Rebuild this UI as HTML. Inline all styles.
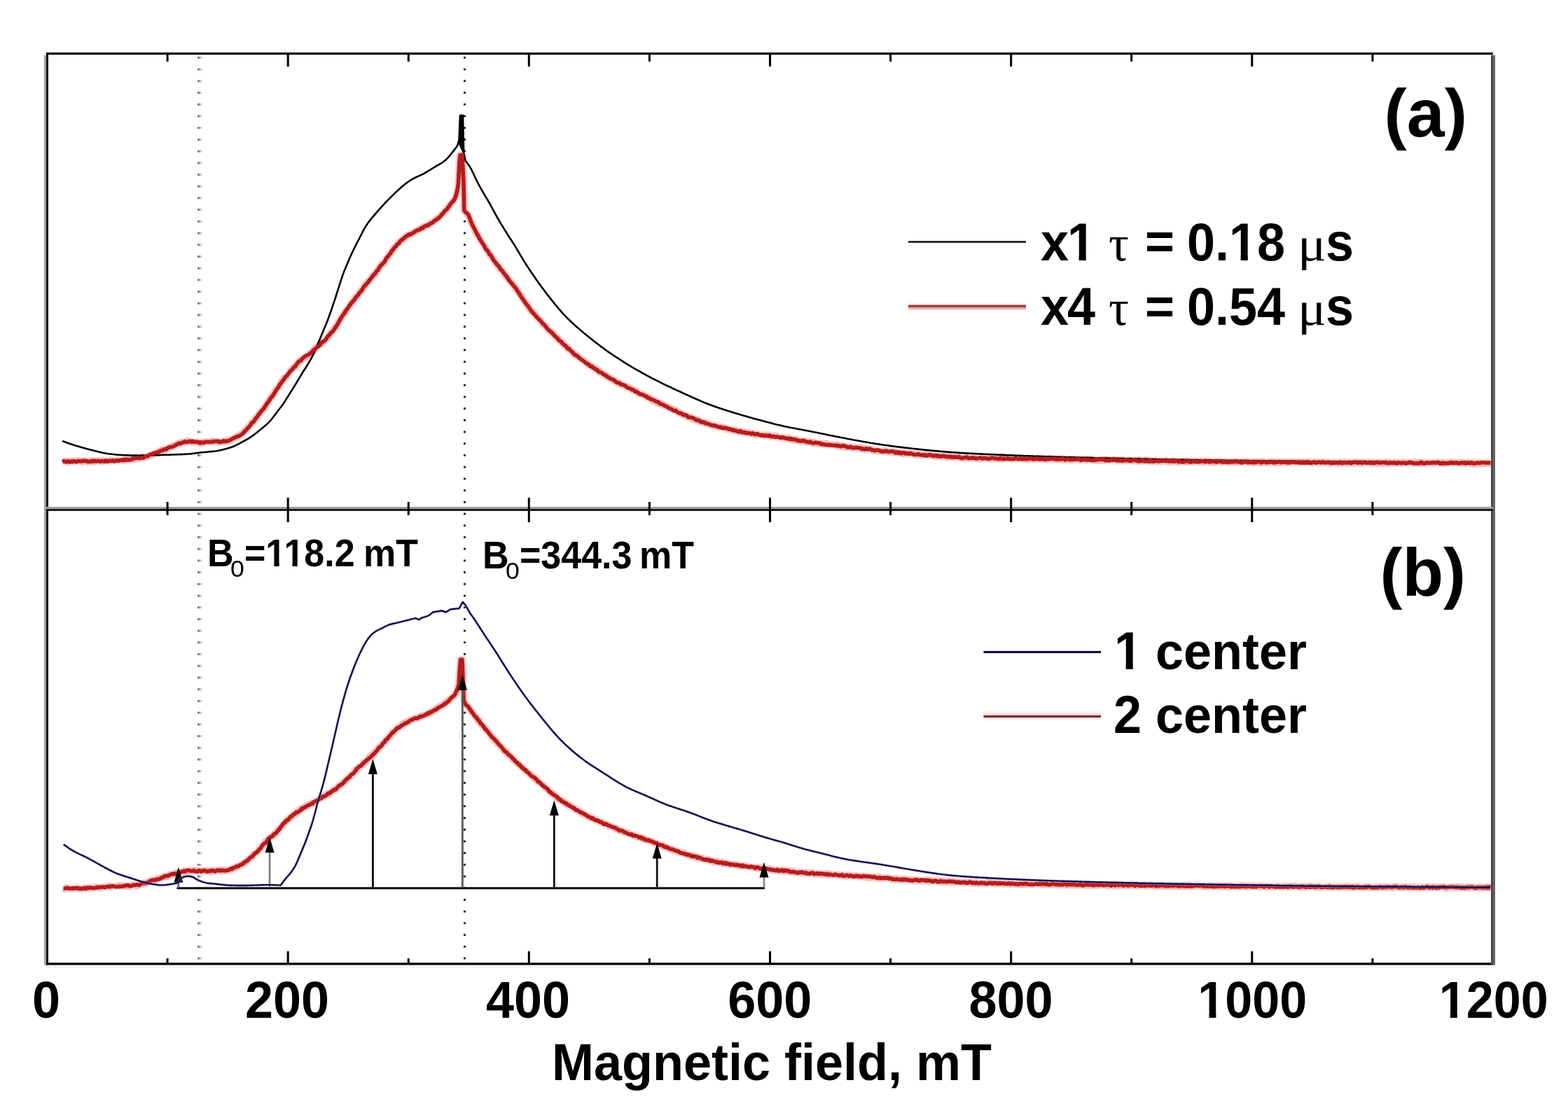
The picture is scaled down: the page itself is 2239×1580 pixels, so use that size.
<!DOCTYPE html><html><head><meta charset="utf-8"><style>html,body{margin:0;padding:0;background:#fff;width:2239px;height:1580px;overflow:hidden}svg{display:block}</style></head><body><svg width="2239" height="1580" viewBox="0 0 2239 1580"><rect x="0" y="0" width="2239" height="1580" fill="#fff"/><rect x="282.0" y="80.9" width="3" height="3" fill="#7c7c7c"/><rect x="285.0" y="80.9" width="3" height="3" fill="#c4c4c4"/><rect x="282.0" y="97.6" width="3" height="3" fill="#7c7c7c"/><rect x="285.0" y="97.6" width="3" height="3" fill="#c4c4c4"/><rect x="282.0" y="114.3" width="3" height="3" fill="#7c7c7c"/><rect x="285.0" y="114.3" width="3" height="3" fill="#c4c4c4"/><rect x="282.0" y="131.0" width="3" height="3" fill="#7c7c7c"/><rect x="285.0" y="131.0" width="3" height="3" fill="#c4c4c4"/><rect x="282.0" y="147.7" width="3" height="3" fill="#7c7c7c"/><rect x="285.0" y="147.7" width="3" height="3" fill="#c4c4c4"/><rect x="282.0" y="164.5" width="3" height="3" fill="#7c7c7c"/><rect x="285.0" y="164.5" width="3" height="3" fill="#c4c4c4"/><rect x="282.0" y="181.2" width="3" height="3" fill="#7c7c7c"/><rect x="285.0" y="181.2" width="3" height="3" fill="#c4c4c4"/><rect x="282.0" y="197.9" width="3" height="3" fill="#7c7c7c"/><rect x="285.0" y="197.9" width="3" height="3" fill="#c4c4c4"/><rect x="282.0" y="214.6" width="3" height="3" fill="#7c7c7c"/><rect x="285.0" y="214.6" width="3" height="3" fill="#c4c4c4"/><rect x="282.0" y="231.3" width="3" height="3" fill="#7c7c7c"/><rect x="285.0" y="231.3" width="3" height="3" fill="#c4c4c4"/><rect x="282.0" y="248.0" width="3" height="3" fill="#7c7c7c"/><rect x="285.0" y="248.0" width="3" height="3" fill="#c4c4c4"/><rect x="282.0" y="264.7" width="3" height="3" fill="#7c7c7c"/><rect x="285.0" y="264.7" width="3" height="3" fill="#c4c4c4"/><rect x="282.0" y="281.4" width="3" height="3" fill="#7c7c7c"/><rect x="285.0" y="281.4" width="3" height="3" fill="#c4c4c4"/><rect x="282.0" y="298.1" width="3" height="3" fill="#7c7c7c"/><rect x="285.0" y="298.1" width="3" height="3" fill="#c4c4c4"/><rect x="282.0" y="314.8" width="3" height="3" fill="#7c7c7c"/><rect x="285.0" y="314.8" width="3" height="3" fill="#c4c4c4"/><rect x="282.0" y="331.6" width="3" height="3" fill="#7c7c7c"/><rect x="285.0" y="331.6" width="3" height="3" fill="#c4c4c4"/><rect x="282.0" y="348.3" width="3" height="3" fill="#7c7c7c"/><rect x="285.0" y="348.3" width="3" height="3" fill="#c4c4c4"/><rect x="282.0" y="365.0" width="3" height="3" fill="#7c7c7c"/><rect x="285.0" y="365.0" width="3" height="3" fill="#c4c4c4"/><rect x="282.0" y="381.7" width="3" height="3" fill="#7c7c7c"/><rect x="285.0" y="381.7" width="3" height="3" fill="#c4c4c4"/><rect x="282.0" y="398.4" width="3" height="3" fill="#7c7c7c"/><rect x="285.0" y="398.4" width="3" height="3" fill="#c4c4c4"/><rect x="282.0" y="415.1" width="3" height="3" fill="#7c7c7c"/><rect x="285.0" y="415.1" width="3" height="3" fill="#c4c4c4"/><rect x="282.0" y="431.8" width="3" height="3" fill="#7c7c7c"/><rect x="285.0" y="431.8" width="3" height="3" fill="#c4c4c4"/><rect x="282.0" y="448.5" width="3" height="3" fill="#7c7c7c"/><rect x="285.0" y="448.5" width="3" height="3" fill="#c4c4c4"/><rect x="282.0" y="465.2" width="3" height="3" fill="#7c7c7c"/><rect x="285.0" y="465.2" width="3" height="3" fill="#c4c4c4"/><rect x="282.0" y="481.9" width="3" height="3" fill="#7c7c7c"/><rect x="285.0" y="481.9" width="3" height="3" fill="#c4c4c4"/><rect x="282.0" y="498.6" width="3" height="3" fill="#7c7c7c"/><rect x="285.0" y="498.6" width="3" height="3" fill="#c4c4c4"/><rect x="282.0" y="515.4" width="3" height="3" fill="#7c7c7c"/><rect x="285.0" y="515.4" width="3" height="3" fill="#c4c4c4"/><rect x="282.0" y="532.1" width="3" height="3" fill="#7c7c7c"/><rect x="285.0" y="532.1" width="3" height="3" fill="#c4c4c4"/><rect x="282.0" y="548.8" width="3" height="3" fill="#7c7c7c"/><rect x="285.0" y="548.8" width="3" height="3" fill="#c4c4c4"/><rect x="282.0" y="565.5" width="3" height="3" fill="#7c7c7c"/><rect x="285.0" y="565.5" width="3" height="3" fill="#c4c4c4"/><rect x="282.0" y="582.2" width="3" height="3" fill="#7c7c7c"/><rect x="285.0" y="582.2" width="3" height="3" fill="#c4c4c4"/><rect x="282.0" y="598.9" width="3" height="3" fill="#7c7c7c"/><rect x="285.0" y="598.9" width="3" height="3" fill="#c4c4c4"/><rect x="282.0" y="615.6" width="3" height="3" fill="#7c7c7c"/><rect x="285.0" y="615.6" width="3" height="3" fill="#c4c4c4"/><rect x="282.0" y="632.3" width="3" height="3" fill="#7c7c7c"/><rect x="285.0" y="632.3" width="3" height="3" fill="#c4c4c4"/><rect x="282.0" y="649.0" width="3" height="3" fill="#7c7c7c"/><rect x="285.0" y="649.0" width="3" height="3" fill="#c4c4c4"/><rect x="282.0" y="665.8" width="3" height="3" fill="#7c7c7c"/><rect x="285.0" y="665.8" width="3" height="3" fill="#c4c4c4"/><rect x="282.0" y="682.5" width="3" height="3" fill="#7c7c7c"/><rect x="285.0" y="682.5" width="3" height="3" fill="#c4c4c4"/><rect x="282.0" y="699.2" width="3" height="3" fill="#7c7c7c"/><rect x="285.0" y="699.2" width="3" height="3" fill="#c4c4c4"/><rect x="282.0" y="715.9" width="3" height="3" fill="#7c7c7c"/><rect x="285.0" y="715.9" width="3" height="3" fill="#c4c4c4"/><rect x="282.0" y="732.6" width="3" height="3" fill="#7c7c7c"/><rect x="285.0" y="732.6" width="3" height="3" fill="#c4c4c4"/><rect x="282.0" y="749.3" width="3" height="3" fill="#7c7c7c"/><rect x="285.0" y="749.3" width="3" height="3" fill="#c4c4c4"/><rect x="282.0" y="766.0" width="3" height="3" fill="#7c7c7c"/><rect x="285.0" y="766.0" width="3" height="3" fill="#c4c4c4"/><rect x="282.0" y="782.7" width="3" height="3" fill="#7c7c7c"/><rect x="285.0" y="782.7" width="3" height="3" fill="#c4c4c4"/><rect x="282.0" y="799.4" width="3" height="3" fill="#7c7c7c"/><rect x="285.0" y="799.4" width="3" height="3" fill="#c4c4c4"/><rect x="282.0" y="816.1" width="3" height="3" fill="#7c7c7c"/><rect x="285.0" y="816.1" width="3" height="3" fill="#c4c4c4"/><rect x="282.0" y="832.9" width="3" height="3" fill="#7c7c7c"/><rect x="285.0" y="832.9" width="3" height="3" fill="#c4c4c4"/><rect x="282.0" y="849.6" width="3" height="3" fill="#7c7c7c"/><rect x="285.0" y="849.6" width="3" height="3" fill="#c4c4c4"/><rect x="282.0" y="866.3" width="3" height="3" fill="#7c7c7c"/><rect x="285.0" y="866.3" width="3" height="3" fill="#c4c4c4"/><rect x="282.0" y="883.0" width="3" height="3" fill="#7c7c7c"/><rect x="285.0" y="883.0" width="3" height="3" fill="#c4c4c4"/><rect x="282.0" y="899.7" width="3" height="3" fill="#7c7c7c"/><rect x="285.0" y="899.7" width="3" height="3" fill="#c4c4c4"/><rect x="282.0" y="916.4" width="3" height="3" fill="#7c7c7c"/><rect x="285.0" y="916.4" width="3" height="3" fill="#c4c4c4"/><rect x="282.0" y="933.1" width="3" height="3" fill="#7c7c7c"/><rect x="285.0" y="933.1" width="3" height="3" fill="#c4c4c4"/><rect x="282.0" y="949.8" width="3" height="3" fill="#7c7c7c"/><rect x="285.0" y="949.8" width="3" height="3" fill="#c4c4c4"/><rect x="282.0" y="966.5" width="3" height="3" fill="#7c7c7c"/><rect x="285.0" y="966.5" width="3" height="3" fill="#c4c4c4"/><rect x="282.0" y="983.2" width="3" height="3" fill="#7c7c7c"/><rect x="285.0" y="983.2" width="3" height="3" fill="#c4c4c4"/><rect x="282.0" y="1000.0" width="3" height="3" fill="#7c7c7c"/><rect x="285.0" y="1000.0" width="3" height="3" fill="#c4c4c4"/><rect x="282.0" y="1016.7" width="3" height="3" fill="#7c7c7c"/><rect x="285.0" y="1016.7" width="3" height="3" fill="#c4c4c4"/><rect x="282.0" y="1033.4" width="3" height="3" fill="#7c7c7c"/><rect x="285.0" y="1033.4" width="3" height="3" fill="#c4c4c4"/><rect x="282.0" y="1050.1" width="3" height="3" fill="#7c7c7c"/><rect x="285.0" y="1050.1" width="3" height="3" fill="#c4c4c4"/><rect x="282.0" y="1066.8" width="3" height="3" fill="#7c7c7c"/><rect x="285.0" y="1066.8" width="3" height="3" fill="#c4c4c4"/><rect x="282.0" y="1083.5" width="3" height="3" fill="#7c7c7c"/><rect x="285.0" y="1083.5" width="3" height="3" fill="#c4c4c4"/><rect x="282.0" y="1100.2" width="3" height="3" fill="#7c7c7c"/><rect x="285.0" y="1100.2" width="3" height="3" fill="#c4c4c4"/><rect x="282.0" y="1116.9" width="3" height="3" fill="#7c7c7c"/><rect x="285.0" y="1116.9" width="3" height="3" fill="#c4c4c4"/><rect x="282.0" y="1133.6" width="3" height="3" fill="#7c7c7c"/><rect x="285.0" y="1133.6" width="3" height="3" fill="#c4c4c4"/><rect x="282.0" y="1150.3" width="3" height="3" fill="#7c7c7c"/><rect x="285.0" y="1150.3" width="3" height="3" fill="#c4c4c4"/><rect x="282.0" y="1167.1" width="3" height="3" fill="#7c7c7c"/><rect x="285.0" y="1167.1" width="3" height="3" fill="#c4c4c4"/><rect x="282.0" y="1183.8" width="3" height="3" fill="#7c7c7c"/><rect x="285.0" y="1183.8" width="3" height="3" fill="#c4c4c4"/><rect x="282.0" y="1200.5" width="3" height="3" fill="#7c7c7c"/><rect x="285.0" y="1200.5" width="3" height="3" fill="#c4c4c4"/><rect x="282.0" y="1217.2" width="3" height="3" fill="#7c7c7c"/><rect x="285.0" y="1217.2" width="3" height="3" fill="#c4c4c4"/><rect x="282.0" y="1233.9" width="3" height="3" fill="#7c7c7c"/><rect x="285.0" y="1233.9" width="3" height="3" fill="#c4c4c4"/><rect x="282.0" y="1250.6" width="3" height="3" fill="#7c7c7c"/><rect x="285.0" y="1250.6" width="3" height="3" fill="#c4c4c4"/><rect x="282.0" y="1267.3" width="3" height="3" fill="#7c7c7c"/><rect x="285.0" y="1267.3" width="3" height="3" fill="#c4c4c4"/><rect x="282.0" y="1284.0" width="3" height="3" fill="#7c7c7c"/><rect x="285.0" y="1284.0" width="3" height="3" fill="#c4c4c4"/><rect x="282.0" y="1300.7" width="3" height="3" fill="#7c7c7c"/><rect x="285.0" y="1300.7" width="3" height="3" fill="#c4c4c4"/><rect x="282.0" y="1317.4" width="3" height="3" fill="#7c7c7c"/><rect x="285.0" y="1317.4" width="3" height="3" fill="#c4c4c4"/><rect x="282.0" y="1334.2" width="3" height="3" fill="#7c7c7c"/><rect x="285.0" y="1334.2" width="3" height="3" fill="#c4c4c4"/><rect x="282.0" y="1350.9" width="3" height="3" fill="#7c7c7c"/><rect x="285.0" y="1350.9" width="3" height="3" fill="#c4c4c4"/><rect x="282.0" y="1367.6" width="3" height="3" fill="#7c7c7c"/><rect x="285.0" y="1367.6" width="3" height="3" fill="#c4c4c4"/><rect x="662.0" y="79.6" width="3" height="1.5" fill="#e2e2e2"/><rect x="662.0" y="81.1" width="3" height="2.6" fill="#161616"/><rect x="662.0" y="96.3" width="3" height="1.5" fill="#e2e2e2"/><rect x="662.0" y="97.8" width="3" height="2.6" fill="#161616"/><rect x="662.0" y="113.0" width="3" height="1.5" fill="#e2e2e2"/><rect x="662.0" y="114.5" width="3" height="2.6" fill="#161616"/><rect x="662.0" y="129.7" width="3" height="1.5" fill="#e2e2e2"/><rect x="662.0" y="131.2" width="3" height="2.6" fill="#161616"/><rect x="662.0" y="146.4" width="3" height="1.5" fill="#e2e2e2"/><rect x="662.0" y="147.9" width="3" height="2.6" fill="#161616"/><rect x="662.0" y="163.2" width="3" height="1.5" fill="#e2e2e2"/><rect x="662.0" y="164.7" width="3" height="2.6" fill="#161616"/><rect x="662.0" y="179.9" width="3" height="1.5" fill="#e2e2e2"/><rect x="662.0" y="181.4" width="3" height="2.6" fill="#161616"/><rect x="662.0" y="196.6" width="3" height="1.5" fill="#e2e2e2"/><rect x="662.0" y="198.1" width="3" height="2.6" fill="#161616"/><rect x="662.0" y="213.3" width="3" height="1.5" fill="#e2e2e2"/><rect x="662.0" y="214.8" width="3" height="2.6" fill="#161616"/><rect x="662.0" y="230.0" width="3" height="1.5" fill="#e2e2e2"/><rect x="662.0" y="231.5" width="3" height="2.6" fill="#161616"/><rect x="662.0" y="246.7" width="3" height="1.5" fill="#e2e2e2"/><rect x="662.0" y="248.2" width="3" height="2.6" fill="#161616"/><rect x="662.0" y="263.4" width="3" height="1.5" fill="#e2e2e2"/><rect x="662.0" y="264.9" width="3" height="2.6" fill="#161616"/><rect x="662.0" y="280.1" width="3" height="1.5" fill="#e2e2e2"/><rect x="662.0" y="281.6" width="3" height="2.6" fill="#161616"/><rect x="662.0" y="296.8" width="3" height="1.5" fill="#e2e2e2"/><rect x="662.0" y="298.3" width="3" height="2.6" fill="#161616"/><rect x="662.0" y="313.5" width="3" height="1.5" fill="#e2e2e2"/><rect x="662.0" y="315.0" width="3" height="2.6" fill="#161616"/><rect x="662.0" y="330.2" width="3" height="1.5" fill="#e2e2e2"/><rect x="662.0" y="331.8" width="3" height="2.6" fill="#161616"/><rect x="662.0" y="347.0" width="3" height="1.5" fill="#e2e2e2"/><rect x="662.0" y="348.5" width="3" height="2.6" fill="#161616"/><rect x="662.0" y="363.7" width="3" height="1.5" fill="#e2e2e2"/><rect x="662.0" y="365.2" width="3" height="2.6" fill="#161616"/><rect x="662.0" y="380.4" width="3" height="1.5" fill="#e2e2e2"/><rect x="662.0" y="381.9" width="3" height="2.6" fill="#161616"/><rect x="662.0" y="397.1" width="3" height="1.5" fill="#e2e2e2"/><rect x="662.0" y="398.6" width="3" height="2.6" fill="#161616"/><rect x="662.0" y="413.8" width="3" height="1.5" fill="#e2e2e2"/><rect x="662.0" y="415.3" width="3" height="2.6" fill="#161616"/><rect x="662.0" y="430.5" width="3" height="1.5" fill="#e2e2e2"/><rect x="662.0" y="432.0" width="3" height="2.6" fill="#161616"/><rect x="662.0" y="447.2" width="3" height="1.5" fill="#e2e2e2"/><rect x="662.0" y="448.7" width="3" height="2.6" fill="#161616"/><rect x="662.0" y="463.9" width="3" height="1.5" fill="#e2e2e2"/><rect x="662.0" y="465.4" width="3" height="2.6" fill="#161616"/><rect x="662.0" y="480.6" width="3" height="1.5" fill="#e2e2e2"/><rect x="662.0" y="482.1" width="3" height="2.6" fill="#161616"/><rect x="662.0" y="497.3" width="3" height="1.5" fill="#e2e2e2"/><rect x="662.0" y="498.8" width="3" height="2.6" fill="#161616"/><rect x="662.0" y="514.1" width="3" height="1.5" fill="#e2e2e2"/><rect x="662.0" y="515.6" width="3" height="2.6" fill="#161616"/><rect x="662.0" y="530.8" width="3" height="1.5" fill="#e2e2e2"/><rect x="662.0" y="532.3" width="3" height="2.6" fill="#161616"/><rect x="662.0" y="547.5" width="3" height="1.5" fill="#e2e2e2"/><rect x="662.0" y="549.0" width="3" height="2.6" fill="#161616"/><rect x="662.0" y="564.2" width="3" height="1.5" fill="#e2e2e2"/><rect x="662.0" y="565.7" width="3" height="2.6" fill="#161616"/><rect x="662.0" y="580.9" width="3" height="1.5" fill="#e2e2e2"/><rect x="662.0" y="582.4" width="3" height="2.6" fill="#161616"/><rect x="662.0" y="597.6" width="3" height="1.5" fill="#e2e2e2"/><rect x="662.0" y="599.1" width="3" height="2.6" fill="#161616"/><rect x="662.0" y="614.3" width="3" height="1.5" fill="#e2e2e2"/><rect x="662.0" y="615.8" width="3" height="2.6" fill="#161616"/><rect x="662.0" y="631.0" width="3" height="1.5" fill="#e2e2e2"/><rect x="662.0" y="632.5" width="3" height="2.6" fill="#161616"/><rect x="662.0" y="647.7" width="3" height="1.5" fill="#e2e2e2"/><rect x="662.0" y="649.2" width="3" height="2.6" fill="#161616"/><rect x="662.0" y="664.5" width="3" height="1.5" fill="#e2e2e2"/><rect x="662.0" y="666.0" width="3" height="2.6" fill="#161616"/><rect x="662.0" y="681.2" width="3" height="1.5" fill="#e2e2e2"/><rect x="662.0" y="682.7" width="3" height="2.6" fill="#161616"/><rect x="662.0" y="697.9" width="3" height="1.5" fill="#e2e2e2"/><rect x="662.0" y="699.4" width="3" height="2.6" fill="#161616"/><rect x="662.0" y="714.6" width="3" height="1.5" fill="#e2e2e2"/><rect x="662.0" y="716.1" width="3" height="2.6" fill="#161616"/><rect x="662.0" y="731.3" width="3" height="1.5" fill="#e2e2e2"/><rect x="662.0" y="732.8" width="3" height="2.6" fill="#161616"/><rect x="662.0" y="748.0" width="3" height="1.5" fill="#e2e2e2"/><rect x="662.0" y="749.5" width="3" height="2.6" fill="#161616"/><rect x="662.0" y="764.7" width="3" height="1.5" fill="#e2e2e2"/><rect x="662.0" y="766.2" width="3" height="2.6" fill="#161616"/><rect x="662.0" y="781.4" width="3" height="1.5" fill="#e2e2e2"/><rect x="662.0" y="782.9" width="3" height="2.6" fill="#161616"/><rect x="662.0" y="798.1" width="3" height="1.5" fill="#e2e2e2"/><rect x="662.0" y="799.6" width="3" height="2.6" fill="#161616"/><rect x="662.0" y="814.8" width="3" height="1.5" fill="#e2e2e2"/><rect x="662.0" y="816.3" width="3" height="2.6" fill="#161616"/><rect x="662.0" y="831.6" width="3" height="1.5" fill="#e2e2e2"/><rect x="662.0" y="833.1" width="3" height="2.6" fill="#161616"/><rect x="662.0" y="848.3" width="3" height="1.5" fill="#e2e2e2"/><rect x="662.0" y="849.8" width="3" height="2.6" fill="#161616"/><rect x="662.0" y="865.0" width="3" height="1.5" fill="#e2e2e2"/><rect x="662.0" y="866.5" width="3" height="2.6" fill="#161616"/><rect x="662.0" y="881.7" width="3" height="1.5" fill="#e2e2e2"/><rect x="662.0" y="883.2" width="3" height="2.6" fill="#161616"/><rect x="662.0" y="898.4" width="3" height="1.5" fill="#e2e2e2"/><rect x="662.0" y="899.9" width="3" height="2.6" fill="#161616"/><rect x="662.0" y="915.1" width="3" height="1.5" fill="#e2e2e2"/><rect x="662.0" y="916.6" width="3" height="2.6" fill="#161616"/><rect x="662.0" y="931.8" width="3" height="1.5" fill="#e2e2e2"/><rect x="662.0" y="933.3" width="3" height="2.6" fill="#161616"/><rect x="662.0" y="948.5" width="3" height="1.5" fill="#e2e2e2"/><rect x="662.0" y="950.0" width="3" height="2.6" fill="#161616"/><rect x="662.0" y="965.2" width="3" height="1.5" fill="#e2e2e2"/><rect x="662.0" y="966.7" width="3" height="2.6" fill="#161616"/><rect x="662.0" y="981.9" width="3" height="1.5" fill="#e2e2e2"/><rect x="662.0" y="983.4" width="3" height="2.6" fill="#161616"/><rect x="662.0" y="998.7" width="3" height="1.5" fill="#e2e2e2"/><rect x="662.0" y="1000.2" width="3" height="2.6" fill="#161616"/><rect x="662.0" y="1015.4" width="3" height="1.5" fill="#e2e2e2"/><rect x="662.0" y="1016.9" width="3" height="2.6" fill="#161616"/><rect x="662.0" y="1032.1" width="3" height="1.5" fill="#e2e2e2"/><rect x="662.0" y="1033.6" width="3" height="2.6" fill="#161616"/><rect x="662.0" y="1048.8" width="3" height="1.5" fill="#e2e2e2"/><rect x="662.0" y="1050.3" width="3" height="2.6" fill="#161616"/><rect x="662.0" y="1065.5" width="3" height="1.5" fill="#e2e2e2"/><rect x="662.0" y="1067.0" width="3" height="2.6" fill="#161616"/><rect x="662.0" y="1082.2" width="3" height="1.5" fill="#e2e2e2"/><rect x="662.0" y="1083.7" width="3" height="2.6" fill="#161616"/><rect x="662.0" y="1098.9" width="3" height="1.5" fill="#e2e2e2"/><rect x="662.0" y="1100.4" width="3" height="2.6" fill="#161616"/><rect x="662.0" y="1115.6" width="3" height="1.5" fill="#e2e2e2"/><rect x="662.0" y="1117.1" width="3" height="2.6" fill="#161616"/><rect x="662.0" y="1132.3" width="3" height="1.5" fill="#e2e2e2"/><rect x="662.0" y="1133.8" width="3" height="2.6" fill="#161616"/><rect x="662.0" y="1149.0" width="3" height="1.5" fill="#e2e2e2"/><rect x="662.0" y="1150.5" width="3" height="2.6" fill="#161616"/><rect x="662.0" y="1165.8" width="3" height="1.5" fill="#e2e2e2"/><rect x="662.0" y="1167.3" width="3" height="2.6" fill="#161616"/><rect x="662.0" y="1182.5" width="3" height="1.5" fill="#e2e2e2"/><rect x="662.0" y="1184.0" width="3" height="2.6" fill="#161616"/><rect x="662.0" y="1199.2" width="3" height="1.5" fill="#e2e2e2"/><rect x="662.0" y="1200.7" width="3" height="2.6" fill="#161616"/><rect x="662.0" y="1215.9" width="3" height="1.5" fill="#e2e2e2"/><rect x="662.0" y="1217.4" width="3" height="2.6" fill="#161616"/><rect x="662.0" y="1232.6" width="3" height="1.5" fill="#e2e2e2"/><rect x="662.0" y="1234.1" width="3" height="2.6" fill="#161616"/><rect x="662.0" y="1249.3" width="3" height="1.5" fill="#e2e2e2"/><rect x="662.0" y="1250.8" width="3" height="2.6" fill="#161616"/><rect x="662.0" y="1266.0" width="3" height="1.5" fill="#e2e2e2"/><rect x="662.0" y="1267.5" width="3" height="2.6" fill="#161616"/><rect x="662.0" y="1282.7" width="3" height="1.5" fill="#e2e2e2"/><rect x="662.0" y="1284.2" width="3" height="2.6" fill="#161616"/><rect x="662.0" y="1299.4" width="3" height="1.5" fill="#e2e2e2"/><rect x="662.0" y="1300.9" width="3" height="2.6" fill="#161616"/><rect x="662.0" y="1316.1" width="3" height="1.5" fill="#e2e2e2"/><rect x="662.0" y="1317.6" width="3" height="2.6" fill="#161616"/><rect x="662.0" y="1332.9" width="3" height="1.5" fill="#e2e2e2"/><rect x="662.0" y="1334.4" width="3" height="2.6" fill="#161616"/><rect x="662.0" y="1349.6" width="3" height="1.5" fill="#e2e2e2"/><rect x="662.0" y="1351.1" width="3" height="2.6" fill="#161616"/><rect x="662.0" y="1366.3" width="3" height="1.5" fill="#e2e2e2"/><rect x="662.0" y="1367.8" width="3" height="2.6" fill="#161616"/><path d="M89.1 659.6 L91.1 659.6 L93.1 659.5 L95.1 659.5 L97.1 659.4 L99.1 659.4 L101.1 659.4 L103.1 659.3 L105.1 659.3 L107.1 659.2 L109.1 659.2 L111.1 659.2 L113.1 659.1 L115.1 659.1 L117.1 659.1 L119.1 659.0 L121.1 659.0 L123.1 659.0 L125.1 658.9 L127.1 658.9 L129.1 658.9 L131.1 658.9 L133.1 658.9 L135.1 658.8 L137.1 658.8 L139.1 658.8 L141.1 658.8 L143.1 658.7 L145.1 658.7 L147.1 658.6 L149.1 658.6 L151.1 658.6 L153.1 658.5 L155.1 658.4 L157.1 658.4 L159.1 658.3 L161.2 658.2 L163.2 658.1 L165.2 658.0 L167.2 657.9 L169.2 657.8 L171.2 657.7 L173.2 657.6 L175.2 657.4 L177.2 657.2 L179.2 657.0 L181.2 656.8 L183.2 656.5 L185.2 656.2 L187.2 656.0 L189.2 655.7 L191.2 655.5 L193.2 655.2 L195.2 655.0 L197.2 654.7 L199.2 654.4 L201.2 654.1 L203.2 653.7 L205.2 653.2 L207.2 652.7 L209.2 652.0 L211.2 651.4 L213.2 650.7 L215.2 649.9 L217.2 649.1 L219.2 648.3 L221.2 647.5 L223.2 646.6 L225.2 645.8 L227.2 645.0 L229.2 644.2 L231.2 643.5 L233.2 642.7 L235.2 642.0 L237.2 641.2 L239.2 640.5 L241.2 639.7 L243.2 639.0 L245.2 638.2 L247.2 637.4 L249.2 636.6 L251.2 635.8 L253.2 635.0 L255.2 634.2 L257.2 633.4 L259.2 632.7 L261.2 632.1 L263.2 631.5 L265.2 631.1 L267.2 630.8 L269.2 630.6 L271.2 630.6 L273.2 630.7 L275.2 631.0 L277.2 631.2 L279.2 631.6 L281.2 631.9 L283.2 632.1 L285.2 632.3 L287.2 632.3 L289.2 632.3 L291.2 632.1 L293.2 631.9 L295.2 631.6 L297.2 631.4 L299.2 631.2 L301.3 631.0 L303.3 630.9 L305.3 630.9 L307.3 630.9 L309.3 630.8 L311.3 630.8 L313.3 630.8 L315.3 630.7 L317.3 630.6 L319.3 630.5 L321.3 630.3 L323.3 630.0 L325.3 629.6 L327.3 629.0 L329.3 628.3 L331.3 627.5 L333.3 626.7 L335.3 625.8 L337.3 624.8 L339.3 623.8 L341.3 622.6 L343.3 621.4 L345.3 620.0 L347.3 618.4 L349.3 616.5 L351.3 614.5 L353.3 612.3 L355.3 609.9 L357.3 607.4 L359.3 604.9 L361.3 602.5 L363.3 600.1 L365.3 597.8 L367.3 595.4 L369.3 592.9 L371.3 590.4 L373.3 587.7 L375.3 584.9 L377.3 582.0 L379.3 579.2 L381.3 576.4 L383.3 573.7 L385.3 570.9 L387.3 568.1 L389.3 565.2 L391.3 562.1 L393.3 559.0 L395.3 555.8 L397.3 552.7 L399.3 549.7 L401.3 546.8 L403.3 544.1 L405.3 541.5 L407.3 539.0 L409.3 536.6 L411.3 534.4 L413.3 532.1 L415.3 529.9 L417.3 527.8 L419.3 525.5 L421.3 523.3 L423.3 521.0 L425.3 518.8 L427.3 516.7 L429.3 514.8 L431.3 513.1 L433.3 511.5 L435.3 510.0 L437.3 508.6 L439.3 507.2 L441.3 505.7 L443.4 504.3 L445.4 502.7 L447.4 501.0 L449.4 499.2 L451.4 497.3 L453.4 495.4 L455.4 493.5 L457.4 491.6 L459.4 489.7 L461.4 487.8 L463.4 485.9 L465.4 484.0 L467.4 482.0 L469.4 480.0 L471.4 477.7 L473.4 475.3 L475.4 472.7 L477.4 469.8 L479.4 466.8 L481.4 463.6 L483.4 460.4 L485.4 457.2 L487.4 454.1 L489.4 450.9 L491.4 447.9 L493.4 444.9 L495.4 442.0 L497.4 439.2 L499.4 436.5 L501.4 433.9 L503.4 431.2 L505.4 428.6 L507.4 426.0 L509.4 423.3 L511.4 420.7 L513.4 418.1 L515.4 415.6 L517.4 413.1 L519.4 410.6 L521.4 408.1 L523.4 405.5 L525.4 403.0 L527.4 400.5 L529.4 398.0 L531.4 395.6 L533.4 393.2 L535.4 390.8 L537.4 388.3 L539.4 385.8 L541.4 383.3 L543.4 380.7 L545.4 378.1 L547.4 375.4 L549.4 372.6 L551.4 369.8 L553.4 367.0 L555.4 364.3 L557.4 361.6 L559.4 358.9 L561.4 356.4 L563.4 353.9 L565.4 351.5 L567.4 349.2 L569.4 347.1 L571.4 345.1 L573.4 343.2 L575.4 341.5 L577.4 339.8 L579.4 338.3 L581.4 337.0 L583.4 335.7 L585.5 334.5 L587.5 333.5 L589.5 332.4 L591.5 331.4 L593.5 330.4 L595.5 329.4 L597.5 328.4 L599.5 327.4 L601.5 326.5 L603.5 325.5 L605.5 324.5 L607.5 323.4 L609.5 322.4 L611.5 321.3 L613.5 320.1 L615.5 318.9 L617.5 317.6 L619.5 316.3 L621.5 314.8 L623.5 313.3 L625.5 311.7 L627.5 310.0 L629.5 308.1 L631.5 306.0 L633.5 303.8 L635.5 301.4 L637.5 299.0 L639.5 296.5 L641.5 294.0 L643.5 291.6 L645.5 289.2 L647.5 286.6 L649.5 283.4 L651.5 278.7 L653.5 269.6 L654.5 262.0 L656.0 232.0 L657.0 221.5 L660.0 221.5 L662.0 262.0 L662.8 300.7 L664.8 302.7 L666.8 304.8 L668.8 307.5 L670.8 311.9 L672.8 317.0 L674.8 321.7 L676.8 326.0 L678.8 330.1 L680.8 333.9 L682.8 337.6 L684.8 341.1 L686.8 344.4 L688.8 347.6 L690.8 350.6 L692.8 353.5 L694.8 356.5 L696.8 359.4 L698.8 362.4 L700.8 365.3 L702.8 368.2 L704.8 370.9 L706.8 373.7 L708.8 376.4 L710.8 379.0 L712.8 381.7 L714.8 384.4 L716.8 387.0 L718.8 389.6 L720.8 392.2 L722.8 394.8 L724.8 397.3 L726.8 399.9 L728.8 402.4 L730.8 404.9 L732.8 407.4 L734.8 410.0 L736.8 412.7 L738.8 415.5 L740.8 418.4 L742.8 421.3 L744.8 424.4 L746.8 427.4 L748.8 430.4 L750.8 433.3 L752.8 436.0 L754.8 438.7 L756.8 441.3 L758.8 443.7 L760.8 446.1 L762.8 448.5 L764.8 450.8 L766.8 453.0 L768.8 455.2 L770.8 457.4 L772.8 459.6 L774.8 461.8 L776.8 464.0 L778.8 466.2 L780.8 468.3 L782.8 470.4 L784.8 472.4 L786.8 474.5 L788.8 476.4 L790.8 478.4 L792.8 480.3 L794.8 482.2 L796.8 484.1 L798.8 486.0 L800.8 487.9 L802.8 489.8 L804.8 491.7 L806.8 493.6 L808.8 495.5 L810.8 497.4 L812.8 499.3 L814.8 501.1 L816.8 502.8 L818.8 504.6 L820.8 506.2 L822.8 507.9 L824.8 509.4 L826.8 511.0 L828.8 512.5 L830.8 513.9 L832.8 515.4 L834.8 516.8 L836.8 518.2 L838.8 519.5 L840.8 520.9 L842.8 522.3 L844.8 523.7 L846.8 525.0 L848.8 526.4 L850.8 527.7 L852.8 529.1 L854.8 530.4 L856.8 531.7 L858.8 533.1 L860.8 534.3 L862.8 535.6 L864.8 536.8 L866.8 538.0 L868.8 539.2 L870.8 540.3 L872.8 541.4 L874.8 542.5 L876.8 543.6 L878.8 544.6 L880.8 545.7 L882.8 546.7 L884.8 547.7 L886.8 548.7 L888.8 549.7 L890.8 550.7 L892.8 551.7 L894.8 552.7 L896.8 553.7 L898.8 554.7 L900.8 555.7 L902.8 556.7 L904.8 557.7 L906.8 558.7 L908.8 559.7 L910.8 560.7 L912.8 561.7 L914.8 562.7 L916.8 563.7 L918.8 564.7 L920.8 565.7 L922.8 566.7 L924.8 567.7 L926.8 568.7 L928.8 569.7 L930.8 570.7 L932.8 571.7 L934.8 572.7 L936.8 573.7 L938.8 574.7 L940.8 575.7 L942.8 576.7 L944.8 577.7 L946.8 578.6 L948.8 579.6 L950.8 580.6 L952.8 581.5 L954.8 582.5 L956.8 583.5 L958.8 584.4 L960.8 585.4 L962.8 586.3 L964.8 587.2 L966.8 588.2 L968.8 589.1 L970.8 590.0 L972.8 590.9 L974.8 591.8 L976.8 592.7 L978.8 593.5 L980.8 594.4 L982.8 595.2 L984.8 596.1 L986.8 596.9 L988.8 597.6 L990.8 598.4 L992.8 599.1 L994.8 599.9 L996.8 600.6 L998.8 601.3 L1000.8 602.0 L1002.8 602.6 L1004.8 603.3 L1006.8 603.9 L1008.8 604.6 L1010.8 605.2 L1012.8 605.8 L1014.8 606.4 L1016.8 607.0 L1018.8 607.5 L1020.8 608.1 L1022.8 608.7 L1024.8 609.2 L1026.8 609.7 L1028.8 610.3 L1030.9 610.8 L1032.9 611.3 L1034.9 611.8 L1036.9 612.3 L1038.9 612.7 L1040.9 613.2 L1042.9 613.7 L1044.9 614.1 L1046.9 614.6 L1048.9 615.0 L1050.9 615.4 L1052.9 615.8 L1054.9 616.2 L1056.9 616.6 L1058.9 617.0 L1060.9 617.3 L1062.9 617.7 L1064.9 618.0 L1066.9 618.4 L1068.9 618.7 L1070.9 619.0 L1072.9 619.3 L1074.9 619.6 L1076.9 619.9 L1078.9 620.2 L1080.9 620.4 L1082.9 620.7 L1084.9 621.0 L1086.9 621.2 L1088.9 621.5 L1090.9 621.7 L1092.9 622.0 L1094.9 622.3 L1096.9 622.5 L1098.9 622.8 L1100.9 623.0 L1102.9 623.3 L1104.9 623.6 L1106.9 623.8 L1108.9 624.1 L1110.9 624.4 L1112.9 624.7 L1114.9 625.0 L1116.9 625.2 L1118.9 625.5 L1120.9 625.8 L1122.9 626.1 L1124.9 626.5 L1126.9 626.8 L1128.9 627.1 L1130.9 627.4 L1132.9 627.7 L1134.9 628.1 L1136.9 628.4 L1138.9 628.7 L1140.9 629.1 L1142.9 629.4 L1144.9 629.7 L1146.9 630.1 L1148.9 630.4 L1150.9 630.7 L1152.9 631.1 L1154.9 631.4 L1156.9 631.7 L1158.9 632.0 L1160.9 632.3 L1162.9 632.6 L1164.9 632.9 L1166.9 633.2 L1168.9 633.5 L1170.9 633.7 L1172.9 634.0 L1174.9 634.2 L1176.9 634.5 L1178.9 634.7 L1180.9 634.9 L1182.9 635.2 L1184.9 635.4 L1186.9 635.6 L1188.9 635.9 L1190.9 636.1 L1192.9 636.3 L1194.9 636.5 L1196.9 636.8 L1198.9 637.0 L1200.9 637.2 L1202.9 637.4 L1204.9 637.7 L1206.9 637.9 L1208.9 638.1 L1210.9 638.3 L1212.9 638.6 L1214.9 638.8 L1216.9 639.1 L1218.9 639.3 L1220.9 639.5 L1222.9 639.8 L1224.9 640.0 L1226.9 640.3 L1228.9 640.5 L1230.9 640.8 L1232.9 641.0 L1234.9 641.3 L1236.9 641.5 L1238.9 641.8 L1240.9 642.0 L1242.9 642.2 L1244.9 642.5 L1246.9 642.7 L1248.9 643.0 L1250.9 643.2 L1252.9 643.4 L1254.9 643.7 L1256.9 643.9 L1258.9 644.1 L1260.9 644.4 L1262.9 644.6 L1264.9 644.8 L1266.9 645.0 L1268.9 645.2 L1270.9 645.4 L1272.9 645.6 L1274.9 645.9 L1276.9 646.1 L1278.9 646.3 L1280.9 646.5 L1282.9 646.7 L1284.9 646.9 L1286.9 647.1 L1288.9 647.2 L1290.9 647.4 L1292.9 647.6 L1294.9 647.8 L1296.9 648.0 L1298.9 648.2 L1300.9 648.4 L1302.9 648.6 L1304.9 648.7 L1306.9 648.9 L1308.9 649.1 L1310.9 649.3 L1312.9 649.4 L1314.9 649.6 L1316.9 649.8 L1318.9 649.9 L1320.9 650.1 L1322.9 650.3 L1324.9 650.4 L1326.9 650.6 L1328.9 650.7 L1330.9 650.9 L1332.9 651.0 L1334.9 651.2 L1336.9 651.3 L1338.9 651.5 L1340.9 651.6 L1342.9 651.7 L1344.9 651.9 L1346.9 652.0 L1348.9 652.1 L1350.9 652.2 L1352.9 652.4 L1354.9 652.5 L1356.9 652.6 L1358.9 652.7 L1360.9 652.8 L1362.9 653.0 L1364.9 653.1 L1366.9 653.2 L1368.9 653.3 L1370.9 653.4 L1372.9 653.5 L1374.9 653.6 L1376.9 653.7 L1378.9 653.7 L1380.9 653.8 L1382.9 653.9 L1384.9 654.0 L1386.9 654.1 L1388.9 654.1 L1390.9 654.2 L1392.9 654.3 L1394.9 654.3 L1396.9 654.4 L1398.9 654.4 L1400.9 654.5 L1402.9 654.5 L1404.9 654.6 L1406.9 654.6 L1408.9 654.7 L1410.9 654.7 L1412.9 654.7 L1414.9 654.8 L1416.9 654.8 L1418.9 654.8 L1420.9 654.9 L1422.9 654.9 L1424.9 654.9 L1426.9 655.0 L1428.9 655.0 L1430.9 655.0 L1432.9 655.0 L1434.9 655.1 L1436.9 655.1 L1438.9 655.1 L1440.9 655.1 L1442.9 655.1 L1444.9 655.2 L1446.9 655.2 L1448.9 655.2 L1450.9 655.2 L1452.9 655.3 L1454.9 655.3 L1456.9 655.3 L1458.9 655.3 L1460.9 655.3 L1462.9 655.4 L1464.9 655.4 L1466.9 655.4 L1468.9 655.4 L1470.9 655.4 L1472.9 655.5 L1474.9 655.5 L1476.9 655.5 L1478.9 655.5 L1480.9 655.6 L1482.9 655.6 L1484.9 655.6 L1486.9 655.6 L1488.9 655.7 L1490.9 655.7 L1492.9 655.7 L1494.9 655.7 L1496.9 655.8 L1498.9 655.8 L1500.9 655.8 L1502.9 655.9 L1504.9 655.9 L1506.9 655.9 L1508.9 655.9 L1510.9 656.0 L1512.9 656.0 L1514.9 656.0 L1516.9 656.1 L1518.9 656.1 L1520.9 656.1 L1522.9 656.2 L1524.9 656.2 L1526.9 656.2 L1528.9 656.3 L1530.9 656.3 L1532.9 656.3 L1534.9 656.4 L1536.9 656.4 L1538.9 656.4 L1540.9 656.5 L1542.9 656.5 L1544.9 656.5 L1546.9 656.6 L1548.9 656.6 L1550.9 656.6 L1552.9 656.7 L1554.9 656.7 L1556.9 656.7 L1558.9 656.8 L1560.9 656.8 L1562.9 656.8 L1564.9 656.9 L1566.9 656.9 L1568.9 657.0 L1570.9 657.0 L1572.9 657.0 L1574.9 657.1 L1576.9 657.1 L1578.9 657.1 L1580.9 657.2 L1582.9 657.2 L1584.9 657.2 L1586.9 657.3 L1588.9 657.3 L1590.9 657.3 L1592.9 657.4 L1594.9 657.4 L1596.9 657.5 L1598.9 657.5 L1600.9 657.5 L1602.9 657.6 L1604.9 657.6 L1606.9 657.6 L1608.9 657.7 L1610.9 657.7 L1612.9 657.8 L1614.9 657.8 L1616.9 657.8 L1618.9 657.9 L1620.9 657.9 L1622.9 658.0 L1624.9 658.0 L1626.9 658.0 L1628.9 658.1 L1630.9 658.1 L1632.9 658.2 L1634.9 658.2 L1636.9 658.3 L1638.9 658.3 L1640.9 658.3 L1642.9 658.4 L1644.9 658.4 L1646.9 658.5 L1648.9 658.5 L1650.9 658.5 L1652.9 658.6 L1654.9 658.6 L1656.9 658.7 L1658.9 658.7 L1660.9 658.7 L1662.9 658.8 L1664.9 658.8 L1666.9 658.8 L1668.9 658.9 L1670.9 658.9 L1672.9 658.9 L1674.9 659.0 L1676.9 659.0 L1678.9 659.0 L1680.9 659.1 L1682.9 659.1 L1684.9 659.1 L1686.9 659.1 L1688.9 659.2 L1690.9 659.2 L1692.9 659.2 L1694.9 659.2 L1696.9 659.3 L1698.9 659.3 L1700.9 659.3 L1702.9 659.3 L1704.9 659.3 L1706.9 659.4 L1708.9 659.4 L1710.9 659.4 L1712.9 659.4 L1714.9 659.5 L1716.9 659.5 L1718.9 659.5 L1720.9 659.5 L1722.9 659.5 L1724.9 659.6 L1726.9 659.6 L1728.9 659.6 L1730.9 659.6 L1732.9 659.6 L1734.9 659.6 L1736.9 659.7 L1738.9 659.7 L1740.9 659.7 L1742.9 659.7 L1744.9 659.7 L1746.9 659.8 L1748.9 659.8 L1750.9 659.8 L1752.9 659.8 L1754.9 659.8 L1756.9 659.8 L1758.9 659.9 L1760.9 659.9 L1763.0 659.9 L1765.0 659.9 L1767.0 659.9 L1769.0 659.9 L1771.0 660.0 L1773.0 660.0 L1775.0 660.0 L1777.0 660.0 L1779.0 660.0 L1781.0 660.0 L1783.0 660.0 L1785.0 660.1 L1787.0 660.1 L1789.0 660.1 L1791.0 660.1 L1793.0 660.1 L1795.0 660.1 L1797.0 660.2 L1799.0 660.2 L1801.0 660.2 L1803.0 660.2 L1805.0 660.2 L1807.0 660.2 L1809.0 660.2 L1811.0 660.3 L1813.0 660.3 L1815.0 660.3 L1817.0 660.3 L1819.0 660.3 L1821.0 660.3 L1823.0 660.3 L1825.0 660.4 L1827.0 660.4 L1829.0 660.4 L1831.0 660.4 L1833.0 660.4 L1835.0 660.4 L1837.0 660.4 L1839.0 660.4 L1841.0 660.5 L1843.0 660.5 L1845.0 660.5 L1847.0 660.5 L1849.0 660.5 L1851.0 660.5 L1853.0 660.5 L1855.0 660.5 L1857.0 660.6 L1859.0 660.6 L1861.0 660.6 L1863.0 660.6 L1865.0 660.6 L1867.0 660.6 L1869.0 660.6 L1871.0 660.6 L1873.0 660.7 L1875.0 660.7 L1877.0 660.7 L1879.0 660.7 L1881.0 660.7 L1883.0 660.7 L1885.0 660.7 L1887.0 660.7 L1889.0 660.7 L1891.0 660.8 L1893.0 660.8 L1895.0 660.8 L1897.0 660.8 L1899.0 660.8 L1901.0 660.8 L1903.0 660.8 L1905.0 660.8 L1907.0 660.8 L1909.0 660.8 L1911.0 660.9 L1913.0 660.9 L1915.0 660.9 L1917.0 660.9 L1919.0 660.9 L1921.0 660.9 L1923.0 660.9 L1925.0 660.9 L1927.0 660.9 L1929.0 660.9 L1931.0 660.9 L1933.0 660.9 L1935.0 661.0 L1937.0 661.0 L1939.0 661.0 L1941.0 661.0 L1943.0 661.0 L1945.0 661.0 L1947.0 661.0 L1949.0 661.0 L1951.0 661.0 L1953.0 661.0 L1955.0 661.0 L1957.0 661.0 L1959.0 661.0 L1961.0 661.0 L1963.0 661.1 L1965.0 661.1 L1967.0 661.1 L1969.0 661.1 L1971.0 661.1 L1973.0 661.1 L1975.0 661.1 L1977.0 661.1 L1979.0 661.1 L1981.0 661.1 L1983.0 661.1 L1985.0 661.1 L1987.0 661.1 L1989.0 661.1 L1991.0 661.1 L1993.0 661.1 L1995.0 661.2 L1997.0 661.2 L1999.0 661.2 L2001.0 661.2 L2003.0 661.2 L2005.0 661.2 L2007.0 661.2 L2009.0 661.2 L2011.0 661.2 L2013.0 661.2 L2015.0 661.2 L2017.0 661.2 L2019.0 661.2 L2021.0 661.2 L2023.0 661.2 L2025.0 661.2 L2027.0 661.2 L2029.0 661.2 L2031.0 661.3 L2033.0 661.3 L2035.0 661.3 L2037.0 661.3 L2039.0 661.3 L2041.0 661.3 L2043.0 661.3 L2045.0 661.3 L2047.0 661.3 L2049.0 661.3 L2051.0 661.3 L2053.0 661.3 L2055.0 661.3 L2057.0 661.3 L2059.0 661.3 L2061.0 661.3 L2063.0 661.3 L2065.0 661.3 L2067.0 661.3 L2069.0 661.4 L2071.0 661.4 L2073.0 661.4 L2075.0 661.4 L2077.0 661.4 L2079.0 661.4 L2081.0 661.4 L2083.0 661.4 L2085.0 661.4 L2087.0 661.4 L2089.0 661.4 L2091.0 661.4 L2093.0 661.4 L2095.0 661.4 L2097.0 661.4 L2099.0 661.4 L2101.0 661.4 L2103.0 661.4 L2105.0 661.4 L2107.0 661.4 L2109.0 661.4 L2111.0 661.5 L2113.0 661.5 L2115.0 661.5 L2117.0 661.5 L2119.0 661.5 L2121.0 661.5 L2123.0 661.5 L2125.0 661.5 L2127.0 661.5 L2128.0 661.5" fill="none" stroke="#ffe6e6" stroke-width="12" stroke-linejoin="round"/><path d="M89.1 659.6 L91.1 659.0 L93.1 658.4 L95.1 660.0 L97.1 658.1 L99.1 659.5 L101.1 658.9 L103.1 657.9 L105.1 659.3 L107.1 657.8 L109.1 659.0 L111.1 657.8 L113.1 657.8 L115.1 658.8 L117.1 660.1 L119.1 657.8 L121.1 658.1 L123.1 659.4 L125.1 660.4 L127.1 659.2 L129.1 658.6 L131.1 660.4 L133.1 657.4 L135.1 660.0 L137.1 658.1 L139.1 657.6 L141.1 657.5 L143.1 658.1 L145.1 659.7 L147.1 657.6 L149.1 658.9 L151.1 659.0 L153.1 658.1 L155.1 658.6 L157.1 657.0 L159.1 656.9 L161.2 657.3 L163.2 658.7 L165.2 657.8 L167.2 657.4 L169.2 658.1 L171.2 657.6 L173.2 656.9 L175.2 658.3 L177.2 657.8 L179.2 656.2 L181.2 657.0 L183.2 656.6 L185.2 657.4 L187.2 656.7 L189.2 655.0 L191.2 657.0 L193.2 654.0 L195.2 654.7 L197.2 655.6 L199.2 653.3 L201.2 654.0 L203.2 652.2 L205.2 653.7 L207.2 653.5 L209.2 652.3 L211.2 652.6 L213.2 650.1 L215.2 650.5 L217.2 649.4 L219.2 648.5 L221.2 647.3 L223.2 647.7 L225.2 647.2 L227.2 644.9 L229.2 644.7 L231.2 642.0 L233.2 643.4 L235.2 642.4 L237.2 642.8 L239.2 641.5 L241.2 639.1 L243.2 638.6 L245.2 638.7 L247.2 635.9 L249.2 636.5 L251.2 634.7 L253.2 633.8 L255.2 632.8 L257.2 634.3 L259.2 631.5 L261.2 631.3 L263.2 631.2 L265.2 632.3 L267.2 629.4 L269.2 630.4 L271.2 630.7 L273.2 631.9 L275.2 632.0 L277.2 632.4 L279.2 630.9 L281.2 631.6 L283.2 631.7 L285.2 633.5 L287.2 633.8 L289.2 631.2 L291.2 631.1 L293.2 631.0 L295.2 630.8 L297.2 631.3 L299.2 631.4 L301.3 630.3 L303.3 629.3 L305.3 630.6 L307.3 630.5 L309.3 631.1 L311.3 632.3 L313.3 631.4 L315.3 630.8 L317.3 631.0 L319.3 631.1 L321.3 628.9 L323.3 631.3 L325.3 630.4 L327.3 630.2 L329.3 629.3 L331.3 627.2 L333.3 626.4 L335.3 624.5 L337.3 625.3 L339.3 622.4 L341.3 621.3 L343.3 620.4 L345.3 618.9 L347.3 617.8 L349.3 615.1 L351.3 612.9 L353.3 611.1 L355.3 608.6 L357.3 607.0 L359.3 603.4 L361.3 603.7 L363.3 600.5 L365.3 596.7 L367.3 594.6 L369.3 592.5 L371.3 589.9 L373.3 586.5 L375.3 586.0 L377.3 583.6 L379.3 579.1 L381.3 576.4 L383.3 572.4 L385.3 569.6 L387.3 567.6 L389.3 564.4 L391.3 563.2 L393.3 557.9 L395.3 554.3 L397.3 554.2 L399.3 549.8 L401.3 545.7 L403.3 544.3 L405.3 540.0 L407.3 539.1 L409.3 538.2 L411.3 535.5 L413.3 532.8 L415.3 529.2 L417.3 527.3 L419.3 524.5 L421.3 524.1 L423.3 521.1 L425.3 519.7 L427.3 516.2 L429.3 513.9 L431.3 514.1 L433.3 513.0 L435.3 511.1 L437.3 509.6 L439.3 508.2 L441.3 506.5 L443.4 503.4 L445.4 502.7 L447.4 500.5 L449.4 497.7 L451.4 495.8 L453.4 494.7 L455.4 492.7 L457.4 492.2 L459.4 491.1 L461.4 487.6 L463.4 487.3 L465.4 485.6 L467.4 483.5 L469.4 479.5 L471.4 476.8 L473.4 474.4 L475.4 471.7 L477.4 468.9 L479.4 467.2 L481.4 464.9 L483.4 461.5 L485.4 457.2 L487.4 454.6 L489.4 451.9 L491.4 446.6 L493.4 445.4 L495.4 443.3 L497.4 440.1 L499.4 437.3 L501.4 433.8 L503.4 430.2 L505.4 429.5 L507.4 425.4 L509.4 424.3 L511.4 422.2 L513.4 417.7 L515.4 415.2 L517.4 414.5 L519.4 411.3 L521.4 407.0 L523.4 404.3 L525.4 401.9 L527.4 401.8 L529.4 399.0 L531.4 394.4 L533.4 394.2 L535.4 392.3 L537.4 388.8 L539.4 385.4 L541.4 383.5 L543.4 379.6 L545.4 376.5 L547.4 376.9 L549.4 373.1 L551.4 369.9 L553.4 368.4 L555.4 364.1 L557.4 362.8 L559.4 360.0 L561.4 355.5 L563.4 353.1 L565.4 350.9 L567.4 348.4 L569.4 347.4 L571.4 344.3 L573.4 342.9 L575.4 340.3 L577.4 341.2 L579.4 337.9 L581.4 336.8 L583.4 336.0 L585.5 335.8 L587.5 333.2 L589.5 333.8 L591.5 331.4 L593.5 330.5 L595.5 329.5 L597.5 326.9 L599.5 327.2 L601.5 325.4 L603.5 323.9 L605.5 325.4 L607.5 322.4 L609.5 322.3 L611.5 322.0 L613.5 320.3 L615.5 318.3 L617.5 317.7 L619.5 316.4 L621.5 315.8 L623.5 312.1 L625.5 311.9 L627.5 309.2 L629.5 307.4 L631.5 306.9 L633.5 303.8 L635.5 301.6 L637.5 299.8 L639.5 297.8 L641.5 293.8 L643.5 292.0 L645.5 289.2 L647.5 286.6 L649.5 284.0 L651.5 278.6 L653.5 269.7 L654.5 262.0 L656.0 232.0 L657.0 221.5 L660.0 221.5 L662.0 262.0 L662.8 300.7 L664.8 302.6 L666.8 306.2 L668.8 308.1 L670.8 313.1 L672.8 318.4 L674.8 320.9 L676.8 326.2 L678.8 331.5 L680.8 335.0 L682.8 336.4 L684.8 339.8 L686.8 344.2 L688.8 346.2 L690.8 349.8 L692.8 352.2 L694.8 357.0 L696.8 360.3 L698.8 363.7 L700.8 364.2 L702.8 368.9 L704.8 371.4 L706.8 372.5 L708.8 377.6 L710.8 380.5 L712.8 380.8 L714.8 385.8 L716.8 386.7 L718.8 389.6 L720.8 393.8 L722.8 395.8 L724.8 396.2 L726.8 399.6 L728.8 402.4 L730.8 404.4 L732.8 406.5 L734.8 409.4 L736.8 413.4 L738.8 413.9 L740.8 418.5 L742.8 421.1 L744.8 422.8 L746.8 426.8 L748.8 430.8 L750.8 433.3 L752.8 434.6 L754.8 440.3 L756.8 442.2 L758.8 445.3 L760.8 444.9 L762.8 447.7 L764.8 449.3 L766.8 453.9 L768.8 454.5 L770.8 456.3 L772.8 459.4 L774.8 463.1 L776.8 465.0 L778.8 465.4 L780.8 467.2 L782.8 471.7 L784.8 472.7 L786.8 475.1 L788.8 475.1 L790.8 477.0 L792.8 480.9 L794.8 482.0 L796.8 482.7 L798.8 487.4 L800.8 488.3 L802.8 490.8 L804.8 490.4 L806.8 494.8 L808.8 494.1 L810.8 498.6 L812.8 499.1 L814.8 500.6 L816.8 503.0 L818.8 505.9 L820.8 505.5 L822.8 506.7 L824.8 509.5 L826.8 510.1 L828.8 511.2 L830.8 512.8 L832.8 513.9 L834.8 515.8 L836.8 517.6 L838.8 518.9 L840.8 521.7 L842.8 521.6 L844.8 523.7 L846.8 524.0 L848.8 525.9 L850.8 526.2 L852.8 528.3 L854.8 528.9 L856.8 532.5 L858.8 533.2 L860.8 533.3 L862.8 535.5 L864.8 538.2 L866.8 536.8 L868.8 540.2 L870.8 540.1 L872.8 541.4 L874.8 543.6 L876.8 543.2 L878.8 544.6 L880.8 546.3 L882.8 548.2 L884.8 547.2 L886.8 549.8 L888.8 550.4 L890.8 551.1 L892.8 551.4 L894.8 552.2 L896.8 552.3 L898.8 553.5 L900.8 554.3 L902.8 557.4 L904.8 556.9 L906.8 557.6 L908.8 558.3 L910.8 561.8 L912.8 562.9 L914.8 563.2 L916.8 563.0 L918.8 563.9 L920.8 565.0 L922.8 566.6 L924.8 566.6 L926.8 568.5 L928.8 568.9 L930.8 572.2 L932.8 573.2 L934.8 572.9 L936.8 572.9 L938.8 576.2 L940.8 575.1 L942.8 576.2 L944.8 576.1 L946.8 578.3 L948.8 579.5 L950.8 580.6 L952.8 580.6 L954.8 582.5 L956.8 581.9 L958.8 583.7 L960.8 584.0 L962.8 586.0 L964.8 585.8 L966.8 586.6 L968.8 588.5 L970.8 589.1 L972.8 591.2 L974.8 591.9 L976.8 593.5 L978.8 594.1 L980.8 595.1 L982.8 596.5 L984.8 595.7 L986.8 596.3 L988.8 599.2 L990.8 597.3 L992.8 599.9 L994.8 600.3 L996.8 599.1 L998.8 602.4 L1000.8 603.2 L1002.8 603.0 L1004.8 604.0 L1006.8 604.9 L1008.8 603.4 L1010.8 605.2 L1012.8 605.8 L1014.8 607.4 L1016.8 607.9 L1018.8 608.6 L1020.8 608.4 L1022.8 609.9 L1024.8 609.8 L1026.8 610.4 L1028.8 609.4 L1030.9 609.3 L1032.9 610.1 L1034.9 611.3 L1036.9 611.0 L1038.9 613.8 L1040.9 613.4 L1042.9 614.1 L1044.9 614.5 L1046.9 615.1 L1048.9 614.9 L1050.9 613.8 L1052.9 616.8 L1054.9 617.0 L1056.9 616.6 L1058.9 617.1 L1060.9 617.9 L1062.9 616.3 L1064.9 618.8 L1066.9 617.6 L1068.9 617.3 L1070.9 618.3 L1072.9 620.0 L1074.9 618.7 L1076.9 620.7 L1078.9 621.7 L1080.9 620.4 L1082.9 620.3 L1084.9 620.9 L1086.9 621.8 L1088.9 622.3 L1090.9 622.1 L1092.9 622.5 L1094.9 620.9 L1096.9 621.4 L1098.9 622.0 L1100.9 623.8 L1102.9 622.7 L1104.9 623.8 L1106.9 622.3 L1108.9 622.7 L1110.9 623.6 L1112.9 625.2 L1114.9 625.6 L1116.9 625.8 L1118.9 624.9 L1120.9 625.9 L1122.9 626.0 L1124.9 626.3 L1126.9 625.6 L1128.9 628.4 L1130.9 626.5 L1132.9 629.3 L1134.9 629.5 L1136.9 626.9 L1138.9 628.6 L1140.9 630.1 L1142.9 630.9 L1144.9 629.6 L1146.9 629.3 L1148.9 629.5 L1150.9 632.2 L1152.9 630.1 L1154.9 631.7 L1156.9 630.6 L1158.9 632.1 L1160.9 633.8 L1162.9 631.4 L1164.9 633.9 L1166.9 633.2 L1168.9 634.7 L1170.9 634.4 L1172.9 633.1 L1174.9 635.5 L1176.9 634.4 L1178.9 633.2 L1180.9 633.4 L1182.9 635.2 L1184.9 635.3 L1186.9 635.0 L1188.9 634.7 L1190.9 635.6 L1192.9 635.7 L1194.9 637.6 L1196.9 635.2 L1198.9 637.8 L1200.9 638.3 L1202.9 636.2 L1204.9 639.0 L1206.9 638.6 L1208.9 639.4 L1210.9 637.7 L1212.9 638.2 L1214.9 638.5 L1216.9 640.7 L1218.9 639.6 L1220.9 639.1 L1222.9 639.6 L1224.9 639.3 L1226.9 638.8 L1228.9 639.2 L1230.9 641.8 L1232.9 640.3 L1234.9 642.7 L1236.9 640.7 L1238.9 641.0 L1240.9 642.0 L1242.9 641.3 L1244.9 642.1 L1246.9 644.2 L1248.9 644.2 L1250.9 644.2 L1252.9 643.9 L1254.9 645.0 L1256.9 645.3 L1258.9 644.3 L1260.9 645.1 L1262.9 643.1 L1264.9 645.5 L1266.9 644.9 L1268.9 646.0 L1270.9 645.9 L1272.9 645.0 L1274.9 644.4 L1276.9 647.4 L1278.9 645.1 L1280.9 646.4 L1282.9 646.2 L1284.9 646.2 L1286.9 647.8 L1288.9 648.8 L1290.9 646.7 L1292.9 648.1 L1294.9 647.2 L1296.9 648.2 L1298.9 647.9 L1300.9 647.3 L1302.9 647.5 L1304.9 647.8 L1306.9 650.2 L1308.9 649.1 L1310.9 648.4 L1312.9 650.7 L1314.9 651.2 L1316.9 649.6 L1318.9 648.8 L1320.9 649.1 L1322.9 648.9 L1324.9 649.9 L1326.9 649.3 L1328.9 649.9 L1330.9 650.1 L1332.9 651.2 L1334.9 652.4 L1336.9 652.1 L1338.9 651.2 L1340.9 651.3 L1342.9 651.8 L1344.9 651.5 L1346.9 651.5 L1348.9 650.7 L1350.9 651.5 L1352.9 653.9 L1354.9 651.3 L1356.9 652.6 L1358.9 653.1 L1360.9 654.0 L1362.9 652.0 L1364.9 652.3 L1366.9 652.4 L1368.9 653.0 L1370.9 653.2 L1372.9 654.9 L1374.9 654.7 L1376.9 654.9 L1378.9 652.2 L1380.9 652.3 L1382.9 654.6 L1384.9 655.2 L1386.9 654.0 L1388.9 654.4 L1390.9 652.6 L1392.9 653.9 L1394.9 655.7 L1396.9 655.4 L1398.9 655.6 L1400.9 656.0 L1402.9 653.7 L1404.9 653.3 L1406.9 653.5 L1408.9 654.7 L1410.9 655.3 L1412.9 656.1 L1414.9 655.5 L1416.9 655.3 L1418.9 655.7 L1420.9 654.7 L1422.9 655.1 L1424.9 653.5 L1426.9 655.9 L1428.9 654.1 L1430.9 656.4 L1432.9 655.5 L1434.9 654.4 L1436.9 653.9 L1438.9 654.3 L1440.9 655.6 L1442.9 655.8 L1444.9 653.9 L1446.9 653.8 L1448.9 655.3 L1450.9 655.5 L1452.9 654.9 L1454.9 654.4 L1456.9 655.6 L1458.9 653.8 L1460.9 654.7 L1462.9 655.2 L1464.9 656.9 L1466.9 655.9 L1468.9 656.7 L1470.9 655.4 L1472.9 654.6 L1474.9 654.7 L1476.9 657.0 L1478.9 656.2 L1480.9 654.9 L1482.9 654.1 L1484.9 655.6 L1486.9 656.2 L1488.9 655.4 L1490.9 654.9 L1492.9 656.2 L1494.9 657.1 L1496.9 654.9 L1498.9 654.3 L1500.9 655.3 L1502.9 655.6 L1504.9 656.5 L1506.9 654.9 L1508.9 656.9 L1510.9 656.7 L1512.9 656.0 L1514.9 655.1 L1516.9 657.6 L1518.9 655.5 L1520.9 657.2 L1522.9 655.3 L1524.9 655.3 L1526.9 657.1 L1528.9 655.6 L1530.9 657.7 L1532.9 656.3 L1534.9 655.4 L1536.9 655.5 L1538.9 656.2 L1540.9 657.0 L1542.9 657.9 L1544.9 655.4 L1546.9 656.2 L1548.9 655.7 L1550.9 658.2 L1552.9 655.5 L1554.9 655.3 L1556.9 655.3 L1558.9 656.4 L1560.9 658.1 L1562.9 658.1 L1564.9 657.6 L1566.9 658.5 L1568.9 658.3 L1570.9 656.4 L1572.9 656.0 L1574.9 658.5 L1576.9 657.9 L1578.9 655.6 L1580.9 657.7 L1582.9 656.8 L1584.9 656.8 L1586.9 656.7 L1588.9 656.2 L1590.9 655.8 L1592.9 656.7 L1594.9 656.9 L1596.9 658.9 L1598.9 656.3 L1600.9 659.0 L1602.9 656.6 L1604.9 657.1 L1606.9 658.7 L1608.9 658.7 L1610.9 657.5 L1612.9 656.3 L1614.9 657.7 L1616.9 657.4 L1618.9 659.2 L1620.9 656.9 L1622.9 657.5 L1624.9 659.3 L1626.9 656.5 L1628.9 657.8 L1630.9 659.1 L1632.9 659.0 L1634.9 656.7 L1636.9 656.8 L1638.9 656.9 L1640.9 659.7 L1642.9 657.6 L1644.9 659.2 L1646.9 659.7 L1648.9 658.0 L1650.9 657.8 L1652.9 660.1 L1654.9 659.0 L1656.9 657.9 L1658.9 659.4 L1660.9 658.1 L1662.9 658.1 L1664.9 657.2 L1666.9 659.7 L1668.9 660.2 L1670.9 659.3 L1672.9 660.4 L1674.9 657.4 L1676.9 658.1 L1678.9 658.9 L1680.9 660.5 L1682.9 660.5 L1684.9 658.7 L1686.9 658.3 L1688.9 658.9 L1690.9 659.2 L1692.9 660.6 L1694.9 658.2 L1696.9 660.2 L1698.9 660.0 L1700.9 660.3 L1702.9 660.2 L1704.9 659.7 L1706.9 658.8 L1708.9 658.8 L1710.9 659.0 L1712.9 660.3 L1714.9 658.1 L1716.9 658.5 L1718.9 660.3 L1720.9 658.7 L1722.9 658.1 L1724.9 658.1 L1726.9 659.7 L1728.9 659.0 L1730.9 661.1 L1732.9 660.9 L1734.9 661.2 L1736.9 658.9 L1738.9 658.4 L1740.9 658.4 L1742.9 659.7 L1744.9 660.4 L1746.9 659.6 L1748.9 658.9 L1750.9 659.5 L1752.9 660.2 L1754.9 660.4 L1756.9 660.6 L1758.9 661.0 L1760.9 660.4 L1763.0 658.7 L1765.0 661.0 L1767.0 659.3 L1769.0 660.2 L1771.0 659.5 L1773.0 660.7 L1775.0 659.0 L1777.0 659.2 L1779.0 659.2 L1781.0 658.9 L1783.0 661.3 L1785.0 660.3 L1787.0 659.5 L1789.0 659.8 L1791.0 661.7 L1793.0 660.1 L1795.0 659.3 L1797.0 661.1 L1799.0 660.7 L1801.0 661.8 L1803.0 658.9 L1805.0 660.1 L1807.0 661.2 L1809.0 661.3 L1811.0 661.6 L1813.0 658.8 L1815.0 659.6 L1817.0 659.1 L1819.0 659.3 L1821.0 661.8 L1823.0 660.6 L1825.0 661.7 L1827.0 660.0 L1829.0 661.5 L1831.0 660.2 L1833.0 659.6 L1835.0 661.3 L1837.0 661.9 L1839.0 659.2 L1841.0 660.8 L1843.0 660.9 L1845.0 659.6 L1847.0 660.1 L1849.0 659.4 L1851.0 659.6 L1853.0 659.7 L1855.0 660.9 L1857.0 661.0 L1859.0 659.6 L1861.0 659.0 L1863.0 660.0 L1865.0 661.2 L1867.0 659.6 L1869.0 660.0 L1871.0 659.7 L1873.0 661.6 L1875.0 660.8 L1877.0 659.3 L1879.0 659.4 L1881.0 660.4 L1883.0 660.9 L1885.0 661.2 L1887.0 659.4 L1889.0 659.7 L1891.0 661.4 L1893.0 660.5 L1895.0 660.1 L1897.0 660.2 L1899.0 662.2 L1901.0 660.2 L1903.0 661.0 L1905.0 660.4 L1907.0 660.6 L1909.0 662.0 L1911.0 662.4 L1913.0 660.4 L1915.0 659.9 L1917.0 661.6 L1919.0 659.9 L1921.0 659.3 L1923.0 662.2 L1925.0 660.7 L1927.0 661.9 L1929.0 660.6 L1931.0 662.2 L1933.0 660.8 L1935.0 659.9 L1937.0 659.4 L1939.0 661.1 L1941.0 661.4 L1943.0 662.3 L1945.0 659.7 L1947.0 661.4 L1949.0 660.6 L1951.0 661.0 L1953.0 659.9 L1955.0 660.3 L1957.0 661.1 L1959.0 662.4 L1961.0 659.8 L1963.0 661.0 L1965.0 662.0 L1967.0 662.6 L1969.0 660.1 L1971.0 659.9 L1973.0 662.5 L1975.0 662.6 L1977.0 661.0 L1979.0 659.7 L1981.0 662.5 L1983.0 660.8 L1985.0 662.4 L1987.0 661.5 L1989.0 662.2 L1991.0 660.1 L1993.0 662.1 L1995.0 660.3 L1997.0 660.9 L1999.0 662.3 L2001.0 662.2 L2003.0 660.2 L2005.0 660.3 L2007.0 660.9 L2009.0 661.3 L2011.0 660.8 L2013.0 660.0 L2015.0 660.4 L2017.0 661.9 L2019.0 662.5 L2021.0 659.8 L2023.0 661.4 L2025.0 662.1 L2027.0 659.8 L2029.0 662.3 L2031.0 660.0 L2033.0 661.6 L2035.0 661.4 L2037.0 661.7 L2039.0 660.7 L2041.0 661.0 L2043.0 661.6 L2045.0 661.1 L2047.0 661.8 L2049.0 661.1 L2051.0 661.1 L2053.0 659.8 L2055.0 661.7 L2057.0 661.3 L2059.0 660.5 L2061.0 662.2 L2063.0 662.2 L2065.0 661.2 L2067.0 660.3 L2069.0 661.3 L2071.0 660.1 L2073.0 660.2 L2075.0 661.1 L2077.0 660.1 L2079.0 661.2 L2081.0 661.4 L2083.0 659.9 L2085.0 661.8 L2087.0 660.1 L2089.0 662.1 L2091.0 662.3 L2093.0 661.4 L2095.0 660.0 L2097.0 661.4 L2099.0 661.0 L2101.0 662.9 L2103.0 660.3 L2105.0 662.6 L2107.0 663.0 L2109.0 662.2 L2111.0 662.5 L2113.0 660.5 L2115.0 663.0 L2117.0 661.4 L2119.0 662.9 L2121.0 662.8 L2123.0 660.4 L2125.0 662.4 L2127.0 662.9 L2128.0 661.5" fill="none" stroke="#f4a8a8" stroke-width="8.5" stroke-linejoin="round" opacity="0.75"/><path d="M89.1 630.1 L91.1 630.8 L93.1 631.5 L95.1 632.3 L97.1 633.0 L99.1 633.7 L101.1 634.3 L103.1 635.0 L105.1 635.7 L107.1 636.3 L109.1 636.9 L111.1 637.5 L113.1 638.1 L115.1 638.7 L117.1 639.2 L119.1 639.8 L121.1 640.3 L123.1 640.9 L125.1 641.4 L127.1 641.9 L129.1 642.5 L131.1 643.0 L133.1 643.5 L135.1 644.0 L137.1 644.5 L139.1 645.0 L141.1 645.5 L143.1 646.0 L145.1 646.4 L147.1 646.9 L149.1 647.3 L151.1 647.6 L153.1 648.0 L155.1 648.3 L157.1 648.5 L159.1 648.8 L161.2 649.0 L163.2 649.2 L165.2 649.4 L167.2 649.6 L169.2 649.7 L171.2 649.8 L173.2 650.0 L175.2 650.1 L177.2 650.2 L179.2 650.3 L181.2 650.3 L183.2 650.4 L185.2 650.5 L187.2 650.5 L189.2 650.6 L191.2 650.6 L193.2 650.6 L195.2 650.6 L197.2 650.7 L199.2 650.7 L201.2 650.7 L203.2 650.6 L205.2 650.6 L207.2 650.6 L209.2 650.6 L211.2 650.5 L213.2 650.5 L215.2 650.4 L217.2 650.4 L219.2 650.3 L221.2 650.3 L223.2 650.2 L225.2 650.1 L227.2 650.1 L229.2 650.0 L231.2 650.0 L233.2 649.9 L235.2 649.8 L237.2 649.8 L239.2 649.7 L241.2 649.7 L243.2 649.6 L245.2 649.5 L247.2 649.5 L249.2 649.4 L251.2 649.4 L253.2 649.3 L255.2 649.2 L257.2 649.1 L259.2 649.1 L261.2 649.0 L263.2 648.9 L265.2 648.8 L267.2 648.7 L269.2 648.5 L271.2 648.4 L273.2 648.2 L275.2 647.9 L277.2 647.7 L279.2 647.4 L281.2 647.2 L283.2 646.9 L285.2 646.7 L287.2 646.4 L289.2 646.2 L291.2 646.0 L293.2 645.9 L295.2 645.7 L297.2 645.5 L299.2 645.3 L301.2 645.1 L303.3 644.9 L305.3 644.7 L307.3 644.5 L309.3 644.2 L311.3 643.8 L313.3 643.5 L315.3 643.0 L317.3 642.6 L319.3 642.1 L321.3 641.6 L323.3 641.0 L325.3 640.5 L327.3 639.8 L329.3 639.2 L331.3 638.5 L333.3 637.7 L335.3 636.9 L337.3 635.9 L339.3 634.9 L341.3 633.9 L343.3 632.8 L345.3 631.7 L347.3 630.6 L349.3 629.5 L351.3 628.4 L353.3 627.3 L355.3 626.1 L357.3 624.9 L359.3 623.5 L361.3 622.1 L363.3 620.5 L365.3 619.0 L367.3 617.4 L369.3 615.8 L371.3 614.2 L373.3 612.6 L375.3 611.0 L377.3 609.3 L379.3 607.6 L381.3 605.8 L383.3 603.9 L385.3 601.8 L387.3 599.5 L389.3 597.0 L391.3 594.4 L393.3 591.8 L395.3 589.1 L397.3 586.5 L399.3 583.8 L401.3 581.2 L403.3 578.5 L405.3 575.6 L407.3 572.6 L409.3 569.4 L411.3 566.2 L413.3 562.9 L415.3 559.7 L417.3 556.6 L419.3 553.4 L421.3 550.2 L423.3 546.9 L425.3 543.5 L427.3 540.1 L429.3 536.8 L431.3 533.5 L433.3 530.3 L435.3 527.2 L437.3 524.0 L439.3 520.8 L441.3 517.4 L443.4 513.9 L445.4 510.2 L447.4 506.2 L449.4 501.9 L451.4 497.2 L453.4 492.4 L455.4 487.5 L457.4 482.7 L459.4 477.9 L461.4 473.2 L463.4 468.5 L465.4 463.7 L467.4 458.7 L469.4 453.4 L471.4 447.8 L473.4 442.1 L475.4 436.2 L477.4 430.2 L479.4 424.0 L481.4 417.7 L483.4 411.4 L485.4 405.1 L487.4 398.8 L489.4 392.9 L491.4 387.6 L493.4 382.7 L495.4 378.0 L497.4 373.3 L499.4 368.5 L501.4 364.0 L503.4 359.8 L505.4 355.7 L507.4 351.6 L509.4 347.7 L511.4 343.9 L513.4 340.0 L515.4 336.0 L517.4 332.0 L519.4 328.2 L521.4 324.7 L523.4 321.5 L525.4 318.6 L527.4 315.9 L529.4 313.4 L531.4 311.0 L533.4 308.6 L535.4 306.3 L537.4 303.9 L539.4 301.6 L541.4 299.3 L543.4 297.0 L545.4 294.8 L547.4 292.6 L549.4 290.5 L551.4 288.4 L553.4 286.3 L555.4 284.3 L557.4 282.3 L559.4 280.4 L561.4 278.4 L563.4 276.4 L565.4 274.5 L567.4 272.6 L569.4 270.8 L571.4 268.9 L573.4 267.2 L575.4 265.5 L577.4 263.8 L579.4 262.2 L581.4 260.7 L583.4 259.3 L585.5 258.0 L587.5 256.7 L589.5 255.6 L591.5 254.5 L593.5 253.5 L595.5 252.6 L597.5 251.7 L599.5 250.7 L601.5 249.8 L603.5 248.8 L605.5 247.8 L607.5 246.6 L609.5 245.5 L611.5 244.3 L613.5 243.0 L615.5 241.8 L617.5 240.5 L619.5 239.3 L621.5 238.1 L623.5 237.0 L625.5 235.9 L627.5 234.7 L629.5 233.5 L631.5 232.3 L633.5 230.8 L635.5 229.2 L637.5 227.4 L639.5 225.3 L641.5 223.1 L643.5 220.8 L645.5 218.2 L647.5 215.6 L649.5 213.1 L651.5 210.5 L653.5 206.9 L655.5 200.0 L657.0 165.0 L661.0 165.0 L662.2 218.0 L664.5 229.5 L666.5 232.1 L668.5 234.8 L670.5 237.6 L672.5 240.9 L674.5 244.9 L676.5 249.2 L678.5 253.5 L680.5 257.6 L682.5 261.5 L684.5 265.3 L686.5 268.9 L688.5 272.5 L690.5 276.0 L692.5 279.4 L694.5 282.7 L696.5 286.0 L698.5 289.5 L700.5 293.0 L702.5 296.7 L704.5 300.4 L706.5 304.1 L708.5 307.9 L710.5 311.5 L712.5 315.0 L714.5 318.3 L716.5 321.6 L718.5 324.8 L720.5 328.1 L722.5 331.3 L724.5 334.5 L726.5 337.7 L728.5 340.8 L730.5 343.8 L732.5 346.9 L734.5 350.0 L736.5 353.3 L738.5 356.7 L740.5 360.0 L742.5 363.4 L744.5 366.8 L746.5 370.1 L748.5 373.4 L750.5 376.6 L752.5 379.8 L754.5 382.8 L756.5 385.8 L758.5 388.8 L760.5 391.7 L762.5 394.6 L764.5 397.5 L766.5 400.4 L768.5 403.2 L770.5 405.9 L772.5 408.7 L774.5 411.4 L776.5 414.1 L778.5 416.8 L780.5 419.4 L782.5 422.0 L784.5 424.6 L786.5 427.1 L788.5 429.6 L790.5 432.1 L792.5 434.6 L794.5 437.0 L796.5 439.4 L798.5 441.8 L800.5 444.1 L802.5 446.4 L804.5 448.6 L806.5 450.7 L808.5 452.9 L810.5 454.9 L812.6 456.9 L814.6 458.8 L816.6 460.7 L818.6 462.6 L820.6 464.4 L822.6 466.2 L824.6 467.9 L826.6 469.6 L828.6 471.4 L830.6 473.0 L832.6 474.7 L834.6 476.4 L836.6 478.0 L838.6 479.7 L840.6 481.3 L842.6 482.9 L844.6 484.5 L846.6 486.1 L848.6 487.7 L850.6 489.2 L852.6 490.8 L854.6 492.3 L856.6 493.8 L858.6 495.4 L860.6 496.8 L862.6 498.3 L864.6 499.8 L866.6 501.2 L868.6 502.6 L870.6 504.0 L872.6 505.3 L874.6 506.7 L876.6 508.0 L878.6 509.3 L880.6 510.6 L882.6 511.9 L884.6 513.2 L886.6 514.5 L888.6 515.8 L890.6 517.1 L892.6 518.4 L894.6 519.6 L896.6 520.9 L898.6 522.1 L900.6 523.3 L902.6 524.5 L904.6 525.7 L906.6 526.8 L908.6 528.0 L910.6 529.1 L912.6 530.2 L914.6 531.4 L916.6 532.5 L918.6 533.6 L920.6 534.7 L922.6 535.8 L924.6 536.9 L926.6 537.9 L928.6 539.0 L930.6 540.1 L932.6 541.1 L934.6 542.2 L936.6 543.2 L938.6 544.2 L940.6 545.2 L942.6 546.2 L944.6 547.2 L946.6 548.2 L948.6 549.1 L950.6 550.1 L952.6 551.0 L954.6 552.0 L956.6 552.9 L958.6 553.8 L960.6 554.8 L962.6 555.7 L964.6 556.6 L966.6 557.6 L968.6 558.5 L970.6 559.4 L972.6 560.3 L974.6 561.2 L976.6 562.2 L978.6 563.1 L980.6 564.0 L982.6 564.9 L984.6 565.8 L986.6 566.7 L988.6 567.6 L990.6 568.5 L992.6 569.4 L994.6 570.3 L996.6 571.1 L998.6 572.0 L1000.6 572.9 L1002.6 573.7 L1004.6 574.6 L1006.6 575.4 L1008.6 576.2 L1010.6 577.0 L1012.6 577.8 L1014.6 578.5 L1016.6 579.3 L1018.6 580.0 L1020.6 580.7 L1022.6 581.4 L1024.6 582.1 L1026.6 582.8 L1028.6 583.5 L1030.6 584.1 L1032.6 584.8 L1034.6 585.4 L1036.6 586.1 L1038.6 586.7 L1040.6 587.3 L1042.6 588.0 L1044.6 588.6 L1046.6 589.2 L1048.6 589.8 L1050.6 590.4 L1052.6 591.0 L1054.6 591.6 L1056.6 592.2 L1058.6 592.8 L1060.6 593.4 L1062.6 594.0 L1064.6 594.6 L1066.6 595.1 L1068.6 595.7 L1070.6 596.3 L1072.6 596.8 L1074.6 597.4 L1076.6 597.9 L1078.6 598.5 L1080.6 599.0 L1082.6 599.5 L1084.6 600.1 L1086.6 600.6 L1088.6 601.1 L1090.6 601.7 L1092.6 602.2 L1094.6 602.7 L1096.6 603.3 L1098.6 603.8 L1100.6 604.3 L1102.6 604.8 L1104.7 605.4 L1106.7 605.9 L1108.7 606.4 L1110.7 606.9 L1112.7 607.3 L1114.7 607.8 L1116.7 608.3 L1118.7 608.7 L1120.7 609.2 L1122.7 609.6 L1124.7 610.0 L1126.7 610.4 L1128.7 610.8 L1130.7 611.2 L1132.7 611.6 L1134.7 612.0 L1136.7 612.3 L1138.7 612.7 L1140.7 613.1 L1142.7 613.4 L1144.7 613.8 L1146.7 614.2 L1148.7 614.6 L1150.7 614.9 L1152.7 615.3 L1154.7 615.7 L1156.7 616.1 L1158.7 616.5 L1160.7 616.9 L1162.7 617.3 L1164.7 617.7 L1166.7 618.1 L1168.7 618.5 L1170.7 618.9 L1172.7 619.3 L1174.7 619.7 L1176.7 620.1 L1178.7 620.6 L1180.7 621.0 L1182.7 621.4 L1184.7 621.8 L1186.7 622.2 L1188.7 622.6 L1190.7 623.0 L1192.7 623.4 L1194.7 623.8 L1196.7 624.2 L1198.7 624.6 L1200.7 625.0 L1202.7 625.3 L1204.7 625.7 L1206.7 626.1 L1208.7 626.5 L1210.7 626.9 L1212.7 627.3 L1214.7 627.6 L1216.7 628.0 L1218.7 628.4 L1220.7 628.8 L1222.7 629.1 L1224.7 629.5 L1226.7 629.9 L1228.7 630.2 L1230.7 630.6 L1232.7 630.9 L1234.7 631.3 L1236.7 631.6 L1238.7 632.0 L1240.7 632.3 L1242.7 632.7 L1244.7 633.0 L1246.7 633.3 L1248.7 633.6 L1250.7 634.0 L1252.7 634.3 L1254.7 634.6 L1256.7 634.9 L1258.7 635.2 L1260.7 635.5 L1262.7 635.8 L1264.7 636.0 L1266.7 636.3 L1268.7 636.6 L1270.7 636.9 L1272.7 637.1 L1274.7 637.4 L1276.7 637.7 L1278.7 637.9 L1280.7 638.2 L1282.7 638.4 L1284.7 638.7 L1286.7 638.9 L1288.7 639.1 L1290.7 639.4 L1292.7 639.6 L1294.7 639.8 L1296.7 640.1 L1298.7 640.3 L1300.7 640.5 L1302.7 640.8 L1304.7 641.0 L1306.7 641.2 L1308.7 641.4 L1310.7 641.6 L1312.7 641.9 L1314.7 642.1 L1316.7 642.3 L1318.7 642.5 L1320.7 642.7 L1322.7 642.9 L1324.7 643.1 L1326.7 643.3 L1328.7 643.5 L1330.7 643.7 L1332.7 643.9 L1334.7 644.1 L1336.7 644.3 L1338.7 644.4 L1340.7 644.6 L1342.7 644.8 L1344.7 645.0 L1346.7 645.1 L1348.7 645.3 L1350.7 645.5 L1352.7 645.6 L1354.7 645.8 L1356.7 645.9 L1358.7 646.1 L1360.7 646.2 L1362.7 646.3 L1364.7 646.5 L1366.7 646.6 L1368.7 646.7 L1370.7 646.9 L1372.7 647.0 L1374.7 647.1 L1376.7 647.2 L1378.7 647.4 L1380.7 647.5 L1382.7 647.6 L1384.7 647.7 L1386.7 647.8 L1388.7 647.9 L1390.7 648.0 L1392.7 648.1 L1394.7 648.2 L1396.8 648.3 L1398.8 648.4 L1400.8 648.5 L1402.8 648.6 L1404.8 648.7 L1406.8 648.8 L1408.8 648.9 L1410.8 649.0 L1412.8 649.1 L1414.8 649.2 L1416.8 649.3 L1418.8 649.3 L1420.8 649.4 L1422.8 649.5 L1424.8 649.6 L1426.8 649.7 L1428.8 649.8 L1430.8 649.9 L1432.8 649.9 L1434.8 650.0 L1436.8 650.1 L1438.8 650.2 L1440.8 650.3 L1442.8 650.4 L1444.8 650.4 L1446.8 650.5 L1448.8 650.6 L1450.8 650.7 L1452.8 650.8 L1454.8 650.8 L1456.8 650.9 L1458.8 651.0 L1460.8 651.1 L1462.8 651.2 L1464.8 651.2 L1466.8 651.3 L1468.8 651.4 L1470.8 651.5 L1472.8 651.5 L1474.8 651.6 L1476.8 651.7 L1478.8 651.8 L1480.8 651.8 L1482.8 651.9 L1484.8 652.0 L1486.8 652.0 L1488.8 652.1 L1490.8 652.2 L1492.8 652.2 L1494.8 652.3 L1496.8 652.4 L1498.8 652.4 L1500.8 652.5 L1502.8 652.6 L1504.8 652.6 L1506.8 652.7 L1508.8 652.8 L1510.8 652.8 L1512.8 652.9 L1514.8 652.9 L1516.8 653.0 L1518.8 653.1 L1520.8 653.1 L1522.8 653.2 L1524.8 653.2 L1526.8 653.3 L1528.8 653.3 L1530.8 653.4 L1532.8 653.4 L1534.8 653.5 L1536.8 653.5 L1538.8 653.6 L1540.8 653.6 L1542.8 653.7 L1544.8 653.7 L1546.8 653.8 L1548.8 653.8 L1550.8 653.9 L1552.8 653.9 L1554.8 654.0 L1556.8 654.0 L1558.8 654.1 L1560.8 654.1 L1562.8 654.2 L1564.8 654.2 L1566.8 654.3 L1568.8 654.3 L1570.8 654.3 L1572.8 654.4 L1574.8 654.4 L1576.8 654.5 L1578.8 654.5 L1580.8 654.6 L1582.8 654.6 L1584.8 654.7 L1586.8 654.7 L1588.8 654.8 L1590.8 654.8 L1592.8 654.8 L1594.8 654.9 L1596.8 654.9 L1598.8 655.0 L1600.8 655.0 L1602.8 655.1 L1604.8 655.1 L1606.8 655.2 L1608.8 655.2 L1610.8 655.3 L1612.8 655.3 L1614.8 655.3 L1616.8 655.4 L1618.8 655.4 L1620.8 655.5 L1622.8 655.5 L1624.8 655.6 L1626.8 655.6 L1628.8 655.7 L1630.8 655.7 L1632.8 655.8 L1634.8 655.8 L1636.8 655.8 L1638.8 655.9 L1640.8 655.9 L1642.8 656.0 L1644.8 656.0 L1646.8 656.1 L1648.8 656.1 L1650.8 656.1 L1652.8 656.2 L1654.8 656.2 L1656.8 656.3 L1658.8 656.3 L1660.8 656.3 L1662.8 656.4 L1664.8 656.4 L1666.8 656.4 L1668.8 656.5 L1670.8 656.5 L1672.8 656.6 L1674.8 656.6 L1676.8 656.6 L1678.8 656.7 L1680.8 656.7 L1682.8 656.7 L1684.8 656.8 L1686.8 656.8 L1688.8 656.8 L1690.9 656.9 L1692.9 656.9 L1694.9 656.9 L1696.9 656.9 L1698.9 657.0 L1700.9 657.0 L1702.9 657.0 L1704.9 657.1 L1706.9 657.1 L1708.9 657.1 L1710.9 657.2 L1712.9 657.2 L1714.9 657.2 L1716.9 657.2 L1718.9 657.3 L1720.9 657.3 L1722.9 657.3 L1724.9 657.4 L1726.9 657.4 L1728.9 657.4 L1730.9 657.4 L1732.9 657.5 L1734.9 657.5 L1736.9 657.5 L1738.9 657.6 L1740.9 657.6 L1742.9 657.6 L1744.9 657.6 L1746.9 657.7 L1748.9 657.7 L1750.9 657.7 L1752.9 657.7 L1754.9 657.8 L1756.9 657.8 L1758.9 657.8 L1760.9 657.8 L1762.9 657.9 L1764.9 657.9 L1766.9 657.9 L1768.9 658.0 L1770.9 658.0 L1772.9 658.0 L1774.9 658.0 L1776.9 658.1 L1778.9 658.1 L1780.9 658.1 L1782.9 658.1 L1784.9 658.2 L1786.9 658.2 L1788.9 658.2 L1790.9 658.2 L1792.9 658.3 L1794.9 658.3 L1796.9 658.3 L1798.9 658.3 L1800.9 658.4 L1802.9 658.4 L1804.9 658.4 L1806.9 658.4 L1808.9 658.5 L1810.9 658.5 L1812.9 658.5 L1814.9 658.5 L1816.9 658.6 L1818.9 658.6 L1820.9 658.6 L1822.9 658.6 L1824.9 658.7 L1826.9 658.7 L1828.9 658.7 L1830.9 658.7 L1832.9 658.7 L1834.9 658.8 L1836.9 658.8 L1838.9 658.8 L1840.9 658.8 L1842.9 658.9 L1844.9 658.9 L1846.9 658.9 L1848.9 658.9 L1850.9 659.0 L1852.9 659.0 L1854.9 659.0 L1856.9 659.0 L1858.9 659.0 L1860.9 659.1 L1862.9 659.1 L1864.9 659.1 L1866.9 659.1 L1868.9 659.2 L1870.9 659.2 L1872.9 659.2 L1874.9 659.2 L1876.9 659.2 L1878.9 659.3 L1880.9 659.3 L1882.9 659.3 L1884.9 659.3 L1886.9 659.4 L1888.9 659.4 L1890.9 659.4 L1892.9 659.4 L1894.9 659.4 L1896.9 659.5 L1898.9 659.5 L1900.9 659.5 L1902.9 659.5 L1904.9 659.5 L1906.9 659.6 L1908.9 659.6 L1910.9 659.6 L1912.9 659.6 L1914.9 659.6 L1916.9 659.7 L1918.9 659.7 L1920.9 659.7 L1922.9 659.7 L1924.9 659.7 L1926.9 659.8 L1928.9 659.8 L1930.9 659.8 L1932.9 659.8 L1934.9 659.8 L1936.9 659.9 L1938.9 659.9 L1940.9 659.9 L1942.9 659.9 L1944.9 659.9 L1946.9 660.0 L1948.9 660.0 L1950.9 660.0 L1952.9 660.0 L1954.9 660.0 L1956.9 660.0 L1958.9 660.1 L1960.9 660.1 L1962.9 660.1 L1964.9 660.1 L1966.9 660.1 L1968.9 660.2 L1970.9 660.2 L1972.9 660.2 L1974.9 660.2 L1976.9 660.2 L1978.9 660.2 L1980.9 660.3 L1983.0 660.3 L1985.0 660.3 L1987.0 660.3 L1989.0 660.3 L1991.0 660.4 L1993.0 660.4 L1995.0 660.4 L1997.0 660.4 L1999.0 660.4 L2001.0 660.4 L2003.0 660.5 L2005.0 660.5 L2007.0 660.5 L2009.0 660.5 L2011.0 660.5 L2013.0 660.5 L2015.0 660.6 L2017.0 660.6 L2019.0 660.6 L2021.0 660.6 L2023.0 660.6 L2025.0 660.6 L2027.0 660.7 L2029.0 660.7 L2031.0 660.7 L2033.0 660.7 L2035.0 660.7 L2037.0 660.7 L2039.0 660.8 L2041.0 660.8 L2043.0 660.8 L2045.0 660.8 L2047.0 660.8 L2049.0 660.8 L2051.0 660.9 L2053.0 660.9 L2055.0 660.9 L2057.0 660.9 L2059.0 660.9 L2061.0 660.9 L2063.0 661.0 L2065.0 661.0 L2067.0 661.0 L2069.0 661.0 L2071.0 661.0 L2073.0 661.0 L2075.0 661.1 L2077.0 661.1 L2079.0 661.1 L2081.0 661.1 L2083.0 661.1 L2085.0 661.1 L2087.0 661.2 L2089.0 661.2 L2091.0 661.2 L2093.0 661.2 L2095.0 661.2 L2097.0 661.2 L2099.0 661.3 L2101.0 661.3 L2103.0 661.3 L2105.0 661.3 L2107.0 661.3 L2109.0 661.3 L2111.0 661.4 L2113.0 661.4 L2115.0 661.4 L2117.0 661.4 L2119.0 661.4 L2121.0 661.4 L2123.0 661.5 L2125.0 661.5 L2127.0 661.5 L2128.0 661.5" fill="none" stroke="#000" stroke-width="2.6" stroke-linejoin="round"/><path d="M655 206 L656.2 163.8 L661.6 163.8 L662.6 222 Z" fill="#000"/><path d="M89.1 659.6 L91.1 658.8 L93.1 659.3 L95.1 659.9 L97.1 658.8 L99.1 660.1 L101.1 659.0 L103.1 659.9 L105.1 658.6 L107.1 659.2 L109.1 660.0 L111.1 658.6 L113.1 658.7 L115.1 659.1 L117.1 658.7 L119.1 658.2 L121.1 658.4 L123.1 658.4 L125.1 659.7 L127.1 659.2 L129.1 659.6 L131.1 658.3 L133.1 659.4 L135.1 658.1 L137.1 658.9 L139.1 659.0 L141.1 658.5 L143.1 659.4 L145.1 658.8 L147.1 658.8 L149.1 659.3 L151.1 657.8 L153.1 659.4 L155.1 658.7 L157.1 658.2 L159.1 658.8 L161.2 657.8 L163.2 659.0 L165.2 658.2 L167.2 657.7 L169.2 658.3 L171.2 657.6 L173.2 657.0 L175.2 657.8 L177.2 656.4 L179.2 657.6 L181.2 656.3 L183.2 656.7 L185.2 657.1 L187.2 656.1 L189.2 656.0 L191.2 655.1 L193.2 654.3 L195.2 654.2 L197.2 654.1 L199.2 654.6 L201.2 654.0 L203.2 653.7 L205.2 653.9 L207.2 652.0 L209.2 651.6 L211.2 651.7 L213.2 649.8 L215.2 649.0 L217.2 648.8 L219.2 647.6 L221.2 647.2 L223.2 646.1 L225.2 646.0 L227.2 645.2 L229.2 643.7 L231.2 643.7 L233.2 642.7 L235.2 641.3 L237.2 642.0 L239.2 640.0 L241.2 639.1 L243.2 638.3 L245.2 638.5 L247.2 638.1 L249.2 637.1 L251.2 635.6 L253.2 634.6 L255.2 633.3 L257.2 633.7 L259.2 632.8 L261.2 631.8 L263.2 631.8 L265.2 631.0 L267.2 631.5 L269.2 631.0 L271.2 630.1 L273.2 631.4 L275.2 630.1 L277.2 631.3 L279.2 631.4 L281.2 631.4 L283.2 631.3 L285.2 632.8 L287.2 631.5 L289.2 632.4 L291.2 632.9 L293.2 631.2 L295.2 631.1 L297.2 631.6 L299.2 631.2 L301.3 631.3 L303.3 631.5 L305.3 630.3 L307.3 630.5 L309.3 630.5 L311.3 630.0 L313.3 631.5 L315.3 631.2 L317.3 631.0 L319.3 629.6 L321.3 630.9 L323.3 630.4 L325.3 629.5 L327.3 629.4 L329.3 628.2 L331.3 627.1 L333.3 626.0 L335.3 625.3 L337.3 624.0 L339.3 623.5 L341.3 623.1 L343.3 621.7 L345.3 620.6 L347.3 618.7 L349.3 616.1 L351.3 614.6 L353.3 612.1 L355.3 610.4 L357.3 607.5 L359.3 604.5 L361.3 602.8 L363.3 601.0 L365.3 597.3 L367.3 596.1 L369.3 592.1 L371.3 589.9 L373.3 587.2 L375.3 585.3 L377.3 582.8 L379.3 579.6 L381.3 576.1 L383.3 574.4 L385.3 570.6 L387.3 567.6 L389.3 565.9 L391.3 562.3 L393.3 559.3 L395.3 556.1 L397.3 553.6 L399.3 549.7 L401.3 547.5 L403.3 544.5 L405.3 542.2 L407.3 538.9 L409.3 537.0 L411.3 534.5 L413.3 531.8 L415.3 529.4 L417.3 528.0 L419.3 524.8 L421.3 524.0 L423.3 520.4 L425.3 517.9 L427.3 516.0 L429.3 515.6 L431.3 512.8 L433.3 510.8 L435.3 509.2 L437.3 507.7 L439.3 507.5 L441.3 506.0 L443.4 504.6 L445.4 503.1 L447.4 500.2 L449.4 499.4 L451.4 497.1 L453.4 496.0 L455.4 494.1 L457.4 492.3 L459.4 488.9 L461.4 488.5 L463.4 486.7 L465.4 484.8 L467.4 481.3 L469.4 479.4 L471.4 477.0 L473.4 474.5 L475.4 473.3 L477.4 470.4 L479.4 467.0 L481.4 464.2 L483.4 460.7 L485.4 456.9 L487.4 453.3 L489.4 450.2 L491.4 448.3 L493.4 444.4 L495.4 441.7 L497.4 439.1 L499.4 435.7 L501.4 433.4 L503.4 430.9 L505.4 429.0 L507.4 425.7 L509.4 423.0 L511.4 421.5 L513.4 418.1 L515.4 416.2 L517.4 413.3 L519.4 409.7 L521.4 407.9 L523.4 405.4 L525.4 403.5 L527.4 400.2 L529.4 398.4 L531.4 395.6 L533.4 392.7 L535.4 391.4 L537.4 387.6 L539.4 386.4 L541.4 382.7 L543.4 379.8 L545.4 377.6 L547.4 375.9 L549.4 373.5 L551.4 368.9 L553.4 367.0 L555.4 364.3 L557.4 362.1 L559.4 358.4 L561.4 356.4 L563.4 353.6 L565.4 352.1 L567.4 348.8 L569.4 347.9 L571.4 344.7 L573.4 342.7 L575.4 341.8 L577.4 339.8 L579.4 337.6 L581.4 337.2 L583.4 334.9 L585.5 335.1 L587.5 333.8 L589.5 332.9 L591.5 331.6 L593.5 330.1 L595.5 329.2 L597.5 328.2 L599.5 328.1 L601.5 325.7 L603.5 326.2 L605.5 323.6 L607.5 322.9 L609.5 322.0 L611.5 322.0 L613.5 320.1 L615.5 318.7 L617.5 318.3 L619.5 315.8 L621.5 314.8 L623.5 313.4 L625.5 312.2 L627.5 310.5 L629.5 308.4 L631.5 305.8 L633.5 303.5 L635.5 300.8 L637.5 299.6 L639.5 296.8 L641.5 294.5 L643.5 291.0 L645.5 289.1 L647.5 287.1 L649.5 283.6 L651.5 278.0 L653.5 269.5 L654.5 262.0 L656.0 232.0 L657.0 221.5 L660.0 221.5 L662.0 262.0 L662.8 300.7 L664.8 303.4 L666.8 304.3 L668.8 306.9 L670.8 311.5 L672.8 317.4 L674.8 322.3 L676.8 325.4 L678.8 329.5 L680.8 333.5 L682.8 337.2 L684.8 341.1 L686.8 343.8 L688.8 347.3 L690.8 350.0 L692.8 354.4 L694.8 356.9 L696.8 358.7 L698.8 363.2 L700.8 364.6 L702.8 368.0 L704.8 371.8 L706.8 374.2 L708.8 376.8 L710.8 378.9 L712.8 381.2 L714.8 384.6 L716.8 386.3 L718.8 389.1 L720.8 392.0 L722.8 393.9 L724.8 397.1 L726.8 400.4 L728.8 402.7 L730.8 404.9 L732.8 407.7 L734.8 410.0 L736.8 412.0 L738.8 415.7 L740.8 418.2 L742.8 421.8 L744.8 425.1 L746.8 427.3 L748.8 430.5 L750.8 433.7 L752.8 435.9 L754.8 438.2 L756.8 441.7 L758.8 444.4 L760.8 446.6 L762.8 448.8 L764.8 451.4 L766.8 453.3 L768.8 455.5 L770.8 457.4 L772.8 459.3 L774.8 462.1 L776.8 463.3 L778.8 466.0 L780.8 468.8 L782.8 470.8 L784.8 472.7 L786.8 474.0 L788.8 476.3 L790.8 478.3 L792.8 480.5 L794.8 482.0 L796.8 484.4 L798.8 486.8 L800.8 487.3 L802.8 490.1 L804.8 492.2 L806.8 493.4 L808.8 495.5 L810.8 498.3 L812.8 498.4 L814.8 501.1 L816.8 502.2 L818.8 505.1 L820.8 507.0 L822.8 507.9 L824.8 508.7 L826.8 511.1 L828.8 512.5 L830.8 514.3 L832.8 515.4 L834.8 517.0 L836.8 518.8 L838.8 519.6 L840.8 520.8 L842.8 523.1 L844.8 523.1 L846.8 525.3 L848.8 526.2 L850.8 528.2 L852.8 528.4 L854.8 531.3 L856.8 531.5 L858.8 532.3 L860.8 533.9 L862.8 535.4 L864.8 535.9 L866.8 537.9 L868.8 539.0 L870.8 540.7 L872.8 541.2 L874.8 542.1 L876.8 543.1 L878.8 545.1 L880.8 546.4 L882.8 546.7 L884.8 547.2 L886.8 549.2 L888.8 549.5 L890.8 550.2 L892.8 551.0 L894.8 553.2 L896.8 554.2 L898.8 554.9 L900.8 555.6 L902.8 556.8 L904.8 557.2 L906.8 559.5 L908.8 559.4 L910.8 560.9 L912.8 562.2 L914.8 563.2 L916.8 563.6 L918.8 564.3 L920.8 565.8 L922.8 566.0 L924.8 568.3 L926.8 568.4 L928.8 570.3 L930.8 570.3 L932.8 571.5 L934.8 572.3 L936.8 573.6 L938.8 574.1 L940.8 574.8 L942.8 577.1 L944.8 577.3 L946.8 578.2 L948.8 579.3 L950.8 580.5 L952.8 581.4 L954.8 582.8 L956.8 583.8 L958.8 584.2 L960.8 586.1 L962.8 586.9 L964.8 586.4 L966.8 588.8 L968.8 589.8 L970.8 590.5 L972.8 590.3 L974.8 592.4 L976.8 592.9 L978.8 592.7 L980.8 593.5 L982.8 596.1 L984.8 596.3 L986.8 596.4 L988.8 596.9 L990.8 597.8 L992.8 598.7 L994.8 600.4 L996.8 600.3 L998.8 600.7 L1000.8 602.7 L1002.8 603.2 L1004.8 602.7 L1006.8 604.6 L1008.8 604.7 L1010.8 605.7 L1012.8 606.1 L1014.8 607.1 L1016.8 607.5 L1018.8 608.1 L1020.8 607.6 L1022.8 609.0 L1024.8 609.3 L1026.8 610.2 L1028.8 610.1 L1030.9 611.5 L1032.9 611.4 L1034.9 611.3 L1036.9 611.8 L1038.9 612.1 L1040.9 613.2 L1042.9 612.9 L1044.9 614.1 L1046.9 613.9 L1048.9 615.0 L1050.9 615.4 L1052.9 615.9 L1054.9 616.9 L1056.9 615.7 L1058.9 617.6 L1060.9 617.3 L1062.9 617.8 L1064.9 618.3 L1066.9 619.0 L1068.9 618.5 L1070.9 618.9 L1072.9 620.1 L1074.9 618.8 L1076.9 620.1 L1078.9 620.4 L1080.9 619.6 L1082.9 620.9 L1084.9 621.3 L1086.9 622.0 L1088.9 621.2 L1090.9 622.6 L1092.9 622.0 L1094.9 622.2 L1096.9 623.2 L1098.9 621.9 L1100.9 623.4 L1102.9 623.5 L1104.9 623.3 L1106.9 624.5 L1108.9 623.9 L1110.9 624.3 L1112.9 624.7 L1114.9 625.4 L1116.9 624.7 L1118.9 625.4 L1120.9 625.7 L1122.9 626.2 L1124.9 627.0 L1126.9 626.4 L1128.9 627.7 L1130.9 627.2 L1132.9 627.8 L1134.9 627.7 L1136.9 628.4 L1138.9 629.6 L1140.9 629.4 L1142.9 629.9 L1144.9 629.4 L1146.9 629.8 L1148.9 630.1 L1150.9 630.9 L1152.9 631.3 L1154.9 631.9 L1156.9 630.9 L1158.9 632.4 L1160.9 633.0 L1162.9 632.7 L1164.9 632.1 L1166.9 632.8 L1168.9 632.6 L1170.9 633.2 L1172.9 634.7 L1174.9 634.4 L1176.9 634.8 L1178.9 635.2 L1180.9 635.7 L1182.9 635.4 L1184.9 635.6 L1186.9 635.9 L1188.9 636.2 L1190.9 636.3 L1192.9 636.6 L1194.9 636.0 L1196.9 637.1 L1198.9 636.9 L1200.9 637.7 L1202.9 636.7 L1204.9 637.1 L1206.9 637.0 L1208.9 638.6 L1210.9 639.1 L1212.9 638.9 L1214.9 638.6 L1216.9 639.6 L1218.9 639.8 L1220.9 639.6 L1222.9 639.3 L1224.9 639.7 L1226.9 640.1 L1228.9 640.2 L1230.9 640.6 L1232.9 641.3 L1234.9 642.0 L1236.9 640.7 L1238.9 641.9 L1240.9 641.2 L1242.9 641.6 L1244.9 643.0 L1246.9 642.9 L1248.9 643.7 L1250.9 643.1 L1252.9 642.6 L1254.9 643.5 L1256.9 644.1 L1258.9 644.9 L1260.9 645.2 L1262.9 644.5 L1264.9 644.6 L1266.9 644.3 L1268.9 645.5 L1270.9 644.9 L1272.9 645.0 L1274.9 645.0 L1276.9 645.2 L1278.9 646.6 L1280.9 645.8 L1282.9 647.5 L1284.9 646.1 L1286.9 647.7 L1288.9 646.6 L1290.9 646.6 L1292.9 648.0 L1294.9 647.4 L1296.9 648.4 L1298.9 647.6 L1300.9 647.6 L1302.9 649.0 L1304.9 649.1 L1306.9 649.5 L1308.9 649.5 L1310.9 648.5 L1312.9 649.7 L1314.9 650.0 L1316.9 649.7 L1318.9 650.7 L1320.9 649.7 L1322.9 651.1 L1324.9 650.8 L1326.9 649.7 L1328.9 649.9 L1330.9 651.1 L1332.9 651.6 L1334.9 650.4 L1336.9 651.0 L1338.9 651.9 L1340.9 651.0 L1342.9 652.4 L1344.9 651.8 L1346.9 651.2 L1348.9 651.9 L1350.9 652.4 L1352.9 652.3 L1354.9 652.8 L1356.9 652.0 L1358.9 653.3 L1360.9 652.6 L1362.9 653.2 L1364.9 653.3 L1366.9 653.0 L1368.9 653.1 L1370.9 653.9 L1372.9 654.3 L1374.9 654.1 L1376.9 653.8 L1378.9 653.4 L1380.9 653.0 L1382.9 654.8 L1384.9 654.3 L1386.9 654.6 L1388.9 653.8 L1390.9 654.4 L1392.9 655.1 L1394.9 654.9 L1396.9 654.6 L1398.9 654.1 L1400.9 654.3 L1402.9 655.2 L1404.9 654.3 L1406.9 654.9 L1408.9 654.8 L1410.9 655.4 L1412.9 655.3 L1414.9 654.4 L1416.9 653.9 L1418.9 654.4 L1420.9 654.7 L1422.9 655.1 L1424.9 655.5 L1426.9 655.7 L1428.9 654.2 L1430.9 655.6 L1432.9 655.6 L1434.9 655.7 L1436.9 655.2 L1438.9 654.7 L1440.9 655.8 L1442.9 655.7 L1444.9 655.5 L1446.9 655.9 L1448.9 654.9 L1450.9 654.5 L1452.9 655.4 L1454.9 655.8 L1456.9 654.8 L1458.9 655.8 L1460.9 656.1 L1462.9 654.9 L1464.9 655.6 L1466.9 655.7 L1468.9 655.4 L1470.9 654.9 L1472.9 655.0 L1474.9 655.9 L1476.9 656.0 L1478.9 655.5 L1480.9 654.8 L1482.9 656.1 L1484.9 656.1 L1486.9 655.2 L1488.9 655.8 L1490.9 656.4 L1492.9 656.4 L1494.9 655.8 L1496.9 655.7 L1498.9 656.0 L1500.9 655.3 L1502.9 655.3 L1504.9 655.3 L1506.9 656.3 L1508.9 655.7 L1510.9 656.1 L1512.9 655.8 L1514.9 656.1 L1516.9 655.4 L1518.9 655.3 L1520.9 657.0 L1522.9 655.9 L1524.9 655.5 L1526.9 656.5 L1528.9 656.8 L1530.9 655.7 L1532.9 656.5 L1534.9 656.1 L1536.9 656.4 L1538.9 655.6 L1540.9 655.6 L1542.9 657.4 L1544.9 657.2 L1546.9 656.5 L1548.9 656.7 L1550.9 656.2 L1552.9 657.2 L1554.9 656.6 L1556.9 657.5 L1558.9 657.3 L1560.9 657.4 L1562.9 657.7 L1564.9 656.4 L1566.9 656.1 L1568.9 656.4 L1570.9 656.4 L1572.9 656.3 L1574.9 656.2 L1576.9 657.2 L1578.9 657.8 L1580.9 657.1 L1582.9 658.0 L1584.9 658.0 L1586.9 656.5 L1588.9 657.5 L1590.9 657.2 L1592.9 656.7 L1594.9 658.2 L1596.9 657.0 L1598.9 657.6 L1600.9 657.8 L1602.9 658.4 L1604.9 657.9 L1606.9 657.4 L1608.9 657.6 L1610.9 657.1 L1612.9 658.6 L1614.9 658.7 L1616.9 657.3 L1618.9 657.0 L1620.9 657.5 L1622.9 657.7 L1624.9 658.7 L1626.9 658.8 L1628.9 658.7 L1630.9 657.3 L1632.9 658.7 L1634.9 658.6 L1636.9 658.5 L1638.9 659.2 L1640.9 657.5 L1642.9 657.7 L1644.9 658.9 L1646.9 659.3 L1648.9 658.8 L1650.9 658.2 L1652.9 658.8 L1654.9 659.1 L1656.9 658.0 L1658.9 658.4 L1660.9 658.3 L1662.9 658.1 L1664.9 658.8 L1666.9 658.2 L1668.9 658.4 L1670.9 658.3 L1672.9 659.3 L1674.9 658.1 L1676.9 659.4 L1678.9 658.5 L1680.9 658.2 L1682.9 659.8 L1684.9 658.6 L1686.9 659.9 L1688.9 659.8 L1690.9 659.9 L1692.9 658.6 L1694.9 659.1 L1696.9 658.5 L1698.9 660.1 L1700.9 659.9 L1702.9 659.6 L1704.9 659.3 L1706.9 659.1 L1708.9 660.0 L1710.9 659.4 L1712.9 659.7 L1714.9 658.8 L1716.9 659.0 L1718.9 658.7 L1720.9 659.9 L1722.9 659.6 L1724.9 658.9 L1726.9 660.2 L1728.9 659.2 L1730.9 659.4 L1732.9 659.0 L1734.9 659.2 L1736.9 660.3 L1738.9 659.4 L1740.9 659.1 L1742.9 659.7 L1744.9 659.4 L1746.9 660.5 L1748.9 659.1 L1750.9 660.6 L1752.9 659.0 L1754.9 660.5 L1756.9 660.1 L1758.9 659.3 L1760.9 659.8 L1763.0 659.5 L1765.0 659.5 L1767.0 659.4 L1769.0 659.7 L1771.0 660.8 L1773.0 660.9 L1775.0 660.8 L1777.0 659.3 L1779.0 659.6 L1781.0 660.7 L1783.0 659.3 L1785.0 660.5 L1787.0 659.7 L1789.0 661.0 L1791.0 659.2 L1793.0 660.7 L1795.0 659.9 L1797.0 659.5 L1799.0 659.3 L1801.0 660.8 L1803.0 660.2 L1805.0 659.6 L1807.0 660.1 L1809.0 661.0 L1811.0 659.7 L1813.0 660.4 L1815.0 659.6 L1817.0 659.7 L1819.0 660.8 L1821.0 660.7 L1823.0 659.8 L1825.0 659.6 L1827.0 659.6 L1829.0 660.6 L1831.0 660.4 L1833.0 660.0 L1835.0 659.9 L1837.0 660.6 L1839.0 660.8 L1841.0 661.0 L1843.0 660.6 L1845.0 659.9 L1847.0 659.7 L1849.0 660.9 L1851.0 660.4 L1853.0 660.9 L1855.0 659.7 L1857.0 661.1 L1859.0 660.3 L1861.0 661.2 L1863.0 661.2 L1865.0 660.6 L1867.0 659.7 L1869.0 661.4 L1871.0 660.6 L1873.0 661.3 L1875.0 660.2 L1877.0 660.1 L1879.0 661.3 L1881.0 660.5 L1883.0 660.1 L1885.0 660.5 L1887.0 660.9 L1889.0 659.8 L1891.0 660.8 L1893.0 660.7 L1895.0 660.8 L1897.0 660.1 L1899.0 661.2 L1901.0 661.4 L1903.0 661.5 L1905.0 660.5 L1907.0 661.2 L1909.0 660.6 L1911.0 661.3 L1913.0 660.1 L1915.0 661.5 L1917.0 661.7 L1919.0 660.9 L1921.0 660.9 L1923.0 661.0 L1925.0 661.0 L1927.0 660.1 L1929.0 661.8 L1931.0 660.4 L1933.0 660.4 L1935.0 660.2 L1937.0 660.5 L1939.0 661.5 L1941.0 660.1 L1943.0 660.3 L1945.0 661.3 L1947.0 660.5 L1949.0 660.1 L1951.0 661.2 L1953.0 661.2 L1955.0 661.1 L1957.0 661.4 L1959.0 660.3 L1961.0 661.7 L1963.0 661.4 L1965.0 660.2 L1967.0 660.4 L1969.0 661.1 L1971.0 661.1 L1973.0 660.7 L1975.0 660.4 L1977.0 660.9 L1979.0 660.5 L1981.0 661.3 L1983.0 661.8 L1985.0 660.5 L1987.0 661.3 L1989.0 661.6 L1991.0 660.5 L1993.0 661.7 L1995.0 661.9 L1997.0 661.0 L1999.0 661.0 L2001.0 661.8 L2003.0 661.2 L2005.0 661.0 L2007.0 662.0 L2009.0 661.7 L2011.0 660.9 L2013.0 660.7 L2015.0 660.9 L2017.0 661.1 L2019.0 662.1 L2021.0 661.8 L2023.0 662.0 L2025.0 661.8 L2027.0 661.9 L2029.0 660.4 L2031.0 661.3 L2033.0 662.1 L2035.0 662.0 L2037.0 660.8 L2039.0 661.1 L2041.0 661.5 L2043.0 661.0 L2045.0 661.3 L2047.0 660.5 L2049.0 661.2 L2051.0 661.3 L2053.0 660.4 L2055.0 660.7 L2057.0 662.2 L2059.0 661.8 L2061.0 662.1 L2063.0 661.6 L2065.0 661.9 L2067.0 662.0 L2069.0 662.0 L2071.0 660.5 L2073.0 661.6 L2075.0 660.9 L2077.0 661.7 L2079.0 661.0 L2081.0 661.5 L2083.0 662.1 L2085.0 661.6 L2087.0 660.9 L2089.0 661.4 L2091.0 661.3 L2093.0 662.2 L2095.0 661.0 L2097.0 661.1 L2099.0 661.7 L2101.0 660.7 L2103.0 661.6 L2105.0 662.3 L2107.0 661.5 L2109.0 661.0 L2111.0 661.4 L2113.0 661.5 L2115.0 660.8 L2117.0 660.8 L2119.0 660.8 L2121.0 661.1 L2123.0 661.3 L2125.0 661.1 L2127.0 661.0 L2128.0 661.5" fill="none" stroke="#bb1d1d" stroke-width="5.6" stroke-linejoin="round"/><path d="M89.1 659.6 L92.1 656.9 L95.1 659.8 L98.1 661.6 L101.1 660.1 L104.1 659.7 L107.1 660.2 L110.1 657.3 L113.1 660.5 L116.1 658.8 L119.1 659.3 L122.1 659.7 L125.1 658.7 L128.1 657.7 L131.1 657.2 L134.1 657.1 L137.1 658.9 L140.1 658.0 L143.1 659.3 L146.1 655.5 L149.1 657.7 L152.1 660.8 L155.1 656.8 L158.1 658.7 L161.2 658.2 L164.2 656.7 L167.2 661.1 L170.2 656.5 L173.2 659.3 L176.2 655.1 L179.2 654.2 L182.2 659.0 L185.2 655.8 L188.2 653.0 L191.2 654.7 L194.2 654.7 L197.2 656.2 L200.2 651.8 L203.2 651.9 L206.2 655.9 L209.2 653.6 L212.2 648.8 L215.2 648.9 L218.2 647.8 L221.2 648.6 L224.2 647.0 L227.2 647.2 L230.2 645.9 L233.2 642.8 L236.2 643.1 L239.2 642.0 L242.2 641.0 L245.2 638.0 L248.2 638.8 L251.2 637.1 L254.2 637.2 L257.2 631.0 L260.2 634.8 L263.2 628.3 L266.2 632.6 L269.2 631.1 L272.2 630.6 L275.2 633.9 L278.2 631.9 L281.2 631.3 L284.2 634.0 L287.2 634.7 L290.2 632.9 L293.2 631.1 L296.2 631.2 L299.2 630.9 L302.3 632.4 L305.3 629.6 L308.3 630.2 L311.3 631.2 L314.3 630.0 L317.3 629.5 L320.3 632.3 L323.3 632.2 L326.3 629.3 L329.3 628.0 L332.3 625.1 L335.3 624.5 L338.3 622.0 L341.3 623.1 L344.3 621.2 L347.3 615.7 L350.3 618.2 L353.3 611.1 L356.3 610.8 L359.3 607.1 L362.3 604.3 L365.3 595.9 L368.3 593.7 L371.3 593.0 L374.3 583.1 L377.3 579.1 L380.3 578.2 L383.3 573.7 L386.3 572.2 L389.3 566.9 L392.3 560.8 L395.3 559.0 L398.3 551.3 L401.3 547.0 L404.3 544.0 L407.3 538.3 L410.3 534.6 L413.3 532.7 L416.3 527.9 L419.3 528.4 L422.3 523.2 L425.3 519.0 L428.3 513.2 L431.3 512.3 L434.3 510.1 L437.3 509.0 L440.3 506.9 L443.4 506.7 L446.4 504.8 L449.4 499.1 L452.4 496.0 L455.4 494.3 L458.4 493.8 L461.4 486.8 L464.4 485.2 L467.4 484.1 L470.4 476.8 L473.4 474.1 L476.4 474.3 L479.4 468.9 L482.4 462.1 L485.4 454.7 L488.4 455.0 L491.4 449.1 L494.4 445.5 L497.4 442.4 L500.4 437.7 L503.4 430.7 L506.4 425.1 L509.4 422.0 L512.4 419.4 L515.4 415.6 L518.4 409.8 L521.4 406.0 L524.4 405.1 L527.4 401.1 L530.4 395.8 L533.4 396.3 L536.4 390.4 L539.4 382.9 L542.4 381.5 L545.4 379.9 L548.4 372.8 L551.4 371.1 L554.4 362.5 L557.4 360.3 L560.4 359.8 L563.4 354.5 L566.4 351.4 L569.4 345.1 L572.4 344.1 L575.4 341.8 L578.4 337.6 L581.4 337.9 L584.5 335.3 L587.5 336.6 L590.5 332.4 L593.5 329.8 L596.5 326.5 L599.5 325.2 L602.5 327.6 L605.5 322.0 L608.5 320.4 L611.5 319.2 L614.5 319.6 L617.5 319.7 L620.5 316.3 L623.5 315.3 L626.5 308.1 L629.5 305.0 L632.5 306.7 L635.5 300.3 L638.5 299.1 L641.5 293.1 L644.5 288.3 L647.5 285.1 L650.5 278.8 L653.5 272.1 L654.5 262.0 L656.0 232.0 L657.0 221.5 L660.0 221.5 L662.0 262.0 L662.8 300.7 L665.8 304.2 L668.8 306.5 L671.8 314.2 L674.8 320.9 L677.8 325.3 L680.8 336.4 L683.8 339.9 L686.8 347.3 L689.8 348.7 L692.8 354.3 L695.8 356.3 L698.8 359.5 L701.8 369.5 L704.8 373.2 L707.8 373.8 L710.8 381.6 L713.8 385.1 L716.8 385.7 L719.8 391.6 L722.8 397.7 L725.8 398.6 L728.8 405.2 L731.8 404.5 L734.8 409.3 L737.8 415.5 L740.8 416.6 L743.8 421.6 L746.8 429.8 L749.8 431.7 L752.8 437.9 L755.8 438.4 L758.8 441.7 L761.8 446.4 L764.8 448.8 L767.8 457.1 L770.8 456.1 L773.8 461.1 L776.8 461.5 L779.8 467.5 L782.8 469.7 L785.8 472.8 L788.8 473.7 L791.8 476.9 L794.8 484.3 L797.8 484.1 L800.8 486.3 L803.8 488.8 L806.8 492.2 L809.8 494.8 L812.8 496.3 L815.8 503.0 L818.8 503.6 L821.8 504.9 L824.8 510.8 L827.8 509.1 L830.8 512.5 L833.8 518.2 L836.8 515.8 L839.8 519.9 L842.8 524.4 L845.8 526.3 L848.8 524.2 L851.8 527.5 L854.8 531.8 L857.8 531.6 L860.8 537.3 L863.8 534.3 L866.8 540.9 L869.8 539.8 L872.8 539.7 L875.8 542.7 L878.8 542.3 L881.8 547.5 L884.8 546.2 L887.8 551.8 L890.8 551.3 L893.8 551.4 L896.8 552.1 L899.8 555.9 L902.8 554.8 L905.8 560.6 L908.8 557.3 L911.8 561.3 L914.8 562.9 L917.8 562.7 L920.8 567.4 L923.8 566.5 L926.8 569.7 L929.8 570.6 L932.8 570.5 L935.8 572.5 L938.8 572.0 L941.8 574.1 L944.8 579.9 L947.8 578.0 L950.8 581.6 L953.8 579.5 L956.8 583.9 L959.8 584.0 L962.8 586.3 L965.8 586.4 L968.8 586.3 L971.8 589.2 L974.8 590.0 L977.8 590.7 L980.8 595.8 L983.8 594.3 L986.8 596.2 L989.8 600.6 L992.8 600.9 L995.8 602.7 L998.8 603.6 L1001.8 599.9 L1004.8 601.9 L1007.8 601.2 L1010.8 606.3 L1013.8 607.1 L1016.8 606.0 L1019.8 607.3 L1022.8 609.7 L1025.8 610.7 L1028.8 608.6 L1031.9 613.2 L1034.9 610.8 L1037.9 613.3 L1040.9 611.2 L1043.9 611.4 L1046.9 617.2 L1049.9 616.7 L1052.9 617.2 L1055.9 613.5 L1058.9 614.0 L1061.9 615.4 L1064.9 616.1 L1067.9 617.3 L1070.9 618.2 L1073.9 616.5 L1076.9 618.7 L1079.9 621.2 L1082.9 618.6 L1085.9 623.3 L1088.9 621.9 L1091.9 623.3 L1094.9 620.7 L1097.9 622.2 L1100.9 624.2 L1103.9 622.5 L1106.9 620.6 L1109.9 626.4 L1112.9 626.4 L1115.9 623.7 L1118.9 622.6 L1121.9 628.3 L1124.9 627.1 L1127.9 624.0 L1130.9 625.8 L1133.9 625.4 L1136.9 630.3 L1139.9 627.1 L1142.9 632.1 L1145.9 631.5 L1148.9 627.8 L1151.9 632.2 L1154.9 630.7 L1157.9 633.4 L1160.9 634.4 L1163.9 631.4 L1166.9 630.6 L1169.9 636.4 L1172.9 633.5 L1175.9 637.1 L1178.9 635.9 L1181.9 636.6 L1184.9 637.5 L1187.9 636.6 L1190.9 635.8 L1193.9 633.6 L1196.9 638.0 L1199.9 636.6 L1202.9 637.5 L1205.9 640.5 L1208.9 635.7 L1211.9 640.1 L1214.9 635.9 L1217.9 640.5 L1220.9 641.5 L1223.9 638.4 L1226.9 640.6 L1229.9 643.6 L1232.9 641.9 L1235.9 641.7 L1238.9 640.2 L1241.9 639.3 L1244.9 641.6 L1247.9 642.3 L1250.9 641.3 L1253.9 642.3 L1256.9 641.6 L1259.9 645.6 L1262.9 645.7 L1265.9 643.2 L1268.9 643.6 L1271.9 645.6 L1274.9 645.5 L1277.9 648.9 L1280.9 645.5 L1283.9 645.5 L1286.9 649.5 L1289.9 645.1 L1292.9 648.0 L1295.9 646.8 L1298.9 650.2 L1301.9 648.8 L1304.9 650.4 L1307.9 646.9 L1310.9 650.3 L1313.9 650.1 L1316.9 649.5 L1319.9 651.7 L1322.9 652.4 L1325.9 648.0 L1328.9 649.4 L1331.9 650.1 L1334.9 649.3 L1337.9 648.6 L1340.9 650.2 L1343.9 649.9 L1346.9 653.3 L1349.9 651.8 L1352.9 649.9 L1355.9 651.4 L1358.9 652.5 L1361.9 652.0 L1364.9 650.9 L1367.9 650.5 L1370.9 650.2 L1373.9 656.7 L1376.9 655.3 L1379.9 651.1 L1382.9 655.3 L1385.9 657.1 L1388.9 654.5 L1391.9 651.7 L1394.9 654.2 L1397.9 654.0 L1400.9 652.5 L1403.9 654.8 L1406.9 651.5 L1409.9 657.4 L1412.9 655.7 L1415.9 655.6 L1418.9 657.6 L1421.9 655.9 L1424.9 653.3 L1427.9 653.3 L1430.9 652.7 L1433.9 652.0 L1436.9 656.8 L1439.9 657.3 L1442.9 653.8 L1445.9 653.2 L1448.9 656.1 L1451.9 657.5 L1454.9 658.0 L1457.9 653.2 L1460.9 657.2 L1463.9 657.5 L1466.9 657.0 L1469.9 654.3 L1472.9 653.5 L1475.9 657.6 L1478.9 654.4 L1481.9 654.7 L1484.9 655.9 L1487.9 654.8 L1490.9 657.8 L1493.9 654.1 L1496.9 652.8 L1499.9 656.2 L1502.9 656.7 L1505.9 657.9 L1508.9 657.3 L1511.9 658.6 L1514.9 658.9 L1517.9 656.0 L1520.9 656.1 L1523.9 654.0 L1526.9 654.9 L1529.9 656.8 L1532.9 653.6 L1535.9 657.6 L1538.9 654.3 L1541.9 656.1 L1544.9 659.5 L1547.9 654.0 L1550.9 653.7 L1553.9 656.3 L1556.9 654.8 L1559.9 658.2 L1562.9 653.7 L1565.9 659.1 L1568.9 659.2 L1571.9 658.8 L1574.9 656.6 L1577.9 655.7 L1580.9 658.2 L1583.9 657.3 L1586.9 656.8 L1589.9 656.3 L1592.9 657.0 L1595.9 658.5 L1598.9 659.6 L1601.9 660.1 L1604.9 655.5 L1607.9 656.4 L1610.9 657.4 L1613.9 658.2 L1616.9 656.9 L1619.9 655.9 L1622.9 655.3 L1625.9 656.9 L1628.9 657.8 L1631.9 661.2 L1634.9 660.8 L1637.9 660.6 L1640.9 661.4 L1643.9 661.4 L1646.9 659.2 L1649.9 660.5 L1652.9 655.8 L1655.9 659.8 L1658.9 659.4 L1661.9 657.5 L1664.9 659.3 L1667.9 661.8 L1670.9 658.8 L1673.9 659.9 L1676.9 657.7 L1679.9 658.0 L1682.9 661.5 L1685.9 656.1 L1688.9 657.2 L1691.9 660.3 L1694.9 658.9 L1697.9 656.6 L1700.9 660.3 L1703.9 658.5 L1706.9 659.9 L1709.9 658.9 L1712.9 659.6 L1715.9 659.9 L1718.9 658.8 L1721.9 657.1 L1724.9 657.5 L1727.9 662.1 L1730.9 659.9 L1733.9 657.2 L1736.9 662.0 L1739.9 658.1 L1742.9 657.1 L1745.9 659.9 L1748.9 658.2 L1751.9 659.7 L1754.9 660.2 L1757.9 658.1 L1760.9 660.3 L1764.0 657.4 L1767.0 660.0 L1770.0 660.5 L1773.0 657.3 L1776.0 659.4 L1779.0 657.3 L1782.0 659.7 L1785.0 662.4 L1788.0 660.4 L1791.0 661.5 L1794.0 661.8 L1797.0 657.7 L1800.0 663.3 L1803.0 661.6 L1806.0 657.7 L1809.0 662.4 L1812.0 659.6 L1815.0 658.2 L1818.0 663.2 L1821.0 660.7 L1824.0 662.1 L1827.0 658.0 L1830.0 662.2 L1833.0 657.6 L1836.0 658.7 L1839.0 659.6 L1842.0 657.4 L1845.0 661.1 L1848.0 658.7 L1851.0 659.2 L1854.0 661.9 L1857.0 660.1 L1860.0 663.1 L1863.0 661.4 L1866.0 663.0 L1869.0 661.0 L1872.0 663.3 L1875.0 663.0 L1878.0 658.6 L1881.0 662.3 L1884.0 659.7 L1887.0 662.4 L1890.0 661.9 L1893.0 662.8 L1896.0 658.4 L1899.0 660.0 L1902.0 662.3 L1905.0 663.7 L1908.0 662.3 L1911.0 657.9 L1914.0 661.5 L1917.0 658.3 L1920.0 661.2 L1923.0 662.8 L1926.0 658.4 L1929.0 663.7 L1932.0 662.1 L1935.0 659.4 L1938.0 659.0 L1941.0 660.6 L1944.0 663.2 L1947.0 661.5 L1950.0 658.5 L1953.0 658.0 L1956.0 658.5 L1959.0 663.0 L1962.0 659.0 L1965.0 661.4 L1968.0 659.7 L1971.0 662.3 L1974.0 660.3 L1977.0 658.8 L1980.0 663.5 L1983.0 661.4 L1986.0 662.3 L1989.0 663.1 L1992.0 664.0 L1995.0 658.0 L1998.0 660.2 L2001.0 658.9 L2004.0 661.2 L2007.0 663.6 L2010.0 663.1 L2013.0 658.2 L2016.0 659.2 L2019.0 663.3 L2022.0 662.4 L2025.0 660.6 L2028.0 661.1 L2031.0 659.1 L2034.0 663.5 L2037.0 660.6 L2040.0 663.7 L2043.0 662.0 L2046.0 658.6 L2049.0 660.2 L2052.0 659.5 L2055.0 663.8 L2058.0 661.9 L2061.0 658.4 L2064.0 659.2 L2067.0 660.5 L2070.0 661.1 L2073.0 661.9 L2076.0 660.7 L2079.0 660.4 L2082.0 658.2 L2085.0 661.9 L2088.0 660.3 L2091.0 658.3 L2094.0 661.2 L2097.0 664.5 L2100.0 658.5 L2103.0 659.2 L2106.0 662.5 L2109.0 660.0 L2112.0 660.0 L2115.0 661.5 L2118.0 660.0 L2121.0 661.9 L2124.0 661.7 L2127.0 664.4 L2128.0 661.5" fill="none" stroke="#8c1a1a" stroke-width="1.8" stroke-dasharray="2.5 4.5" stroke-linejoin="round" opacity="0.8"/><path d="M90.7 1269.0 L92.7 1269.0 L94.7 1269.0 L96.7 1268.9 L98.7 1268.9 L100.7 1268.9 L102.7 1268.9 L104.7 1268.9 L106.7 1268.9 L108.7 1268.8 L110.7 1268.8 L112.7 1268.8 L114.7 1268.8 L116.7 1268.8 L118.7 1268.7 L120.7 1268.7 L122.7 1268.7 L124.7 1268.6 L126.7 1268.6 L128.7 1268.5 L130.7 1268.5 L132.7 1268.4 L134.7 1268.3 L136.7 1268.2 L138.7 1268.1 L140.7 1268.0 L142.7 1267.8 L144.7 1267.6 L146.7 1267.5 L148.7 1267.3 L150.7 1267.1 L152.7 1266.9 L154.7 1266.8 L156.7 1266.6 L158.7 1266.5 L160.7 1266.3 L162.8 1266.2 L164.8 1266.1 L166.8 1266.0 L168.8 1265.9 L170.8 1265.9 L172.8 1265.8 L174.8 1265.7 L176.8 1265.6 L178.8 1265.6 L180.8 1265.5 L182.8 1265.4 L184.8 1265.3 L186.8 1265.2 L188.8 1265.0 L190.8 1264.9 L192.8 1264.7 L194.8 1264.4 L196.8 1264.1 L198.8 1263.7 L200.8 1263.3 L202.8 1262.8 L204.8 1262.3 L206.8 1261.7 L208.8 1261.0 L210.8 1260.4 L212.8 1259.7 L214.8 1259.1 L216.8 1258.4 L218.8 1257.7 L220.8 1257.1 L222.8 1256.4 L224.8 1255.7 L226.8 1255.1 L228.8 1254.4 L230.8 1253.8 L232.8 1253.1 L234.8 1252.5 L236.8 1251.9 L238.8 1251.3 L240.8 1250.7 L242.8 1250.1 L244.8 1249.5 L246.8 1248.9 L248.8 1248.2 L250.8 1247.6 L252.8 1246.9 L254.8 1246.3 L256.8 1245.8 L258.8 1245.3 L260.8 1244.8 L262.8 1244.5 L264.8 1244.3 L266.8 1244.2 L268.8 1244.1 L270.8 1244.1 L272.8 1244.2 L274.8 1244.2 L276.8 1244.2 L278.8 1244.3 L280.8 1244.3 L282.8 1244.3 L284.8 1244.3 L286.8 1244.3 L288.8 1244.3 L290.8 1244.3 L292.8 1244.3 L294.8 1244.3 L296.8 1244.2 L298.8 1244.2 L300.8 1244.2 L302.9 1244.1 L304.9 1244.0 L306.9 1244.0 L308.9 1243.9 L310.9 1243.9 L312.9 1243.8 L314.9 1243.7 L316.9 1243.7 L318.9 1243.7 L320.9 1243.6 L322.9 1243.4 L324.9 1243.1 L326.9 1242.7 L328.9 1242.2 L330.9 1241.4 L332.9 1240.6 L334.9 1239.7 L336.9 1238.7 L338.9 1237.8 L340.9 1236.8 L342.9 1235.8 L344.9 1234.8 L346.9 1233.7 L348.9 1232.4 L350.9 1231.0 L352.9 1229.5 L354.9 1227.9 L356.9 1226.1 L358.9 1224.4 L360.9 1222.5 L362.9 1220.6 L364.9 1218.7 L366.9 1216.7 L368.9 1214.6 L370.9 1212.5 L372.9 1210.3 L374.9 1208.0 L376.9 1205.8 L378.9 1203.7 L380.9 1201.6 L382.9 1199.6 L384.9 1197.7 L386.9 1195.9 L388.9 1194.2 L390.9 1192.4 L392.9 1190.6 L394.9 1188.6 L396.9 1186.5 L398.9 1184.2 L400.9 1181.8 L402.9 1179.4 L404.9 1177.0 L406.9 1174.8 L408.9 1172.7 L410.9 1170.7 L412.9 1168.8 L414.9 1167.1 L416.9 1165.5 L418.9 1164.0 L420.9 1162.6 L422.9 1161.2 L424.9 1159.8 L426.9 1158.3 L428.9 1157.0 L430.9 1155.6 L432.9 1154.3 L434.9 1153.1 L436.9 1152.0 L438.9 1150.9 L440.9 1149.9 L442.9 1148.9 L445.0 1147.9 L447.0 1147.0 L449.0 1146.0 L451.0 1144.9 L453.0 1143.8 L455.0 1142.5 L457.0 1141.3 L459.0 1139.9 L461.0 1138.6 L463.0 1137.3 L465.0 1136.1 L467.0 1135.0 L469.0 1133.8 L471.0 1132.7 L473.0 1131.4 L475.0 1130.1 L477.0 1128.7 L479.0 1127.2 L481.0 1125.7 L483.0 1124.0 L485.0 1122.4 L487.0 1120.7 L489.0 1119.0 L491.0 1117.2 L493.0 1115.4 L495.0 1113.5 L497.0 1111.6 L499.0 1109.7 L501.0 1107.7 L503.0 1105.7 L505.0 1103.7 L507.0 1101.6 L509.0 1099.6 L511.0 1097.6 L513.0 1095.7 L515.0 1093.8 L517.0 1092.0 L519.0 1090.2 L521.0 1088.4 L523.0 1086.6 L525.0 1084.8 L527.0 1082.9 L529.0 1081.1 L531.0 1079.1 L533.0 1077.1 L535.0 1075.1 L537.0 1073.0 L539.0 1070.9 L541.0 1068.8 L543.0 1066.6 L545.0 1064.3 L547.0 1062.0 L549.0 1059.7 L551.0 1057.3 L553.0 1055.0 L555.0 1052.7 L557.0 1050.5 L559.0 1048.5 L561.0 1046.5 L563.0 1044.6 L565.0 1042.8 L567.0 1041.1 L569.0 1039.4 L571.0 1037.8 L573.0 1036.4 L575.0 1035.0 L577.0 1033.7 L579.0 1032.6 L581.0 1031.6 L583.0 1030.6 L585.1 1029.8 L587.1 1028.9 L589.1 1028.1 L591.1 1027.3 L593.1 1026.5 L595.1 1025.7 L597.1 1025.0 L599.1 1024.2 L601.1 1023.4 L603.1 1022.7 L605.1 1021.9 L607.1 1021.1 L609.1 1020.2 L611.1 1019.3 L613.1 1018.4 L615.1 1017.4 L617.1 1016.3 L619.1 1015.2 L621.1 1014.1 L623.1 1013.0 L625.1 1011.8 L627.1 1010.6 L629.1 1009.3 L631.1 1008.0 L633.1 1006.6 L635.1 1005.2 L637.1 1003.7 L639.1 1002.1 L641.1 1000.5 L643.1 998.8 L645.1 996.9 L647.1 994.8 L649.1 992.4 L651.1 989.3 L653.1 984.7 L655.1 978.7 L656.5 955.0 L657.6 942.4 L660.0 942.4 L662.2 1000.9 L662.2 1001.0 L664.2 1004.3 L666.2 1007.2 L668.2 1009.7 L670.2 1011.9 L672.2 1014.4 L674.2 1017.2 L676.2 1020.1 L678.2 1022.9 L680.2 1025.7 L682.2 1028.3 L684.2 1030.7 L686.2 1033.0 L688.2 1035.3 L690.2 1037.7 L692.2 1040.0 L694.2 1042.5 L696.2 1044.9 L698.2 1047.4 L700.2 1049.8 L702.2 1052.3 L704.2 1054.7 L706.2 1057.0 L708.2 1059.3 L710.2 1061.5 L712.2 1063.7 L714.2 1065.8 L716.2 1067.8 L718.2 1069.9 L720.2 1071.9 L722.2 1073.9 L724.2 1075.9 L726.2 1077.9 L728.2 1079.9 L730.2 1081.9 L732.2 1083.8 L734.2 1085.7 L736.2 1087.6 L738.2 1089.5 L740.2 1091.4 L742.2 1093.2 L744.2 1095.0 L746.2 1096.8 L748.2 1098.6 L750.2 1100.4 L752.2 1102.1 L754.3 1103.9 L756.3 1105.6 L758.3 1107.4 L760.3 1109.1 L762.3 1110.9 L764.3 1112.6 L766.3 1114.4 L768.3 1116.1 L770.3 1117.9 L772.3 1119.6 L774.3 1121.4 L776.3 1123.1 L778.3 1124.9 L780.3 1126.6 L782.3 1128.4 L784.3 1130.1 L786.3 1131.8 L788.3 1133.5 L790.3 1135.2 L792.3 1136.8 L794.3 1138.3 L796.3 1139.9 L798.3 1141.3 L800.3 1142.8 L802.3 1144.1 L804.3 1145.5 L806.3 1146.8 L808.3 1148.1 L810.3 1149.3 L812.3 1150.6 L814.3 1151.8 L816.3 1153.0 L818.3 1154.2 L820.3 1155.4 L822.3 1156.6 L824.3 1157.7 L826.3 1158.9 L828.3 1160.0 L830.3 1161.1 L832.3 1162.2 L834.3 1163.3 L836.3 1164.4 L838.3 1165.4 L840.3 1166.4 L842.3 1167.4 L844.3 1168.4 L846.3 1169.4 L848.3 1170.4 L850.3 1171.4 L852.3 1172.3 L854.3 1173.2 L856.3 1174.1 L858.3 1175.0 L860.3 1175.9 L862.3 1176.7 L864.3 1177.6 L866.3 1178.4 L868.3 1179.2 L870.3 1180.1 L872.3 1180.9 L874.3 1181.7 L876.3 1182.5 L878.3 1183.3 L880.3 1184.1 L882.3 1184.9 L884.3 1185.7 L886.3 1186.5 L888.3 1187.3 L890.3 1188.1 L892.3 1188.8 L894.3 1189.6 L896.3 1190.3 L898.3 1191.0 L900.3 1191.8 L902.3 1192.5 L904.3 1193.2 L906.3 1193.9 L908.3 1194.6 L910.3 1195.2 L912.3 1195.9 L914.3 1196.6 L916.3 1197.3 L918.3 1198.0 L920.3 1198.7 L922.3 1199.4 L924.3 1200.1 L926.3 1200.8 L928.3 1201.5 L930.3 1202.3 L932.3 1203.1 L934.3 1203.8 L936.3 1204.6 L938.4 1205.4 L940.4 1206.2 L942.4 1207.1 L944.4 1207.9 L946.4 1208.6 L948.4 1209.4 L950.4 1210.2 L952.4 1210.9 L954.4 1211.6 L956.4 1212.3 L958.4 1213.0 L960.4 1213.7 L962.4 1214.3 L964.4 1215.0 L966.4 1215.7 L968.4 1216.4 L970.4 1217.1 L972.4 1217.7 L974.4 1218.4 L976.4 1219.1 L978.4 1219.8 L980.4 1220.5 L982.4 1221.1 L984.4 1221.8 L986.4 1222.4 L988.4 1223.0 L990.4 1223.6 L992.4 1224.2 L994.4 1224.8 L996.4 1225.3 L998.4 1225.8 L1000.4 1226.3 L1002.4 1226.8 L1004.4 1227.2 L1006.4 1227.6 L1008.4 1228.1 L1010.4 1228.5 L1012.4 1228.9 L1014.4 1229.3 L1016.4 1229.7 L1018.4 1230.1 L1020.4 1230.5 L1022.4 1230.9 L1024.4 1231.3 L1026.4 1231.7 L1028.4 1232.1 L1030.4 1232.5 L1032.4 1232.9 L1034.4 1233.2 L1036.4 1233.6 L1038.4 1234.0 L1040.4 1234.3 L1042.4 1234.6 L1044.4 1234.9 L1046.4 1235.2 L1048.4 1235.5 L1050.4 1235.8 L1052.4 1236.1 L1054.4 1236.3 L1056.4 1236.6 L1058.4 1236.9 L1060.4 1237.1 L1062.4 1237.4 L1064.4 1237.6 L1066.4 1237.9 L1068.4 1238.1 L1070.4 1238.4 L1072.4 1238.7 L1074.4 1238.9 L1076.4 1239.2 L1078.4 1239.4 L1080.4 1239.7 L1082.4 1239.9 L1084.4 1240.2 L1086.4 1240.4 L1088.4 1240.7 L1090.4 1240.9 L1092.4 1241.2 L1094.4 1241.4 L1096.4 1241.6 L1098.4 1241.8 L1100.4 1242.1 L1102.4 1242.3 L1104.4 1242.5 L1106.4 1242.7 L1108.4 1242.9 L1110.4 1243.1 L1112.4 1243.3 L1114.4 1243.5 L1116.4 1243.7 L1118.4 1243.9 L1120.5 1244.1 L1122.5 1244.3 L1124.5 1244.5 L1126.5 1244.7 L1128.5 1244.9 L1130.5 1245.1 L1132.5 1245.3 L1134.5 1245.5 L1136.5 1245.7 L1138.5 1245.9 L1140.5 1246.1 L1142.5 1246.3 L1144.5 1246.5 L1146.5 1246.6 L1148.5 1246.8 L1150.5 1247.0 L1152.5 1247.1 L1154.5 1247.3 L1156.5 1247.4 L1158.5 1247.6 L1160.5 1247.7 L1162.5 1247.8 L1164.5 1248.0 L1166.5 1248.1 L1168.5 1248.3 L1170.5 1248.4 L1172.5 1248.5 L1174.5 1248.7 L1176.5 1248.8 L1178.5 1248.9 L1180.5 1249.1 L1182.5 1249.2 L1184.5 1249.3 L1186.5 1249.5 L1188.5 1249.6 L1190.5 1249.7 L1192.5 1249.8 L1194.5 1250.0 L1196.5 1250.1 L1198.5 1250.2 L1200.5 1250.3 L1202.5 1250.5 L1204.5 1250.6 L1206.5 1250.7 L1208.5 1250.8 L1210.5 1250.9 L1212.5 1251.0 L1214.5 1251.1 L1216.5 1251.2 L1218.5 1251.3 L1220.5 1251.4 L1222.5 1251.6 L1224.5 1251.7 L1226.5 1251.8 L1228.5 1251.9 L1230.5 1252.0 L1232.5 1252.1 L1234.5 1252.3 L1236.5 1252.4 L1238.5 1252.5 L1240.5 1252.7 L1242.5 1252.8 L1244.5 1253.0 L1246.5 1253.1 L1248.5 1253.3 L1250.5 1253.5 L1252.5 1253.6 L1254.5 1253.8 L1256.5 1254.0 L1258.5 1254.1 L1260.5 1254.3 L1262.5 1254.5 L1264.5 1254.6 L1266.5 1254.8 L1268.5 1255.0 L1270.5 1255.1 L1272.5 1255.3 L1274.5 1255.4 L1276.5 1255.6 L1278.5 1255.7 L1280.5 1255.9 L1282.5 1256.0 L1284.5 1256.1 L1286.5 1256.3 L1288.5 1256.4 L1290.5 1256.5 L1292.5 1256.7 L1294.5 1256.8 L1296.5 1256.9 L1298.5 1257.0 L1300.5 1257.2 L1302.5 1257.3 L1304.6 1257.4 L1306.6 1257.5 L1308.6 1257.6 L1310.6 1257.7 L1312.6 1257.8 L1314.6 1257.9 L1316.6 1258.0 L1318.6 1258.1 L1320.6 1258.2 L1322.6 1258.3 L1324.6 1258.4 L1326.6 1258.5 L1328.6 1258.6 L1330.6 1258.7 L1332.6 1258.7 L1334.6 1258.8 L1336.6 1258.9 L1338.6 1259.0 L1340.6 1259.1 L1342.6 1259.2 L1344.6 1259.3 L1346.6 1259.4 L1348.6 1259.5 L1350.6 1259.6 L1352.6 1259.6 L1354.6 1259.7 L1356.6 1259.8 L1358.6 1259.9 L1360.6 1260.0 L1362.6 1260.1 L1364.6 1260.2 L1366.6 1260.3 L1368.6 1260.3 L1370.6 1260.4 L1372.6 1260.5 L1374.6 1260.6 L1376.6 1260.7 L1378.6 1260.8 L1380.6 1260.8 L1382.6 1260.9 L1384.6 1261.0 L1386.6 1261.1 L1388.6 1261.1 L1390.6 1261.2 L1392.6 1261.3 L1394.6 1261.4 L1396.6 1261.4 L1398.6 1261.5 L1400.6 1261.5 L1402.6 1261.6 L1404.6 1261.7 L1406.6 1261.7 L1408.6 1261.8 L1410.6 1261.8 L1412.6 1261.9 L1414.6 1261.9 L1416.6 1262.0 L1418.6 1262.0 L1420.6 1262.0 L1422.6 1262.1 L1424.6 1262.1 L1426.6 1262.2 L1428.6 1262.2 L1430.6 1262.2 L1432.6 1262.3 L1434.6 1262.3 L1436.6 1262.4 L1438.6 1262.4 L1440.6 1262.4 L1442.6 1262.5 L1444.6 1262.5 L1446.6 1262.5 L1448.6 1262.6 L1450.6 1262.6 L1452.6 1262.6 L1454.6 1262.7 L1456.6 1262.7 L1458.6 1262.7 L1460.6 1262.8 L1462.6 1262.8 L1464.6 1262.8 L1466.6 1262.8 L1468.6 1262.9 L1470.6 1262.9 L1472.6 1262.9 L1474.6 1263.0 L1476.6 1263.0 L1478.6 1263.0 L1480.6 1263.0 L1482.6 1263.1 L1484.6 1263.1 L1486.6 1263.1 L1488.7 1263.2 L1490.7 1263.2 L1492.7 1263.2 L1494.7 1263.2 L1496.7 1263.3 L1498.7 1263.3 L1500.7 1263.3 L1502.7 1263.3 L1504.7 1263.4 L1506.7 1263.4 L1508.7 1263.4 L1510.7 1263.4 L1512.7 1263.5 L1514.7 1263.5 L1516.7 1263.5 L1518.7 1263.5 L1520.7 1263.6 L1522.7 1263.6 L1524.7 1263.6 L1526.7 1263.6 L1528.7 1263.7 L1530.7 1263.7 L1532.7 1263.7 L1534.7 1263.7 L1536.7 1263.8 L1538.7 1263.8 L1540.7 1263.8 L1542.7 1263.8 L1544.7 1263.9 L1546.7 1263.9 L1548.7 1263.9 L1550.7 1263.9 L1552.7 1264.0 L1554.7 1264.0 L1556.7 1264.0 L1558.7 1264.0 L1560.7 1264.0 L1562.7 1264.1 L1564.7 1264.1 L1566.7 1264.1 L1568.7 1264.1 L1570.7 1264.2 L1572.7 1264.2 L1574.7 1264.2 L1576.7 1264.2 L1578.7 1264.3 L1580.7 1264.3 L1582.7 1264.3 L1584.7 1264.3 L1586.7 1264.3 L1588.7 1264.4 L1590.7 1264.4 L1592.7 1264.4 L1594.7 1264.4 L1596.7 1264.5 L1598.7 1264.5 L1600.7 1264.5 L1602.7 1264.5 L1604.7 1264.6 L1606.7 1264.6 L1608.7 1264.6 L1610.7 1264.6 L1612.7 1264.6 L1614.7 1264.7 L1616.7 1264.7 L1618.7 1264.7 L1620.7 1264.7 L1622.7 1264.8 L1624.7 1264.8 L1626.7 1264.8 L1628.7 1264.8 L1630.7 1264.8 L1632.7 1264.9 L1634.7 1264.9 L1636.7 1264.9 L1638.7 1264.9 L1640.7 1264.9 L1642.7 1265.0 L1644.7 1265.0 L1646.7 1265.0 L1648.7 1265.0 L1650.7 1265.0 L1652.7 1265.1 L1654.7 1265.1 L1656.7 1265.1 L1658.7 1265.1 L1660.7 1265.1 L1662.7 1265.2 L1664.7 1265.2 L1666.7 1265.2 L1668.7 1265.2 L1670.8 1265.2 L1672.8 1265.3 L1674.8 1265.3 L1676.8 1265.3 L1678.8 1265.3 L1680.8 1265.3 L1682.8 1265.4 L1684.8 1265.4 L1686.8 1265.4 L1688.8 1265.4 L1690.8 1265.4 L1692.8 1265.4 L1694.8 1265.5 L1696.8 1265.5 L1698.8 1265.5 L1700.8 1265.5 L1702.8 1265.5 L1704.8 1265.5 L1706.8 1265.6 L1708.8 1265.6 L1710.8 1265.6 L1712.8 1265.6 L1714.8 1265.6 L1716.8 1265.6 L1718.8 1265.7 L1720.8 1265.7 L1722.8 1265.7 L1724.8 1265.7 L1726.8 1265.7 L1728.8 1265.7 L1730.8 1265.8 L1732.8 1265.8 L1734.8 1265.8 L1736.8 1265.8 L1738.8 1265.8 L1740.8 1265.8 L1742.8 1265.9 L1744.8 1265.9 L1746.8 1265.9 L1748.8 1265.9 L1750.8 1265.9 L1752.8 1265.9 L1754.8 1266.0 L1756.8 1266.0 L1758.8 1266.0 L1760.8 1266.0 L1762.8 1266.0 L1764.8 1266.0 L1766.8 1266.1 L1768.8 1266.1 L1770.8 1266.1 L1772.8 1266.1 L1774.8 1266.1 L1776.8 1266.1 L1778.8 1266.1 L1780.8 1266.2 L1782.8 1266.2 L1784.8 1266.2 L1786.8 1266.2 L1788.8 1266.2 L1790.8 1266.2 L1792.8 1266.3 L1794.8 1266.3 L1796.8 1266.3 L1798.8 1266.3 L1800.8 1266.3 L1802.8 1266.3 L1804.8 1266.3 L1806.8 1266.4 L1808.8 1266.4 L1810.8 1266.4 L1812.8 1266.4 L1814.8 1266.4 L1816.8 1266.4 L1818.8 1266.5 L1820.8 1266.5 L1822.8 1266.5 L1824.8 1266.5 L1826.8 1266.5 L1828.8 1266.5 L1830.8 1266.5 L1832.8 1266.6 L1834.8 1266.6 L1836.8 1266.6 L1838.8 1266.6 L1840.8 1266.6 L1842.8 1266.6 L1844.8 1266.6 L1846.8 1266.7 L1848.8 1266.7 L1850.8 1266.7 L1852.8 1266.7 L1854.9 1266.7 L1856.9 1266.7 L1858.9 1266.7 L1860.9 1266.8 L1862.9 1266.8 L1864.9 1266.8 L1866.9 1266.8 L1868.9 1266.8 L1870.9 1266.8 L1872.9 1266.8 L1874.9 1266.8 L1876.9 1266.9 L1878.9 1266.9 L1880.9 1266.9 L1882.9 1266.9 L1884.9 1266.9 L1886.9 1266.9 L1888.9 1266.9 L1890.9 1266.9 L1892.9 1267.0 L1894.9 1267.0 L1896.9 1267.0 L1898.9 1267.0 L1900.9 1267.0 L1902.9 1267.0 L1904.9 1267.0 L1906.9 1267.0 L1908.9 1267.0 L1910.9 1267.1 L1912.9 1267.1 L1914.9 1267.1 L1916.9 1267.1 L1918.9 1267.1 L1920.9 1267.1 L1922.9 1267.1 L1924.9 1267.1 L1926.9 1267.1 L1928.9 1267.2 L1930.9 1267.2 L1932.9 1267.2 L1934.9 1267.2 L1936.9 1267.2 L1938.9 1267.2 L1940.9 1267.2 L1942.9 1267.2 L1944.9 1267.2 L1946.9 1267.2 L1948.9 1267.3 L1950.9 1267.3 L1952.9 1267.3 L1954.9 1267.3 L1956.9 1267.3 L1958.9 1267.3 L1960.9 1267.3 L1962.9 1267.3 L1964.9 1267.3 L1966.9 1267.3 L1968.9 1267.3 L1970.9 1267.4 L1972.9 1267.4 L1974.9 1267.4 L1976.9 1267.4 L1978.9 1267.4 L1980.9 1267.4 L1982.9 1267.4 L1984.9 1267.4 L1986.9 1267.4 L1988.9 1267.4 L1990.9 1267.4 L1992.9 1267.5 L1994.9 1267.5 L1996.9 1267.5 L1998.9 1267.5 L2000.9 1267.5 L2002.9 1267.5 L2004.9 1267.5 L2006.9 1267.5 L2008.9 1267.5 L2010.9 1267.5 L2012.9 1267.5 L2014.9 1267.5 L2016.9 1267.6 L2018.9 1267.6 L2020.9 1267.6 L2022.9 1267.6 L2024.9 1267.6 L2026.9 1267.6 L2028.9 1267.6 L2030.9 1267.6 L2032.9 1267.6 L2034.9 1267.6 L2037.0 1267.6 L2039.0 1267.6 L2041.0 1267.7 L2043.0 1267.7 L2045.0 1267.7 L2047.0 1267.7 L2049.0 1267.7 L2051.0 1267.7 L2053.0 1267.7 L2055.0 1267.7 L2057.0 1267.7 L2059.0 1267.7 L2061.0 1267.7 L2063.0 1267.7 L2065.0 1267.7 L2067.0 1267.8 L2069.0 1267.8 L2071.0 1267.8 L2073.0 1267.8 L2075.0 1267.8 L2077.0 1267.8 L2079.0 1267.8 L2081.0 1267.8 L2083.0 1267.8 L2085.0 1267.8 L2087.0 1267.8 L2089.0 1267.8 L2091.0 1267.9 L2093.0 1267.9 L2095.0 1267.9 L2097.0 1267.9 L2099.0 1267.9 L2101.0 1267.9 L2103.0 1267.9 L2105.0 1267.9 L2107.0 1267.9 L2109.0 1267.9 L2111.0 1267.9 L2113.0 1267.9 L2115.0 1267.9 L2117.0 1268.0 L2119.0 1268.0 L2121.0 1268.0 L2123.0 1268.0 L2125.0 1268.0 L2127.0 1268.0 L2128.0 1268.0" fill="none" stroke="#ffe6e6" stroke-width="12" stroke-linejoin="round"/><path d="M90.7 1269.0 L92.7 1270.6 L94.7 1267.5 L96.7 1269.1 L98.7 1269.8 L100.7 1270.1 L102.7 1269.8 L104.7 1269.3 L106.7 1269.3 L108.7 1268.4 L110.7 1268.1 L112.7 1269.7 L114.7 1270.0 L116.7 1270.2 L118.7 1269.3 L120.7 1268.1 L122.7 1269.5 L124.7 1269.4 L126.7 1268.6 L128.7 1269.0 L130.7 1268.0 L132.7 1268.6 L134.7 1268.0 L136.7 1266.8 L138.7 1267.6 L140.7 1267.4 L142.7 1269.4 L144.7 1267.6 L146.7 1267.1 L148.7 1266.5 L150.7 1266.3 L152.7 1266.5 L154.7 1265.6 L156.7 1265.0 L158.7 1267.7 L160.7 1266.2 L162.8 1266.0 L164.8 1266.3 L166.8 1265.4 L168.8 1264.9 L170.8 1264.5 L172.8 1265.1 L174.8 1265.1 L176.8 1266.4 L178.8 1265.7 L180.8 1266.9 L182.8 1264.9 L184.8 1266.6 L186.8 1265.4 L188.8 1263.7 L190.8 1263.8 L192.8 1264.9 L194.8 1266.0 L196.8 1263.7 L198.8 1264.6 L200.8 1263.1 L202.8 1264.0 L204.8 1260.9 L206.8 1261.6 L208.8 1262.3 L210.8 1259.7 L212.8 1259.0 L214.8 1257.5 L216.8 1257.3 L218.8 1257.0 L220.8 1257.7 L222.8 1255.5 L224.8 1255.4 L226.8 1254.1 L228.8 1254.8 L230.8 1254.9 L232.8 1253.6 L234.8 1251.5 L236.8 1252.6 L238.8 1252.8 L240.8 1251.0 L242.8 1248.7 L244.8 1250.5 L246.8 1250.1 L248.8 1247.7 L250.8 1246.4 L252.8 1245.9 L254.8 1246.4 L256.8 1247.0 L258.8 1245.7 L260.8 1246.2 L262.8 1243.6 L264.8 1243.8 L266.8 1245.0 L268.8 1244.6 L270.8 1243.8 L272.8 1244.7 L274.8 1243.7 L276.8 1242.8 L278.8 1244.0 L280.8 1242.8 L282.8 1244.7 L284.8 1243.8 L286.8 1244.3 L288.8 1244.6 L290.8 1243.5 L292.8 1244.2 L294.8 1242.7 L296.8 1245.6 L298.8 1244.4 L300.8 1245.7 L302.9 1242.7 L304.9 1244.4 L306.9 1244.7 L308.9 1243.4 L310.9 1242.6 L312.9 1242.7 L314.9 1242.6 L316.9 1244.6 L318.9 1242.3 L320.9 1244.6 L322.9 1243.2 L324.9 1243.3 L326.9 1243.0 L328.9 1242.3 L330.9 1241.9 L332.9 1240.9 L334.9 1239.1 L336.9 1239.5 L338.9 1237.0 L340.9 1237.5 L342.9 1236.7 L344.9 1235.7 L346.9 1233.1 L348.9 1233.3 L350.9 1232.5 L352.9 1229.3 L354.9 1227.1 L356.9 1226.2 L358.9 1225.8 L360.9 1221.4 L362.9 1219.1 L364.9 1218.6 L366.9 1217.2 L368.9 1215.5 L370.9 1212.0 L372.9 1211.8 L374.9 1207.2 L376.9 1206.6 L378.9 1202.3 L380.9 1200.0 L382.9 1198.4 L384.9 1196.3 L386.9 1195.9 L388.9 1194.4 L390.9 1191.4 L392.9 1192.0 L394.9 1188.2 L396.9 1185.3 L398.9 1183.1 L400.9 1182.5 L402.9 1180.7 L404.9 1176.0 L406.9 1173.3 L408.9 1173.6 L410.9 1169.9 L412.9 1170.4 L414.9 1167.1 L416.9 1165.9 L418.9 1163.5 L420.9 1163.5 L422.9 1161.0 L424.9 1159.2 L426.9 1159.6 L428.9 1155.7 L430.9 1156.3 L432.9 1152.9 L434.9 1153.6 L436.9 1151.6 L438.9 1152.1 L440.9 1148.5 L442.9 1149.1 L445.0 1147.6 L447.0 1148.3 L449.0 1147.4 L451.0 1145.3 L453.0 1142.9 L455.0 1141.8 L457.0 1140.5 L459.0 1139.7 L461.0 1137.8 L463.0 1136.4 L465.0 1136.9 L467.0 1135.4 L469.0 1133.2 L471.0 1134.2 L473.0 1130.5 L475.0 1130.3 L477.0 1127.6 L479.0 1128.4 L481.0 1126.8 L483.0 1123.3 L485.0 1123.2 L487.0 1121.7 L489.0 1118.3 L491.0 1116.7 L493.0 1115.3 L495.0 1114.8 L497.0 1110.6 L499.0 1110.3 L501.0 1108.0 L503.0 1105.6 L505.0 1103.9 L507.0 1102.9 L509.0 1098.7 L511.0 1098.9 L513.0 1095.3 L515.0 1094.7 L517.0 1093.1 L519.0 1089.1 L521.0 1089.5 L523.0 1088.2 L525.0 1084.1 L527.0 1081.4 L529.0 1079.8 L531.0 1080.6 L533.0 1075.6 L535.0 1076.4 L537.0 1071.9 L539.0 1071.7 L541.0 1067.5 L543.0 1065.5 L545.0 1064.9 L547.0 1060.7 L549.0 1059.1 L551.0 1058.6 L553.0 1055.6 L555.0 1053.9 L557.0 1052.1 L559.0 1047.0 L561.0 1045.7 L563.0 1045.6 L565.0 1043.4 L567.0 1039.6 L569.0 1039.4 L571.0 1037.0 L573.0 1036.1 L575.0 1033.7 L577.0 1032.2 L579.0 1034.2 L581.0 1031.0 L583.0 1031.8 L585.1 1028.5 L587.1 1028.9 L589.1 1026.9 L591.1 1027.1 L593.1 1025.5 L595.1 1026.3 L597.1 1023.8 L599.1 1025.0 L601.1 1023.4 L603.1 1021.4 L605.1 1021.4 L607.1 1021.1 L609.1 1021.6 L611.1 1018.8 L613.1 1017.4 L615.1 1018.9 L617.1 1017.5 L619.1 1016.0 L621.1 1013.4 L623.1 1011.9 L625.1 1011.0 L627.1 1009.2 L629.1 1007.8 L631.1 1008.0 L633.1 1006.4 L635.1 1005.4 L637.1 1003.3 L639.1 1000.6 L641.1 1001.1 L643.1 999.2 L645.1 997.0 L647.1 995.0 L649.1 993.0 L651.1 990.8 L653.1 985.8 L655.1 978.7 L656.5 955.0 L657.6 942.4 L660.0 942.4 L662.2 1000.9 L662.2 1001.0 L664.2 1004.9 L666.2 1006.9 L668.2 1009.1 L670.2 1011.7 L672.2 1015.9 L674.2 1016.8 L676.2 1019.7 L678.2 1022.7 L680.2 1024.5 L682.2 1029.8 L684.2 1029.1 L686.2 1033.4 L688.2 1036.7 L690.2 1036.9 L692.2 1040.4 L694.2 1042.1 L696.2 1044.1 L698.2 1046.4 L700.2 1048.6 L702.2 1053.4 L704.2 1055.6 L706.2 1058.3 L708.2 1057.8 L710.2 1062.1 L712.2 1063.1 L714.2 1066.2 L716.2 1068.0 L718.2 1069.3 L720.2 1073.4 L722.2 1072.3 L724.2 1076.7 L726.2 1079.0 L728.2 1079.9 L730.2 1082.2 L732.2 1085.4 L734.2 1084.9 L736.2 1088.1 L738.2 1090.3 L740.2 1091.0 L742.2 1093.9 L744.2 1094.7 L746.2 1096.9 L748.2 1099.0 L750.2 1100.9 L752.2 1101.5 L754.3 1104.3 L756.3 1105.7 L758.3 1106.5 L760.3 1109.5 L762.3 1110.1 L764.3 1113.9 L766.3 1114.3 L768.3 1116.8 L770.3 1117.9 L772.3 1119.5 L774.3 1120.5 L776.3 1122.0 L778.3 1126.2 L780.3 1126.7 L782.3 1128.4 L784.3 1130.2 L786.3 1132.8 L788.3 1132.7 L790.3 1134.1 L792.3 1137.8 L794.3 1138.2 L796.3 1140.3 L798.3 1142.4 L800.3 1144.0 L802.3 1145.3 L804.3 1144.0 L806.3 1146.4 L808.3 1149.1 L810.3 1150.3 L812.3 1149.4 L814.3 1150.7 L816.3 1152.2 L818.3 1152.9 L820.3 1154.9 L822.3 1157.5 L824.3 1157.8 L826.3 1158.7 L828.3 1158.7 L830.3 1160.8 L832.3 1163.8 L834.3 1163.9 L836.3 1164.2 L838.3 1165.3 L840.3 1167.4 L842.3 1168.3 L844.3 1167.3 L846.3 1170.0 L848.3 1170.0 L850.3 1171.4 L852.3 1171.5 L854.3 1172.8 L856.3 1173.6 L858.3 1174.6 L860.3 1174.3 L862.3 1175.8 L864.3 1177.8 L866.3 1177.0 L868.3 1178.2 L870.3 1180.8 L872.3 1180.1 L874.3 1181.1 L876.3 1181.6 L878.3 1184.3 L880.3 1182.8 L882.3 1185.3 L884.3 1186.8 L886.3 1185.5 L888.3 1187.0 L890.3 1189.0 L892.3 1189.2 L894.3 1189.2 L896.3 1188.9 L898.3 1190.9 L900.3 1191.3 L902.3 1193.2 L904.3 1192.5 L906.3 1193.6 L908.3 1195.0 L910.3 1196.2 L912.3 1195.4 L914.3 1196.2 L916.3 1197.5 L918.3 1199.3 L920.3 1197.7 L922.3 1200.9 L924.3 1200.8 L926.3 1200.4 L928.3 1202.1 L930.3 1201.8 L932.3 1201.7 L934.3 1204.7 L936.3 1204.3 L938.4 1205.5 L940.4 1206.2 L942.4 1208.3 L944.4 1208.7 L946.4 1207.1 L948.4 1209.7 L950.4 1210.0 L952.4 1210.8 L954.4 1212.7 L956.4 1212.0 L958.4 1212.9 L960.4 1214.9 L962.4 1214.1 L964.4 1215.0 L966.4 1215.7 L968.4 1217.4 L970.4 1217.6 L972.4 1218.5 L974.4 1218.1 L976.4 1217.7 L978.4 1220.4 L980.4 1220.6 L982.4 1222.0 L984.4 1222.6 L986.4 1221.2 L988.4 1222.1 L990.4 1222.3 L992.4 1225.2 L994.4 1223.5 L996.4 1224.0 L998.4 1226.6 L1000.4 1226.5 L1002.4 1225.3 L1004.4 1227.8 L1006.4 1228.3 L1008.4 1228.0 L1010.4 1227.0 L1012.4 1229.5 L1014.4 1229.0 L1016.4 1229.9 L1018.4 1231.7 L1020.4 1231.5 L1022.4 1232.1 L1024.4 1230.1 L1026.4 1231.1 L1028.4 1232.1 L1030.4 1230.9 L1032.4 1234.4 L1034.4 1232.5 L1036.4 1232.8 L1038.4 1233.4 L1040.4 1233.5 L1042.4 1235.8 L1044.4 1235.1 L1046.4 1235.3 L1048.4 1235.3 L1050.4 1234.4 L1052.4 1235.4 L1054.4 1237.5 L1056.4 1237.6 L1058.4 1238.0 L1060.4 1236.3 L1062.4 1236.4 L1064.4 1236.2 L1066.4 1238.0 L1068.4 1237.7 L1070.4 1238.3 L1072.4 1238.6 L1074.4 1239.2 L1076.4 1238.7 L1078.4 1240.4 L1080.4 1238.7 L1082.4 1241.3 L1084.4 1240.4 L1086.4 1239.0 L1088.4 1240.1 L1090.4 1241.0 L1092.4 1240.9 L1094.4 1241.6 L1096.4 1241.1 L1098.4 1241.1 L1100.4 1243.0 L1102.4 1241.6 L1104.4 1243.2 L1106.4 1243.7 L1108.4 1243.2 L1110.4 1243.0 L1112.4 1244.7 L1114.4 1243.3 L1116.4 1244.9 L1118.4 1242.5 L1120.5 1243.9 L1122.5 1244.8 L1124.5 1243.1 L1126.5 1245.9 L1128.5 1243.6 L1130.5 1245.4 L1132.5 1244.3 L1134.5 1246.9 L1136.5 1245.9 L1138.5 1246.9 L1140.5 1246.1 L1142.5 1246.8 L1144.5 1247.0 L1146.5 1246.0 L1148.5 1245.9 L1150.5 1248.0 L1152.5 1246.0 L1154.5 1248.6 L1156.5 1246.5 L1158.5 1246.3 L1160.5 1246.4 L1162.5 1248.8 L1164.5 1249.4 L1166.5 1247.9 L1168.5 1248.8 L1170.5 1247.6 L1172.5 1249.8 L1174.5 1249.3 L1176.5 1247.7 L1178.5 1247.5 L1180.5 1249.7 L1182.5 1247.7 L1184.5 1250.4 L1186.5 1248.8 L1188.5 1248.7 L1190.5 1250.0 L1192.5 1249.3 L1194.5 1250.2 L1196.5 1249.0 L1198.5 1251.5 L1200.5 1249.8 L1202.5 1251.5 L1204.5 1249.5 L1206.5 1251.6 L1208.5 1252.3 L1210.5 1250.6 L1212.5 1249.5 L1214.5 1250.7 L1216.5 1251.7 L1218.5 1250.5 L1220.5 1251.6 L1222.5 1250.3 L1224.5 1251.6 L1226.5 1252.5 L1228.5 1251.7 L1230.5 1252.6 L1232.5 1250.9 L1234.5 1253.3 L1236.5 1251.2 L1238.5 1253.9 L1240.5 1254.3 L1242.5 1254.2 L1244.5 1253.1 L1246.5 1252.5 L1248.5 1252.8 L1250.5 1254.3 L1252.5 1253.6 L1254.5 1255.2 L1256.5 1252.7 L1258.5 1254.1 L1260.5 1255.5 L1262.5 1254.8 L1264.5 1254.8 L1266.5 1253.5 L1268.5 1253.8 L1270.5 1254.4 L1272.5 1256.5 L1274.5 1256.5 L1276.5 1254.7 L1278.5 1257.1 L1280.5 1254.4 L1282.5 1256.3 L1284.5 1257.6 L1286.5 1255.8 L1288.5 1257.8 L1290.5 1257.0 L1292.5 1255.2 L1294.5 1256.3 L1296.5 1256.8 L1298.5 1256.2 L1300.5 1257.9 L1302.5 1256.2 L1304.6 1258.3 L1306.6 1256.8 L1308.6 1256.2 L1310.6 1257.9 L1312.6 1256.5 L1314.6 1258.1 L1316.6 1258.9 L1318.6 1258.4 L1320.6 1258.1 L1322.6 1256.8 L1324.6 1258.4 L1326.6 1257.2 L1328.6 1259.0 L1330.6 1257.5 L1332.6 1259.0 L1334.6 1258.4 L1336.6 1258.5 L1338.6 1259.5 L1340.6 1258.0 L1342.6 1258.1 L1344.6 1260.7 L1346.6 1258.8 L1348.6 1260.6 L1350.6 1260.8 L1352.6 1259.6 L1354.6 1258.6 L1356.6 1258.5 L1358.6 1261.1 L1360.6 1258.8 L1362.6 1260.1 L1364.6 1260.3 L1366.6 1259.0 L1368.6 1260.2 L1370.6 1259.4 L1372.6 1260.6 L1374.6 1260.6 L1376.6 1260.3 L1378.6 1259.8 L1380.6 1260.5 L1382.6 1260.0 L1384.6 1259.8 L1386.6 1260.2 L1388.6 1262.3 L1390.6 1261.2 L1392.6 1262.5 L1394.6 1259.8 L1396.6 1262.8 L1398.6 1261.4 L1400.6 1262.5 L1402.6 1261.8 L1404.6 1262.3 L1406.6 1260.8 L1408.6 1262.6 L1410.6 1260.7 L1412.6 1261.1 L1414.6 1260.4 L1416.6 1261.6 L1418.6 1262.1 L1420.6 1261.4 L1422.6 1263.3 L1424.6 1260.8 L1426.6 1262.4 L1428.6 1261.4 L1430.6 1262.6 L1432.6 1263.2 L1434.6 1263.0 L1436.6 1261.0 L1438.6 1261.6 L1440.6 1262.7 L1442.6 1264.0 L1444.6 1261.0 L1446.6 1262.9 L1448.6 1263.2 L1450.6 1263.6 L1452.6 1262.1 L1454.6 1263.7 L1456.6 1262.6 L1458.6 1264.1 L1460.6 1261.2 L1462.6 1264.2 L1464.6 1262.5 L1466.6 1262.5 L1468.6 1261.6 L1470.6 1262.1 L1472.6 1263.7 L1474.6 1263.5 L1476.6 1261.9 L1478.6 1262.5 L1480.6 1261.9 L1482.6 1262.1 L1484.6 1262.2 L1486.6 1262.6 L1488.7 1264.7 L1490.7 1264.8 L1492.7 1264.1 L1494.7 1263.2 L1496.7 1263.2 L1498.7 1264.2 L1500.7 1264.6 L1502.7 1264.1 L1504.7 1263.8 L1506.7 1262.4 L1508.7 1263.8 L1510.7 1264.5 L1512.7 1264.4 L1514.7 1262.2 L1516.7 1264.2 L1518.7 1263.1 L1520.7 1262.5 L1522.7 1265.1 L1524.7 1264.2 L1526.7 1264.4 L1528.7 1262.5 L1530.7 1264.7 L1532.7 1265.1 L1534.7 1265.0 L1536.7 1264.5 L1538.7 1264.8 L1540.7 1264.8 L1542.7 1264.1 L1544.7 1263.6 L1546.7 1264.9 L1548.7 1264.8 L1550.7 1265.1 L1552.7 1263.3 L1554.7 1265.5 L1556.7 1264.1 L1558.7 1265.5 L1560.7 1262.8 L1562.7 1265.6 L1564.7 1265.0 L1566.7 1263.3 L1568.7 1265.2 L1570.7 1263.3 L1572.7 1263.2 L1574.7 1264.1 L1576.7 1263.4 L1578.7 1264.2 L1580.7 1265.6 L1582.7 1264.9 L1584.7 1265.0 L1586.7 1264.0 L1588.7 1265.3 L1590.7 1265.3 L1592.7 1265.0 L1594.7 1265.9 L1596.7 1265.5 L1598.7 1264.2 L1600.7 1263.2 L1602.7 1265.0 L1604.7 1265.6 L1606.7 1264.1 L1608.7 1264.9 L1610.7 1265.7 L1612.7 1265.6 L1614.7 1263.1 L1616.7 1264.7 L1618.7 1263.2 L1620.7 1263.5 L1622.7 1265.8 L1624.7 1264.5 L1626.7 1265.1 L1628.7 1264.7 L1630.7 1264.3 L1632.7 1263.9 L1634.7 1264.4 L1636.7 1266.0 L1638.7 1265.3 L1640.7 1264.3 L1642.7 1263.6 L1644.7 1264.3 L1646.7 1265.7 L1648.7 1264.8 L1650.7 1265.6 L1652.7 1266.1 L1654.7 1263.9 L1656.7 1265.7 L1658.7 1263.7 L1660.7 1266.2 L1662.7 1264.2 L1664.7 1264.5 L1666.7 1266.7 L1668.7 1264.8 L1670.8 1264.4 L1672.8 1266.5 L1674.8 1265.6 L1676.8 1266.6 L1678.8 1265.0 L1680.8 1265.3 L1682.8 1266.8 L1684.8 1265.4 L1686.8 1266.9 L1688.8 1264.4 L1690.8 1266.5 L1692.8 1264.4 L1694.8 1265.5 L1696.8 1263.9 L1698.8 1264.4 L1700.8 1266.9 L1702.8 1265.4 L1704.8 1266.5 L1706.8 1264.8 L1708.8 1265.1 L1710.8 1264.3 L1712.8 1265.8 L1714.8 1266.8 L1716.8 1265.7 L1718.8 1265.3 L1720.8 1267.0 L1722.8 1266.9 L1724.8 1266.2 L1726.8 1264.4 L1728.8 1266.1 L1730.8 1265.6 L1732.8 1267.2 L1734.8 1265.3 L1736.8 1266.3 L1738.8 1266.2 L1740.8 1265.4 L1742.8 1265.9 L1744.8 1266.4 L1746.8 1267.2 L1748.8 1265.9 L1750.8 1265.5 L1752.8 1267.5 L1754.8 1264.5 L1756.8 1267.0 L1758.8 1266.6 L1760.8 1266.2 L1762.8 1265.9 L1764.8 1266.8 L1766.8 1267.3 L1768.8 1266.8 L1770.8 1266.9 L1772.8 1264.6 L1774.8 1265.6 L1776.8 1265.0 L1778.8 1267.6 L1780.8 1267.4 L1782.8 1265.0 L1784.8 1266.5 L1786.8 1266.5 L1788.8 1264.8 L1790.8 1265.9 L1792.8 1267.0 L1794.8 1266.7 L1796.8 1265.6 L1798.8 1267.1 L1800.8 1265.6 L1802.8 1266.5 L1804.8 1266.1 L1806.8 1267.9 L1808.8 1266.9 L1810.8 1267.4 L1812.8 1267.0 L1814.8 1266.0 L1816.8 1267.9 L1818.8 1267.1 L1820.8 1267.1 L1822.8 1265.8 L1824.8 1265.4 L1826.8 1266.8 L1828.8 1267.6 L1830.8 1267.5 L1832.8 1266.1 L1834.8 1265.4 L1836.8 1266.6 L1838.8 1267.8 L1840.8 1265.5 L1842.8 1267.4 L1844.8 1265.6 L1846.8 1266.1 L1848.8 1265.2 L1850.8 1266.0 L1852.8 1266.3 L1854.9 1268.2 L1856.9 1268.2 L1858.9 1265.7 L1860.9 1266.1 L1862.9 1268.2 L1864.9 1265.8 L1866.9 1266.2 L1868.9 1266.6 L1870.9 1265.6 L1872.9 1266.1 L1874.9 1266.5 L1876.9 1266.5 L1878.9 1268.4 L1880.9 1266.1 L1882.9 1265.9 L1884.9 1268.2 L1886.9 1266.8 L1888.9 1268.0 L1890.9 1267.4 L1892.9 1267.8 L1894.9 1266.4 L1896.9 1265.9 L1898.9 1267.8 L1900.9 1266.9 L1902.9 1267.2 L1904.9 1267.6 L1906.9 1267.8 L1908.9 1266.3 L1910.9 1266.6 L1912.9 1268.4 L1914.9 1267.2 L1916.9 1266.4 L1918.9 1267.5 L1920.9 1266.3 L1922.9 1268.0 L1924.9 1265.7 L1926.9 1268.2 L1928.9 1267.4 L1930.9 1266.7 L1932.9 1268.6 L1934.9 1266.4 L1936.9 1266.4 L1938.9 1265.8 L1940.9 1267.4 L1942.9 1268.0 L1944.9 1267.8 L1946.9 1267.0 L1948.9 1268.2 L1950.9 1266.0 L1952.9 1266.7 L1954.9 1267.7 L1956.9 1268.8 L1958.9 1267.7 L1960.9 1267.9 L1962.9 1268.2 L1964.9 1267.0 L1966.9 1268.7 L1968.9 1268.1 L1970.9 1266.8 L1972.9 1267.0 L1974.9 1268.4 L1976.9 1266.9 L1978.9 1266.4 L1980.9 1268.6 L1982.9 1267.5 L1984.9 1267.5 L1986.9 1268.0 L1988.9 1268.7 L1990.9 1266.3 L1992.9 1266.9 L1994.9 1266.1 L1996.9 1267.2 L1998.9 1267.5 L2000.9 1268.6 L2002.9 1268.0 L2004.9 1267.8 L2006.9 1267.2 L2008.9 1267.8 L2010.9 1266.8 L2012.9 1268.6 L2014.9 1268.5 L2016.9 1268.6 L2018.9 1266.4 L2020.9 1268.1 L2022.9 1268.4 L2024.9 1267.6 L2026.9 1268.9 L2028.9 1268.9 L2030.9 1268.4 L2032.9 1268.6 L2034.9 1268.1 L2037.0 1268.8 L2039.0 1266.5 L2041.0 1268.3 L2043.0 1268.3 L2045.0 1268.0 L2047.0 1267.0 L2049.0 1266.3 L2051.0 1268.0 L2053.0 1268.7 L2055.0 1267.0 L2057.0 1266.8 L2059.0 1266.8 L2061.0 1266.4 L2063.0 1268.3 L2065.0 1269.3 L2067.0 1268.7 L2069.0 1267.3 L2071.0 1268.4 L2073.0 1266.4 L2075.0 1268.9 L2077.0 1267.2 L2079.0 1266.2 L2081.0 1268.2 L2083.0 1266.7 L2085.0 1267.1 L2087.0 1266.4 L2089.0 1267.7 L2091.0 1268.0 L2093.0 1268.8 L2095.0 1266.4 L2097.0 1268.9 L2099.0 1266.6 L2101.0 1267.0 L2103.0 1268.3 L2105.0 1267.4 L2107.0 1267.4 L2109.0 1268.1 L2111.0 1267.0 L2113.0 1268.9 L2115.0 1267.0 L2117.0 1269.0 L2119.0 1269.0 L2121.0 1268.1 L2123.0 1266.5 L2125.0 1268.9 L2127.0 1266.5 L2128.0 1268.0" fill="none" stroke="#f4a8a8" stroke-width="8.5" stroke-linejoin="round" opacity="0.75"/><path d="M90.7 1269.0 L92.7 1269.0 L94.7 1268.8 L96.7 1268.2 L98.7 1269.2 L100.7 1269.3 L102.7 1269.0 L104.7 1268.7 L106.7 1268.9 L108.7 1269.0 L110.7 1268.3 L112.7 1269.5 L114.7 1269.7 L116.7 1269.3 L118.7 1269.6 L120.7 1268.4 L122.7 1269.5 L124.7 1267.9 L126.7 1268.5 L128.7 1267.9 L130.7 1268.4 L132.7 1268.7 L134.7 1268.7 L136.7 1268.1 L138.7 1267.8 L140.7 1267.4 L142.7 1267.6 L144.7 1267.3 L146.7 1266.9 L148.7 1267.7 L150.7 1267.1 L152.7 1266.8 L154.7 1266.2 L156.7 1267.0 L158.7 1265.9 L160.7 1265.9 L162.8 1266.3 L164.8 1266.5 L166.8 1266.9 L168.8 1266.4 L170.8 1266.7 L172.8 1266.5 L174.8 1266.1 L176.8 1266.0 L178.8 1264.8 L180.8 1265.0 L182.8 1264.5 L184.8 1265.9 L186.8 1265.6 L188.8 1265.3 L190.8 1264.4 L192.8 1264.4 L194.8 1263.8 L196.8 1264.3 L198.8 1264.6 L200.8 1263.0 L202.8 1262.0 L204.8 1261.7 L206.8 1261.4 L208.8 1261.8 L210.8 1260.9 L212.8 1259.7 L214.8 1258.4 L216.8 1257.7 L218.8 1257.1 L220.8 1257.6 L222.8 1256.3 L224.8 1256.6 L226.8 1255.8 L228.8 1255.0 L230.8 1253.7 L232.8 1253.7 L234.8 1251.9 L236.8 1251.2 L238.8 1251.4 L240.8 1250.7 L242.8 1249.6 L244.8 1249.0 L246.8 1248.0 L248.8 1249.0 L250.8 1248.0 L252.8 1247.7 L254.8 1247.2 L256.8 1245.6 L258.8 1245.7 L260.8 1244.6 L262.8 1245.1 L264.8 1244.9 L266.8 1243.5 L268.8 1243.3 L270.8 1243.6 L272.8 1244.3 L274.8 1244.0 L276.8 1243.4 L278.8 1244.9 L280.8 1244.8 L282.8 1244.2 L284.8 1243.5 L286.8 1245.0 L288.8 1244.4 L290.8 1243.5 L292.8 1244.0 L294.8 1244.5 L296.8 1244.9 L298.8 1244.2 L300.8 1244.4 L302.9 1243.6 L304.9 1243.6 L306.9 1244.7 L308.9 1243.7 L310.9 1243.1 L312.9 1244.0 L314.9 1243.1 L316.9 1243.2 L318.9 1243.6 L320.9 1243.7 L322.9 1243.6 L324.9 1243.5 L326.9 1242.6 L328.9 1241.4 L330.9 1241.8 L332.9 1239.8 L334.9 1239.6 L336.9 1238.5 L338.9 1238.1 L340.9 1237.2 L342.9 1235.4 L344.9 1235.1 L346.9 1234.0 L348.9 1232.3 L350.9 1230.4 L352.9 1230.2 L354.9 1228.0 L356.9 1225.4 L358.9 1223.9 L360.9 1223.4 L362.9 1220.2 L364.9 1218.5 L366.9 1217.2 L368.9 1215.2 L370.9 1212.7 L372.9 1210.7 L374.9 1207.2 L376.9 1205.1 L378.9 1204.5 L380.9 1202.1 L382.9 1198.7 L384.9 1196.9 L386.9 1195.4 L388.9 1194.9 L390.9 1191.9 L392.9 1190.9 L394.9 1189.4 L396.9 1186.7 L398.9 1184.9 L400.9 1181.4 L402.9 1178.8 L404.9 1176.2 L406.9 1175.3 L408.9 1172.0 L410.9 1171.6 L412.9 1169.2 L414.9 1166.6 L416.9 1166.1 L418.9 1163.4 L420.9 1162.6 L422.9 1160.4 L424.9 1160.3 L426.9 1159.0 L428.9 1157.7 L430.9 1154.7 L432.9 1154.9 L434.9 1153.2 L436.9 1152.5 L438.9 1150.9 L440.9 1150.1 L442.9 1149.1 L445.0 1148.5 L447.0 1146.2 L449.0 1145.1 L451.0 1145.0 L453.0 1143.4 L455.0 1142.4 L457.0 1140.4 L459.0 1140.4 L461.0 1137.8 L463.0 1137.9 L465.0 1136.7 L467.0 1134.9 L469.0 1133.1 L471.0 1132.9 L473.0 1130.9 L475.0 1130.0 L477.0 1128.0 L479.0 1128.1 L481.0 1125.7 L483.0 1123.8 L485.0 1121.7 L487.0 1121.1 L489.0 1119.6 L491.0 1117.8 L493.0 1114.7 L495.0 1113.3 L497.0 1111.3 L499.0 1110.2 L501.0 1107.1 L503.0 1105.9 L505.0 1104.5 L507.0 1102.1 L509.0 1098.7 L511.0 1096.9 L513.0 1095.0 L515.0 1094.2 L517.0 1092.1 L519.0 1090.2 L521.0 1088.3 L523.0 1086.4 L525.0 1085.0 L527.0 1083.2 L529.0 1081.8 L531.0 1079.5 L533.0 1077.7 L535.0 1075.8 L537.0 1073.6 L539.0 1071.3 L541.0 1067.9 L543.0 1066.9 L545.0 1064.9 L547.0 1061.9 L549.0 1060.3 L551.0 1056.7 L553.0 1055.8 L555.0 1052.6 L557.0 1050.9 L559.0 1048.0 L561.0 1046.1 L563.0 1044.3 L565.0 1042.5 L567.0 1040.3 L569.0 1039.3 L571.0 1038.7 L573.0 1036.6 L575.0 1035.8 L577.0 1034.2 L579.0 1033.2 L581.0 1032.5 L583.0 1031.1 L585.1 1029.3 L587.1 1028.5 L589.1 1028.0 L591.1 1026.5 L593.1 1026.0 L595.1 1026.4 L597.1 1025.7 L599.1 1023.9 L601.1 1023.9 L603.1 1023.2 L605.1 1022.6 L607.1 1021.6 L609.1 1020.3 L611.1 1018.6 L613.1 1018.9 L615.1 1017.0 L617.1 1016.5 L619.1 1015.0 L621.1 1014.2 L623.1 1013.8 L625.1 1011.2 L627.1 1010.6 L629.1 1009.6 L631.1 1008.1 L633.1 1007.4 L635.1 1005.1 L637.1 1004.5 L639.1 1002.5 L641.1 1001.3 L643.1 998.0 L645.1 996.4 L647.1 994.4 L649.1 993.1 L651.1 988.4 L653.1 984.2 L655.1 978.7 L656.5 955.0 L657.6 942.4 L660.0 942.4 L662.2 1000.9 L662.2 1001.0 L664.2 1004.6 L666.2 1008.1 L668.2 1009.1 L670.2 1011.8 L672.2 1014.7 L674.2 1017.5 L676.2 1020.5 L678.2 1023.4 L680.2 1025.2 L682.2 1027.8 L684.2 1029.8 L686.2 1033.4 L688.2 1034.8 L690.2 1037.2 L692.2 1040.9 L694.2 1042.7 L696.2 1045.1 L698.2 1047.7 L700.2 1050.0 L702.2 1052.6 L704.2 1054.3 L706.2 1056.2 L708.2 1058.5 L710.2 1060.6 L712.2 1063.4 L714.2 1065.1 L716.2 1067.2 L718.2 1069.9 L720.2 1072.8 L722.2 1074.3 L724.2 1075.5 L726.2 1078.4 L728.2 1079.3 L730.2 1081.1 L732.2 1083.5 L734.2 1085.6 L736.2 1088.0 L738.2 1089.4 L740.2 1091.8 L742.2 1092.5 L744.2 1095.8 L746.2 1096.5 L748.2 1099.2 L750.2 1099.5 L752.2 1102.7 L754.3 1103.4 L756.3 1106.2 L758.3 1107.9 L760.3 1109.4 L762.3 1110.5 L764.3 1111.7 L766.3 1113.8 L768.3 1116.8 L770.3 1117.3 L772.3 1119.9 L774.3 1121.5 L776.3 1123.4 L778.3 1124.3 L780.3 1126.0 L782.3 1127.6 L784.3 1131.0 L786.3 1131.6 L788.3 1133.8 L790.3 1135.3 L792.3 1136.3 L794.3 1137.6 L796.3 1139.0 L798.3 1142.0 L800.3 1142.1 L802.3 1145.0 L804.3 1145.2 L806.3 1147.2 L808.3 1147.4 L810.3 1149.8 L812.3 1150.1 L814.3 1151.6 L816.3 1153.1 L818.3 1153.5 L820.3 1154.9 L822.3 1157.1 L824.3 1157.3 L826.3 1158.7 L828.3 1160.5 L830.3 1160.6 L832.3 1161.7 L834.3 1162.8 L836.3 1164.1 L838.3 1165.2 L840.3 1166.7 L842.3 1167.4 L844.3 1169.1 L846.3 1168.6 L848.3 1170.7 L850.3 1172.0 L852.3 1171.8 L854.3 1172.4 L856.3 1174.0 L858.3 1174.3 L860.3 1175.8 L862.3 1177.1 L864.3 1176.9 L866.3 1177.7 L868.3 1179.2 L870.3 1179.5 L872.3 1180.4 L874.3 1181.6 L876.3 1181.8 L878.3 1182.5 L880.3 1183.8 L882.3 1184.8 L884.3 1186.5 L886.3 1186.6 L888.3 1186.5 L890.3 1187.6 L892.3 1189.3 L894.3 1189.7 L896.3 1191.0 L898.3 1191.9 L900.3 1192.4 L902.3 1191.8 L904.3 1194.0 L906.3 1193.9 L908.3 1194.1 L910.3 1194.6 L912.3 1196.6 L914.3 1196.1 L916.3 1196.5 L918.3 1197.6 L920.3 1199.4 L922.3 1199.3 L924.3 1200.5 L926.3 1200.0 L928.3 1201.5 L930.3 1202.0 L932.3 1202.5 L934.3 1204.1 L936.3 1204.4 L938.4 1204.8 L940.4 1207.1 L942.4 1207.0 L944.4 1207.3 L946.4 1207.8 L948.4 1209.7 L950.4 1210.2 L952.4 1210.0 L954.4 1211.5 L956.4 1212.7 L958.4 1213.0 L960.4 1213.2 L962.4 1214.3 L964.4 1215.2 L966.4 1216.0 L968.4 1215.7 L970.4 1217.6 L972.4 1218.6 L974.4 1218.9 L976.4 1219.8 L978.4 1219.6 L980.4 1221.2 L982.4 1220.6 L984.4 1221.3 L986.4 1222.6 L988.4 1223.8 L990.4 1222.9 L992.4 1223.7 L994.4 1223.9 L996.4 1225.2 L998.4 1225.2 L1000.4 1225.7 L1002.4 1227.2 L1004.4 1227.4 L1006.4 1228.4 L1008.4 1227.9 L1010.4 1228.8 L1012.4 1228.0 L1014.4 1230.1 L1016.4 1229.2 L1018.4 1230.0 L1020.4 1230.5 L1022.4 1231.7 L1024.4 1231.3 L1026.4 1232.6 L1028.4 1232.3 L1030.4 1232.0 L1032.4 1233.5 L1034.4 1232.7 L1036.4 1234.5 L1038.4 1233.9 L1040.4 1233.8 L1042.4 1235.4 L1044.4 1234.6 L1046.4 1235.1 L1048.4 1235.2 L1050.4 1236.1 L1052.4 1235.2 L1054.4 1236.1 L1056.4 1236.0 L1058.4 1237.4 L1060.4 1236.2 L1062.4 1237.6 L1064.4 1237.2 L1066.4 1237.8 L1068.4 1238.3 L1070.4 1238.8 L1072.4 1238.0 L1074.4 1238.5 L1076.4 1238.5 L1078.4 1240.3 L1080.4 1239.1 L1082.4 1239.3 L1084.4 1240.2 L1086.4 1240.6 L1088.4 1241.4 L1090.4 1240.1 L1092.4 1240.7 L1094.4 1240.8 L1096.4 1241.8 L1098.4 1241.8 L1100.4 1241.9 L1102.4 1243.0 L1104.4 1242.8 L1106.4 1243.4 L1108.4 1243.7 L1110.4 1242.7 L1112.4 1244.1 L1114.4 1243.4 L1116.4 1242.9 L1118.4 1244.7 L1120.5 1243.4 L1122.5 1243.5 L1124.5 1244.2 L1126.5 1244.4 L1128.5 1245.8 L1130.5 1245.8 L1132.5 1245.2 L1134.5 1245.6 L1136.5 1246.4 L1138.5 1246.5 L1140.5 1246.4 L1142.5 1246.3 L1144.5 1245.8 L1146.5 1246.2 L1148.5 1247.1 L1150.5 1247.1 L1152.5 1247.7 L1154.5 1248.0 L1156.5 1248.3 L1158.5 1247.0 L1160.5 1246.9 L1162.5 1248.6 L1164.5 1248.1 L1166.5 1247.6 L1168.5 1248.6 L1170.5 1248.0 L1172.5 1248.1 L1174.5 1248.4 L1176.5 1248.8 L1178.5 1249.2 L1180.5 1248.3 L1182.5 1249.6 L1184.5 1249.5 L1186.5 1249.4 L1188.5 1249.9 L1190.5 1250.3 L1192.5 1249.0 L1194.5 1249.9 L1196.5 1250.4 L1198.5 1250.6 L1200.5 1250.6 L1202.5 1249.9 L1204.5 1251.4 L1206.5 1251.2 L1208.5 1250.3 L1210.5 1250.8 L1212.5 1251.8 L1214.5 1250.6 L1216.5 1251.1 L1218.5 1252.2 L1220.5 1252.2 L1222.5 1251.1 L1224.5 1252.1 L1226.5 1251.5 L1228.5 1252.2 L1230.5 1252.5 L1232.5 1251.5 L1234.5 1251.8 L1236.5 1251.9 L1238.5 1252.1 L1240.5 1251.8 L1242.5 1252.2 L1244.5 1252.8 L1246.5 1253.0 L1248.5 1252.5 L1250.5 1253.6 L1252.5 1254.4 L1254.5 1253.9 L1256.5 1253.7 L1258.5 1254.5 L1260.5 1254.2 L1262.5 1253.9 L1264.5 1254.6 L1266.5 1253.9 L1268.5 1255.3 L1270.5 1254.5 L1272.5 1255.0 L1274.5 1256.3 L1276.5 1256.0 L1278.5 1256.3 L1280.5 1256.1 L1282.5 1256.2 L1284.5 1256.5 L1286.5 1257.1 L1288.5 1255.9 L1290.5 1257.0 L1292.5 1256.3 L1294.5 1256.4 L1296.5 1257.5 L1298.5 1257.2 L1300.5 1257.8 L1302.5 1257.9 L1304.6 1257.5 L1306.6 1256.9 L1308.6 1256.7 L1310.6 1257.8 L1312.6 1258.2 L1314.6 1257.5 L1316.6 1257.2 L1318.6 1257.2 L1320.6 1257.6 L1322.6 1258.6 L1324.6 1257.5 L1326.6 1258.0 L1328.6 1258.1 L1330.6 1259.0 L1332.6 1259.6 L1334.6 1258.0 L1336.6 1258.2 L1338.6 1259.8 L1340.6 1260.0 L1342.6 1258.6 L1344.6 1259.0 L1346.6 1259.4 L1348.6 1259.1 L1350.6 1259.4 L1352.6 1259.6 L1354.6 1259.3 L1356.6 1259.0 L1358.6 1259.2 L1360.6 1259.4 L1362.6 1259.4 L1364.6 1260.4 L1366.6 1260.6 L1368.6 1259.9 L1370.6 1261.0 L1372.6 1260.9 L1374.6 1260.3 L1376.6 1260.7 L1378.6 1260.2 L1380.6 1261.6 L1382.6 1261.0 L1384.6 1260.2 L1386.6 1260.4 L1388.6 1261.5 L1390.6 1261.0 L1392.6 1261.7 L1394.6 1260.9 L1396.6 1262.0 L1398.6 1262.0 L1400.6 1260.8 L1402.6 1261.8 L1404.6 1261.1 L1406.6 1262.1 L1408.6 1262.3 L1410.6 1262.3 L1412.6 1261.4 L1414.6 1261.2 L1416.6 1262.3 L1418.6 1262.1 L1420.6 1261.4 L1422.6 1261.5 L1424.6 1262.3 L1426.6 1261.5 L1428.6 1262.4 L1430.6 1261.8 L1432.6 1261.8 L1434.6 1262.2 L1436.6 1262.4 L1438.6 1262.8 L1440.6 1261.6 L1442.6 1262.9 L1444.6 1262.0 L1446.6 1262.2 L1448.6 1262.8 L1450.6 1262.9 L1452.6 1262.8 L1454.6 1263.4 L1456.6 1262.2 L1458.6 1262.4 L1460.6 1263.0 L1462.6 1262.4 L1464.6 1262.2 L1466.6 1262.4 L1468.6 1263.4 L1470.6 1263.5 L1472.6 1263.3 L1474.6 1263.8 L1476.6 1263.5 L1478.6 1262.7 L1480.6 1262.7 L1482.6 1263.5 L1484.6 1262.3 L1486.6 1263.3 L1488.7 1262.4 L1490.7 1262.4 L1492.7 1263.2 L1494.7 1262.6 L1496.7 1264.0 L1498.7 1264.0 L1500.7 1263.2 L1502.7 1262.8 L1504.7 1262.7 L1506.7 1263.4 L1508.7 1263.4 L1510.7 1263.2 L1512.7 1263.8 L1514.7 1263.5 L1516.7 1264.0 L1518.7 1262.8 L1520.7 1262.8 L1522.7 1263.4 L1524.7 1263.6 L1526.7 1263.2 L1528.7 1264.0 L1530.7 1263.2 L1532.7 1263.4 L1534.7 1263.7 L1536.7 1264.1 L1538.7 1264.3 L1540.7 1263.6 L1542.7 1263.7 L1544.7 1264.6 L1546.7 1264.7 L1548.7 1264.1 L1550.7 1263.2 L1552.7 1263.9 L1554.7 1264.2 L1556.7 1263.6 L1558.7 1263.2 L1560.7 1264.9 L1562.7 1264.8 L1564.7 1263.4 L1566.7 1264.1 L1568.7 1264.4 L1570.7 1263.8 L1572.7 1263.4 L1574.7 1264.7 L1576.7 1264.7 L1578.7 1264.1 L1580.7 1263.5 L1582.7 1264.1 L1584.7 1263.6 L1586.7 1265.2 L1588.7 1263.6 L1590.7 1264.0 L1592.7 1264.9 L1594.7 1263.8 L1596.7 1263.8 L1598.7 1263.7 L1600.7 1263.9 L1602.7 1264.6 L1604.7 1265.2 L1606.7 1264.0 L1608.7 1264.0 L1610.7 1265.1 L1612.7 1264.5 L1614.7 1264.4 L1616.7 1264.0 L1618.7 1264.2 L1620.7 1265.6 L1622.7 1264.1 L1624.7 1264.3 L1626.7 1265.2 L1628.7 1265.5 L1630.7 1265.6 L1632.7 1264.8 L1634.7 1265.7 L1636.7 1265.1 L1638.7 1264.5 L1640.7 1264.9 L1642.7 1265.4 L1644.7 1265.4 L1646.7 1264.3 L1648.7 1264.5 L1650.7 1265.9 L1652.7 1264.4 L1654.7 1265.7 L1656.7 1264.8 L1658.7 1264.7 L1660.7 1264.7 L1662.7 1265.1 L1664.7 1266.1 L1666.7 1264.6 L1668.7 1265.9 L1670.8 1264.9 L1672.8 1264.7 L1674.8 1265.7 L1676.8 1265.0 L1678.8 1264.8 L1680.8 1265.2 L1682.8 1265.9 L1684.8 1266.0 L1686.8 1265.5 L1688.8 1264.5 L1690.8 1265.9 L1692.8 1265.6 L1694.8 1266.2 L1696.8 1266.3 L1698.8 1265.2 L1700.8 1266.1 L1702.8 1266.1 L1704.8 1265.1 L1706.8 1265.3 L1708.8 1265.3 L1710.8 1265.3 L1712.8 1265.4 L1714.8 1264.9 L1716.8 1265.1 L1718.8 1266.4 L1720.8 1265.5 L1722.8 1265.9 L1724.8 1266.4 L1726.8 1266.2 L1728.8 1265.3 L1730.8 1266.5 L1732.8 1266.3 L1734.8 1266.7 L1736.8 1266.2 L1738.8 1266.3 L1740.8 1266.4 L1742.8 1265.4 L1744.8 1266.2 L1746.8 1265.7 L1748.8 1266.5 L1750.8 1265.3 L1752.8 1266.0 L1754.8 1265.7 L1756.8 1266.5 L1758.8 1265.7 L1760.8 1266.6 L1762.8 1266.6 L1764.8 1266.7 L1766.8 1265.4 L1768.8 1266.9 L1770.8 1266.5 L1772.8 1266.4 L1774.8 1266.4 L1776.8 1265.3 L1778.8 1266.8 L1780.8 1266.2 L1782.8 1266.1 L1784.8 1265.9 L1786.8 1266.7 L1788.8 1266.7 L1790.8 1266.9 L1792.8 1265.7 L1794.8 1266.0 L1796.8 1265.8 L1798.8 1265.6 L1800.8 1266.0 L1802.8 1265.5 L1804.8 1266.9 L1806.8 1265.9 L1808.8 1265.6 L1810.8 1265.6 L1812.8 1266.8 L1814.8 1265.9 L1816.8 1266.4 L1818.8 1266.3 L1820.8 1267.0 L1822.8 1267.3 L1824.8 1266.2 L1826.8 1266.8 L1828.8 1267.2 L1830.8 1266.5 L1832.8 1267.3 L1834.8 1267.0 L1836.8 1266.2 L1838.8 1267.3 L1840.8 1266.7 L1842.8 1265.9 L1844.8 1266.8 L1846.8 1267.2 L1848.8 1266.7 L1850.8 1266.7 L1852.8 1266.5 L1854.9 1267.4 L1856.9 1267.0 L1858.9 1266.2 L1860.9 1266.5 L1862.9 1266.5 L1864.9 1267.6 L1866.9 1267.1 L1868.9 1266.1 L1870.9 1267.6 L1872.9 1266.0 L1874.9 1267.0 L1876.9 1266.7 L1878.9 1267.3 L1880.9 1266.8 L1882.9 1266.2 L1884.9 1266.9 L1886.9 1267.5 L1888.9 1267.5 L1890.9 1266.7 L1892.9 1266.5 L1894.9 1267.4 L1896.9 1267.5 L1898.9 1266.5 L1900.9 1267.7 L1902.9 1267.9 L1904.9 1266.9 L1906.9 1266.8 L1908.9 1267.4 L1910.9 1267.8 L1912.9 1266.5 L1914.9 1266.7 L1916.9 1266.8 L1918.9 1267.5 L1920.9 1266.5 L1922.9 1267.2 L1924.9 1267.1 L1926.9 1267.4 L1928.9 1266.5 L1930.9 1268.0 L1932.9 1268.1 L1934.9 1267.3 L1936.9 1267.7 L1938.9 1266.6 L1940.9 1268.0 L1942.9 1267.3 L1944.9 1267.7 L1946.9 1267.9 L1948.9 1267.0 L1950.9 1268.0 L1952.9 1266.7 L1954.9 1266.4 L1956.9 1267.3 L1958.9 1268.0 L1960.9 1268.0 L1962.9 1268.1 L1964.9 1267.3 L1966.9 1268.1 L1968.9 1267.5 L1970.9 1266.7 L1972.9 1267.6 L1974.9 1267.9 L1976.9 1267.2 L1978.9 1267.6 L1980.9 1267.0 L1982.9 1267.0 L1984.9 1267.3 L1986.9 1267.5 L1988.9 1267.4 L1990.9 1266.7 L1992.9 1266.6 L1994.9 1267.2 L1996.9 1267.9 L1998.9 1267.9 L2000.9 1267.0 L2002.9 1267.1 L2004.9 1267.5 L2006.9 1266.9 L2008.9 1267.7 L2010.9 1268.3 L2012.9 1267.0 L2014.9 1267.7 L2016.9 1268.0 L2018.9 1268.0 L2020.9 1268.0 L2022.9 1268.0 L2024.9 1267.2 L2026.9 1268.2 L2028.9 1268.4 L2030.9 1266.8 L2032.9 1268.4 L2034.9 1267.5 L2037.0 1266.9 L2039.0 1266.9 L2041.0 1268.2 L2043.0 1268.0 L2045.0 1267.0 L2047.0 1267.6 L2049.0 1267.9 L2051.0 1268.6 L2053.0 1267.4 L2055.0 1268.2 L2057.0 1267.3 L2059.0 1267.2 L2061.0 1267.1 L2063.0 1267.6 L2065.0 1268.0 L2067.0 1267.4 L2069.0 1267.2 L2071.0 1267.3 L2073.0 1267.0 L2075.0 1267.2 L2077.0 1267.5 L2079.0 1267.8 L2081.0 1267.2 L2083.0 1267.8 L2085.0 1267.7 L2087.0 1268.7 L2089.0 1267.8 L2091.0 1268.7 L2093.0 1267.8 L2095.0 1267.3 L2097.0 1268.0 L2099.0 1267.2 L2101.0 1267.3 L2103.0 1267.1 L2105.0 1268.3 L2107.0 1268.8 L2109.0 1267.7 L2111.0 1267.7 L2113.0 1267.8 L2115.0 1267.7 L2117.0 1268.3 L2119.0 1267.8 L2121.0 1267.3 L2123.0 1268.6 L2125.0 1268.1 L2127.0 1267.1 L2128.0 1268.0" fill="none" stroke="#bb1d1d" stroke-width="5.6" stroke-linejoin="round"/><path d="M90.7 1269.0 L93.7 1271.2 L96.7 1270.4 L99.7 1268.0 L102.7 1269.7 L105.7 1271.6 L108.7 1268.2 L111.7 1268.4 L114.7 1267.5 L117.7 1269.1 L120.7 1269.7 L123.7 1270.1 L126.7 1271.5 L129.7 1266.2 L132.7 1267.5 L135.7 1270.5 L138.7 1270.0 L141.7 1268.5 L144.7 1268.8 L147.7 1266.4 L150.7 1270.0 L153.7 1267.2 L156.7 1266.0 L159.7 1264.4 L162.8 1263.8 L165.8 1268.6 L168.8 1267.9 L171.8 1262.8 L174.8 1264.6 L177.8 1265.5 L180.8 1265.5 L183.8 1264.5 L186.8 1267.7 L189.8 1264.0 L192.8 1264.9 L195.8 1267.0 L198.8 1264.6 L201.8 1262.9 L204.8 1261.2 L207.8 1260.6 L210.8 1261.1 L213.8 1261.2 L216.8 1256.9 L219.8 1256.6 L222.8 1255.7 L225.8 1254.5 L228.8 1257.1 L231.8 1253.7 L234.8 1251.1 L237.8 1250.5 L240.8 1252.7 L243.8 1247.6 L246.8 1250.1 L249.8 1244.8 L252.8 1245.0 L255.8 1243.2 L258.8 1247.2 L261.8 1242.4 L264.8 1242.6 L267.8 1241.3 L270.8 1242.6 L273.8 1245.7 L276.8 1245.7 L279.8 1246.9 L282.8 1247.2 L285.8 1244.6 L288.8 1247.0 L291.8 1241.7 L294.8 1247.0 L297.8 1243.8 L300.8 1242.2 L303.9 1245.7 L306.9 1246.3 L309.9 1243.2 L312.9 1241.2 L315.9 1246.1 L318.9 1245.3 L321.9 1244.1 L324.9 1246.2 L327.9 1239.5 L330.9 1238.6 L333.9 1237.7 L336.9 1235.7 L339.9 1238.6 L342.9 1236.7 L345.9 1231.8 L348.9 1230.2 L351.9 1228.2 L354.9 1228.6 L357.9 1226.4 L360.9 1225.5 L363.9 1218.8 L366.9 1219.7 L369.9 1213.1 L372.9 1209.6 L375.9 1205.4 L378.9 1201.9 L381.9 1203.6 L384.9 1200.8 L387.9 1196.4 L390.9 1190.4 L393.9 1187.6 L396.9 1184.2 L399.9 1182.0 L402.9 1180.9 L405.9 1173.1 L408.9 1172.9 L411.9 1170.9 L414.9 1164.1 L417.9 1164.4 L420.9 1164.4 L423.9 1160.9 L426.9 1158.0 L429.9 1158.7 L432.9 1154.9 L435.9 1151.5 L438.9 1150.2 L441.9 1152.2 L445.0 1150.2 L448.0 1149.1 L451.0 1145.3 L454.0 1140.9 L457.0 1139.2 L460.0 1138.5 L463.0 1138.5 L466.0 1132.4 L469.0 1135.8 L472.0 1133.9 L475.0 1130.2 L478.0 1124.8 L481.0 1127.6 L484.0 1122.7 L487.0 1121.8 L490.0 1118.5 L493.0 1116.9 L496.0 1112.0 L499.0 1112.6 L502.0 1109.6 L505.0 1106.4 L508.0 1101.4 L511.0 1096.5 L514.0 1094.0 L517.0 1090.5 L520.0 1091.8 L523.0 1088.5 L526.0 1085.7 L529.0 1083.1 L532.0 1081.3 L535.0 1076.3 L538.0 1070.8 L541.0 1070.4 L544.0 1063.9 L547.0 1062.7 L550.0 1056.3 L553.0 1057.2 L556.0 1051.5 L559.0 1047.0 L562.0 1048.3 L565.0 1040.1 L568.0 1043.0 L571.0 1039.5 L574.0 1033.4 L577.0 1035.4 L580.0 1032.5 L583.0 1033.2 L586.1 1029.9 L589.1 1027.6 L592.1 1029.7 L595.1 1023.1 L598.1 1026.4 L601.1 1020.9 L604.1 1020.9 L607.1 1018.6 L610.1 1022.1 L613.1 1018.0 L616.1 1018.3 L619.1 1013.7 L622.1 1015.0 L625.1 1012.7 L628.1 1007.4 L631.1 1008.0 L634.1 1007.4 L637.1 1001.9 L640.1 1002.3 L643.1 997.3 L646.1 995.0 L649.1 995.1 L652.1 990.0 L655.1 978.7 L656.5 955.0 L657.6 942.4 L660.0 942.4 L662.2 1000.9 L662.2 1001.0 L665.2 1009.0 L668.2 1009.2 L671.2 1013.6 L674.2 1019.2 L677.2 1023.2 L680.2 1025.4 L683.2 1031.8 L686.2 1032.4 L689.2 1039.4 L692.2 1039.9 L695.2 1041.2 L698.2 1049.0 L701.2 1048.8 L704.2 1055.8 L707.2 1055.3 L710.2 1064.6 L713.2 1065.0 L716.2 1069.4 L719.2 1068.5 L722.2 1074.8 L725.2 1076.1 L728.2 1078.3 L731.2 1084.9 L734.2 1082.7 L737.2 1088.5 L740.2 1088.7 L743.2 1096.4 L746.2 1099.3 L749.2 1096.5 L752.2 1101.9 L755.3 1104.5 L758.3 1108.8 L761.3 1111.5 L764.3 1111.6 L767.3 1118.0 L770.3 1115.9 L773.3 1118.2 L776.3 1125.1 L779.3 1123.3 L782.3 1126.4 L785.3 1131.0 L788.3 1132.5 L791.3 1133.8 L794.3 1141.1 L797.3 1140.4 L800.3 1144.6 L803.3 1143.2 L806.3 1149.4 L809.3 1146.9 L812.3 1153.2 L815.3 1153.1 L818.3 1157.2 L821.3 1157.7 L824.3 1158.6 L827.3 1159.7 L830.3 1163.4 L833.3 1162.4 L836.3 1161.8 L839.3 1168.6 L842.3 1169.4 L845.3 1170.1 L848.3 1172.0 L851.3 1170.1 L854.3 1173.0 L857.3 1176.6 L860.3 1178.8 L863.3 1179.9 L866.3 1176.2 L869.3 1180.8 L872.3 1181.2 L875.3 1181.5 L878.3 1181.1 L881.3 1182.2 L884.3 1185.5 L887.3 1186.8 L890.3 1186.6 L893.3 1188.4 L896.3 1190.7 L899.3 1193.1 L902.3 1193.0 L905.3 1191.4 L908.3 1197.0 L911.3 1194.7 L914.3 1199.5 L917.3 1200.7 L920.3 1196.4 L923.3 1200.3 L926.3 1203.8 L929.3 1201.2 L932.3 1203.4 L935.3 1203.0 L938.4 1202.4 L941.4 1204.8 L944.4 1205.4 L947.4 1207.6 L950.4 1211.0 L953.4 1211.6 L956.4 1215.2 L959.4 1214.5 L962.4 1213.5 L965.4 1218.2 L968.4 1217.2 L971.4 1217.7 L974.4 1220.8 L977.4 1220.6 L980.4 1219.6 L983.4 1222.1 L986.4 1221.1 L989.4 1226.3 L992.4 1222.6 L995.4 1228.1 L998.4 1223.0 L1001.4 1223.4 L1004.4 1227.5 L1007.4 1226.0 L1010.4 1228.5 L1013.4 1226.6 L1016.4 1231.8 L1019.4 1231.4 L1022.4 1232.1 L1025.4 1234.2 L1028.4 1235.2 L1031.4 1233.8 L1034.4 1234.6 L1037.4 1230.6 L1040.4 1231.4 L1043.4 1234.3 L1046.4 1238.2 L1049.4 1234.5 L1052.4 1236.5 L1055.4 1233.3 L1058.4 1236.3 L1061.4 1239.8 L1064.4 1238.2 L1067.4 1240.1 L1070.4 1235.3 L1073.4 1236.9 L1076.4 1237.1 L1079.4 1241.7 L1082.4 1237.4 L1085.4 1243.1 L1088.4 1239.2 L1091.4 1243.5 L1094.4 1241.5 L1097.4 1240.6 L1100.4 1245.0 L1103.4 1241.8 L1106.4 1244.0 L1109.4 1240.2 L1112.4 1245.4 L1115.4 1246.7 L1118.4 1241.4 L1121.5 1245.8 L1124.5 1243.1 L1127.5 1242.6 L1130.5 1244.3 L1133.5 1246.5 L1136.5 1248.6 L1139.5 1249.2 L1142.5 1249.4 L1145.5 1247.3 L1148.5 1247.8 L1151.5 1244.9 L1154.5 1248.7 L1157.5 1247.8 L1160.5 1246.8 L1163.5 1250.5 L1166.5 1246.6 L1169.5 1246.0 L1172.5 1246.3 L1175.5 1246.5 L1178.5 1249.5 L1181.5 1251.1 L1184.5 1247.2 L1187.5 1249.5 L1190.5 1250.2 L1193.5 1250.3 L1196.5 1249.5 L1199.5 1250.6 L1202.5 1247.4 L1205.5 1247.8 L1208.5 1250.3 L1211.5 1249.3 L1214.5 1252.8 L1217.5 1249.6 L1220.5 1253.5 L1223.5 1250.0 L1226.5 1249.2 L1229.5 1251.8 L1232.5 1251.4 L1235.5 1251.3 L1238.5 1254.2 L1241.5 1251.0 L1244.5 1254.1 L1247.5 1255.4 L1250.5 1253.2 L1253.5 1253.7 L1256.5 1256.7 L1259.5 1254.9 L1262.5 1252.4 L1265.5 1252.0 L1268.5 1252.3 L1271.5 1254.1 L1274.5 1252.8 L1277.5 1256.6 L1280.5 1255.4 L1283.5 1254.8 L1286.5 1256.4 L1289.5 1259.3 L1292.5 1255.0 L1295.5 1254.6 L1298.5 1255.8 L1301.5 1256.1 L1304.6 1260.0 L1307.6 1258.9 L1310.6 1257.2 L1313.6 1255.7 L1316.6 1255.1 L1319.6 1255.7 L1322.6 1260.5 L1325.6 1259.4 L1328.6 1256.4 L1331.6 1259.5 L1334.6 1256.0 L1337.6 1259.0 L1340.6 1258.1 L1343.6 1256.7 L1346.6 1260.9 L1349.6 1260.9 L1352.6 1259.7 L1355.6 1257.7 L1358.6 1261.0 L1361.6 1259.6 L1364.6 1261.2 L1367.6 1257.7 L1370.6 1263.0 L1373.6 1257.4 L1376.6 1258.9 L1379.6 1260.2 L1382.6 1259.0 L1385.6 1258.4 L1388.6 1262.3 L1391.6 1264.4 L1394.6 1260.3 L1397.6 1260.0 L1400.6 1262.6 L1403.6 1259.9 L1406.6 1261.1 L1409.6 1263.0 L1412.6 1261.4 L1415.6 1259.7 L1418.6 1259.3 L1421.6 1262.3 L1424.6 1265.3 L1427.6 1264.9 L1430.6 1259.7 L1433.6 1262.3 L1436.6 1262.3 L1439.6 1260.5 L1442.6 1263.5 L1445.6 1262.5 L1448.6 1264.5 L1451.6 1261.3 L1454.6 1265.4 L1457.6 1264.7 L1460.6 1262.6 L1463.6 1260.5 L1466.6 1262.7 L1469.6 1260.5 L1472.6 1264.1 L1475.6 1264.2 L1478.6 1263.5 L1481.6 1266.1 L1484.6 1260.2 L1487.7 1264.5 L1490.7 1265.1 L1493.7 1260.7 L1496.7 1262.1 L1499.7 1260.4 L1502.7 1263.9 L1505.7 1264.8 L1508.7 1262.4 L1511.7 1264.7 L1514.7 1262.6 L1517.7 1264.9 L1520.7 1262.1 L1523.7 1266.7 L1526.7 1263.2 L1529.7 1260.5 L1532.7 1261.1 L1535.7 1265.2 L1538.7 1266.1 L1541.7 1264.7 L1544.7 1261.7 L1547.7 1266.3 L1550.7 1265.3 L1553.7 1261.5 L1556.7 1263.2 L1559.7 1265.1 L1562.7 1260.9 L1565.7 1261.2 L1568.7 1263.2 L1571.7 1266.6 L1574.7 1267.4 L1577.7 1263.1 L1580.7 1266.9 L1583.7 1266.1 L1586.7 1266.7 L1589.7 1264.9 L1592.7 1267.4 L1595.7 1265.4 L1598.7 1267.4 L1601.7 1264.9 L1604.7 1262.6 L1607.7 1264.7 L1610.7 1264.5 L1613.7 1263.6 L1616.7 1263.9 L1619.7 1264.8 L1622.7 1265.3 L1625.7 1263.0 L1628.7 1263.4 L1631.7 1264.9 L1634.7 1264.9 L1637.7 1264.4 L1640.7 1266.0 L1643.7 1263.0 L1646.7 1265.2 L1649.7 1263.6 L1652.7 1266.8 L1655.7 1266.4 L1658.7 1266.9 L1661.7 1265.3 L1664.7 1263.6 L1667.7 1267.9 L1670.8 1265.3 L1673.8 1264.5 L1676.8 1264.0 L1679.8 1264.7 L1682.8 1266.7 L1685.8 1267.4 L1688.8 1265.3 L1691.8 1266.9 L1694.8 1263.6 L1697.8 1265.2 L1700.8 1264.6 L1703.8 1264.3 L1706.8 1264.7 L1709.8 1267.2 L1712.8 1267.1 L1715.8 1263.8 L1718.8 1264.0 L1721.8 1267.5 L1724.8 1266.7 L1727.8 1266.9 L1730.8 1266.6 L1733.8 1267.0 L1736.8 1264.4 L1739.8 1263.0 L1742.8 1265.0 L1745.8 1262.9 L1748.8 1268.9 L1751.8 1266.1 L1754.8 1267.0 L1757.8 1269.0 L1760.8 1267.9 L1763.8 1264.3 L1766.8 1265.0 L1769.8 1263.6 L1772.8 1268.0 L1775.8 1267.6 L1778.8 1266.1 L1781.8 1265.3 L1784.8 1264.7 L1787.8 1266.1 L1790.8 1267.6 L1793.8 1268.8 L1796.8 1268.5 L1799.8 1268.7 L1802.8 1265.9 L1805.8 1265.9 L1808.8 1265.2 L1811.8 1269.4 L1814.8 1264.4 L1817.8 1264.3 L1820.8 1265.1 L1823.8 1269.2 L1826.8 1268.8 L1829.8 1265.5 L1832.8 1268.8 L1835.8 1269.1 L1838.8 1266.1 L1841.8 1264.7 L1844.8 1268.4 L1847.8 1265.9 L1850.8 1264.2 L1853.9 1269.3 L1856.9 1266.3 L1859.9 1266.1 L1862.9 1267.4 L1865.9 1265.2 L1868.9 1263.7 L1871.9 1266.1 L1874.9 1266.1 L1877.9 1263.7 L1880.9 1266.1 L1883.9 1268.6 L1886.9 1265.9 L1889.9 1268.1 L1892.9 1267.8 L1895.9 1265.0 L1898.9 1263.9 L1901.9 1268.1 L1904.9 1267.7 L1907.9 1265.7 L1910.9 1265.1 L1913.9 1269.4 L1916.9 1269.7 L1919.9 1265.4 L1922.9 1267.7 L1925.9 1267.6 L1928.9 1266.0 L1931.9 1264.2 L1934.9 1266.1 L1937.9 1268.1 L1940.9 1267.9 L1943.9 1267.3 L1946.9 1264.8 L1949.9 1265.4 L1952.9 1266.1 L1955.9 1266.8 L1958.9 1266.4 L1961.9 1269.9 L1964.9 1264.9 L1967.9 1270.5 L1970.9 1265.7 L1973.9 1269.7 L1976.9 1265.7 L1979.9 1268.0 L1982.9 1266.6 L1985.9 1264.5 L1988.9 1269.3 L1991.9 1269.4 L1994.9 1266.0 L1997.9 1269.2 L2000.9 1267.4 L2003.9 1270.6 L2006.9 1264.7 L2009.9 1266.8 L2012.9 1265.8 L2015.9 1268.3 L2018.9 1269.3 L2021.9 1269.8 L2024.9 1267.9 L2027.9 1266.9 L2030.9 1269.5 L2033.9 1265.1 L2037.0 1266.1 L2040.0 1269.3 L2043.0 1267.3 L2046.0 1270.8 L2049.0 1265.1 L2052.0 1267.5 L2055.0 1265.9 L2058.0 1264.5 L2061.0 1265.1 L2064.0 1265.1 L2067.0 1266.9 L2070.0 1267.3 L2073.0 1267.8 L2076.0 1266.4 L2079.0 1269.1 L2082.0 1267.9 L2085.0 1270.9 L2088.0 1265.7 L2091.0 1267.9 L2094.0 1267.8 L2097.0 1267.1 L2100.0 1270.2 L2103.0 1266.0 L2106.0 1270.3 L2109.0 1267.0 L2112.0 1266.9 L2115.0 1268.7 L2118.0 1268.4 L2121.0 1266.6 L2124.0 1265.3 L2127.0 1270.9 L2128.0 1268.0" fill="none" stroke="#8c1a1a" stroke-width="1.8" stroke-dasharray="2.5 4.5" stroke-linejoin="round" opacity="0.8"/><rect x="252.5" y="1267.3" width="839.5" height="3" fill="#0a0a0a"/><rect x="253.5" y="1258.7" width="2.8" height="8.8" fill="#6a6a6a"/><path d="M254.9 1238.7 L248.4 1260.7 L261.4 1260.7 Z" fill="#000"/><rect x="383.7" y="1216.0" width="2.8" height="51.5" fill="#808080"/><path d="M385.1 1196.0 L378.6 1218.0 L391.6 1218.0 Z" fill="#000"/><rect x="531.0" y="1104.0" width="2.8" height="163.5" fill="#000"/><path d="M532.4 1084.0 L525.9 1106.0 L538.9 1106.0 Z" fill="#000"/><rect x="659.0" y="984.0" width="2.8" height="283.5" fill="#5a5a5a"/><path d="M660.4 964.0 L653.9 986.0 L666.9 986.0 Z" fill="#000"/><rect x="789.9" y="1163.0" width="2.8" height="104.5" fill="#111"/><path d="M791.3 1143.0 L784.8 1165.0 L797.8 1165.0 Z" fill="#000"/><rect x="936.8" y="1224.4" width="2.8" height="43.1" fill="#111"/><path d="M938.2 1204.4 L931.7 1226.4 L944.7 1226.4 Z" fill="#000"/><rect x="1089.6" y="1251.5" width="2.8" height="16.0" fill="#8a8a8a"/><path d="M1091.0 1231.5 L1084.5 1253.5 L1097.5 1253.5 Z" fill="#000"/><path d="M90.7 1206.3 L92.7 1207.7 L94.7 1209.1 L96.7 1210.5 L98.7 1211.9 L100.7 1213.2 L102.7 1214.4 L104.7 1215.6 L106.7 1216.7 L108.7 1217.8 L110.7 1218.8 L112.8 1219.8 L114.8 1220.8 L116.8 1221.7 L118.8 1222.6 L120.8 1223.6 L122.8 1224.5 L124.8 1225.6 L126.8 1226.6 L128.8 1227.7 L130.8 1228.8 L132.8 1229.9 L134.8 1231.0 L136.8 1232.2 L138.8 1233.3 L140.8 1234.4 L142.8 1235.5 L144.8 1236.6 L146.8 1237.7 L148.8 1238.8 L150.8 1239.9 L152.9 1241.0 L154.9 1242.1 L156.9 1243.1 L158.9 1244.1 L160.9 1245.1 L162.9 1246.1 L164.9 1247.0 L166.9 1247.8 L168.9 1248.6 L170.9 1249.3 L172.9 1250.0 L174.9 1250.7 L176.9 1251.4 L178.9 1252.0 L180.9 1252.6 L182.9 1253.2 L184.9 1253.9 L186.9 1254.5 L188.9 1255.2 L190.9 1255.8 L193.0 1256.5 L195.0 1257.2 L197.0 1257.8 L199.0 1258.5 L201.0 1259.1 L203.0 1259.7 L205.0 1260.2 L207.0 1260.7 L209.0 1261.2 L211.0 1261.7 L213.0 1262.1 L215.0 1262.5 L217.0 1262.9 L219.0 1263.2 L221.0 1263.5 L223.0 1263.8 L225.0 1264.1 L227.0 1264.3 L229.0 1264.4 L231.0 1264.5 L233.0 1264.4 L235.1 1264.3 L237.1 1264.1 L239.1 1263.8 L241.1 1263.5 L243.1 1263.3 L245.1 1262.9 L247.1 1262.6 L249.1 1262.3 L251.1 1261.9 L253.1 1261.4 L254.1 1261.2 L258.0 1256.0 L260.0 1254.0 L262.0 1252.8 L264.0 1252.1 L266.0 1251.9 L268.0 1251.8 L270.0 1251.9 L272.0 1252.0 L274.0 1252.5 L276.0 1253.2 L278.0 1254.4 L280.0 1255.7 L282.0 1256.9 L284.0 1257.9 L286.0 1258.7 L288.0 1259.4 L290.0 1260.1 L292.0 1260.6 L294.0 1261.1 L296.0 1261.5 L298.0 1261.8 L300.0 1262.0 L302.0 1262.2 L304.0 1262.4 L306.0 1262.6 L308.0 1262.8 L310.0 1263.0 L312.0 1263.2 L314.0 1263.5 L316.0 1263.7 L318.0 1263.9 L320.0 1264.2 L322.0 1264.3 L324.0 1264.5 L326.0 1264.6 L328.0 1264.7 L330.0 1264.8 L332.0 1264.8 L334.0 1264.9 L336.0 1264.9 L338.0 1265.0 L340.0 1265.0 L342.0 1265.0 L344.0 1265.0 L346.0 1265.0 L348.0 1265.0 L350.0 1265.0 L352.0 1265.0 L354.0 1264.9 L356.0 1264.9 L358.0 1264.8 L360.0 1264.8 L362.0 1264.7 L364.0 1264.6 L366.0 1264.5 L368.0 1264.5 L370.0 1264.4 L372.0 1264.3 L374.0 1264.3 L376.0 1264.2 L378.0 1264.1 L380.0 1264.1 L382.0 1264.1 L384.0 1264.0 L386.0 1264.1 L388.0 1264.1 L390.0 1264.2 L392.0 1264.3 L394.0 1264.4 L396.0 1264.5 L400.9 1264.6 L402.9 1261.8 L404.9 1259.0 L406.9 1256.4 L408.9 1254.0 L410.9 1251.7 L412.9 1249.4 L414.9 1247.0 L416.9 1244.4 L418.9 1241.4 L420.9 1238.1 L422.9 1234.2 L424.9 1229.8 L426.9 1225.0 L428.9 1220.3 L430.9 1215.5 L432.9 1210.7 L435.0 1205.7 L437.0 1200.5 L439.0 1195.0 L441.0 1189.5 L443.0 1183.9 L445.0 1178.0 L447.0 1171.5 L449.0 1164.2 L451.0 1156.5 L453.0 1148.8 L455.0 1141.7 L457.0 1135.1 L459.0 1128.5 L461.0 1121.6 L463.0 1114.1 L465.0 1106.0 L467.0 1097.6 L469.0 1089.1 L471.0 1080.5 L473.0 1072.0 L475.0 1063.4 L477.0 1054.8 L479.0 1046.1 L481.0 1037.2 L483.0 1028.5 L485.0 1020.1 L487.0 1012.1 L489.0 1004.6 L491.0 997.3 L493.0 990.2 L495.0 983.4 L497.1 976.8 L499.1 970.7 L501.1 965.0 L503.1 959.5 L505.1 954.3 L507.1 949.3 L509.1 944.4 L511.1 939.7 L513.1 935.2 L515.1 930.9 L517.1 926.8 L519.1 923.0 L521.1 919.4 L523.1 916.1 L525.1 913.1 L527.1 910.5 L529.1 908.1 L531.1 906.1 L533.1 904.4 L535.1 902.9 L537.1 901.6 L539.1 900.5 L541.1 899.5 L543.1 898.5 L545.1 897.6 L547.1 896.6 L549.1 895.5 L551.1 894.5 L553.1 893.5 L555.1 892.7 L557.1 892.0 L559.1 891.5 L561.2 891.0 L563.2 890.5 L565.2 890.1 L567.2 889.6 L569.2 889.1 L571.2 888.7 L573.2 888.2 L575.2 887.7 L577.2 887.2 L579.2 886.7 L581.2 886.2 L583.2 885.8 L585.2 885.2 L587.2 884.7 L589.2 884.2 L591.2 883.6 L593.2 883.1 L598.2 885.2 L602.5 882.5 L604.6 881.9 L606.7 881.3 L608.8 880.6 L610.9 879.8 L613.0 878.7 L615.1 877.2 L617.2 875.4 L618.2 874.5 L630.7 872.5 L636.9 874.5 L643.2 870.5 L655.7 869.1 L660.7 860.0 L665.1 865.0 L667.1 868.7 L669.1 872.4 L671.1 875.7 L673.1 878.6 L675.1 881.3 L677.1 884.2 L679.1 887.2 L681.1 890.3 L683.1 893.4 L685.1 896.5 L687.1 899.6 L689.1 902.7 L691.1 905.8 L693.1 908.9 L695.1 911.9 L697.1 914.8 L699.1 917.8 L701.1 920.8 L703.1 923.8 L705.1 926.8 L707.1 929.9 L709.1 933.0 L711.1 936.2 L713.1 939.4 L715.1 942.6 L717.1 945.8 L719.1 949.0 L721.1 952.2 L723.1 955.4 L725.1 958.5 L727.1 961.6 L729.1 964.7 L731.1 967.7 L733.1 970.7 L735.1 973.7 L737.1 976.6 L739.1 979.6 L741.1 982.5 L743.1 985.4 L745.1 988.2 L747.2 991.1 L749.2 993.9 L751.2 996.6 L753.2 999.4 L755.2 1002.1 L757.2 1004.7 L759.2 1007.3 L761.2 1009.8 L763.2 1012.4 L765.2 1014.9 L767.2 1017.4 L769.2 1019.9 L771.2 1022.4 L773.2 1024.9 L775.2 1027.4 L777.2 1029.9 L779.2 1032.4 L781.2 1034.8 L783.2 1037.3 L785.2 1039.8 L787.2 1042.2 L789.2 1044.5 L791.2 1046.9 L793.2 1049.1 L795.2 1051.3 L797.2 1053.5 L799.2 1055.6 L801.2 1057.6 L803.2 1059.6 L805.2 1061.6 L807.2 1063.5 L809.2 1065.4 L811.2 1067.2 L813.2 1069.0 L815.2 1070.8 L817.2 1072.5 L819.2 1074.3 L821.2 1076.0 L823.2 1077.6 L825.2 1079.2 L827.2 1080.8 L829.2 1082.4 L831.2 1083.9 L833.2 1085.4 L835.2 1086.9 L837.2 1088.3 L839.2 1089.8 L841.2 1091.1 L843.2 1092.5 L845.2 1093.8 L847.2 1095.1 L849.2 1096.3 L851.2 1097.6 L853.2 1098.9 L855.2 1100.1 L857.2 1101.4 L859.2 1102.6 L861.2 1103.9 L863.2 1105.2 L865.2 1106.5 L867.2 1107.8 L869.2 1109.1 L871.2 1110.4 L873.2 1111.7 L875.2 1113.0 L877.2 1114.2 L879.2 1115.5 L881.2 1116.8 L883.2 1118.0 L885.2 1119.2 L887.2 1120.3 L889.2 1121.5 L891.2 1122.6 L893.2 1123.7 L895.2 1124.7 L897.2 1125.7 L899.2 1126.7 L901.2 1127.6 L903.2 1128.5 L905.2 1129.4 L907.2 1130.3 L909.3 1131.1 L911.3 1132.0 L913.3 1132.8 L915.3 1133.7 L917.3 1134.5 L919.3 1135.4 L921.3 1136.2 L923.3 1137.1 L925.3 1138.0 L927.3 1138.9 L929.3 1139.8 L931.3 1140.7 L933.3 1141.6 L935.3 1142.5 L937.3 1143.4 L939.3 1144.3 L941.3 1145.2 L943.3 1146.0 L945.3 1146.9 L947.3 1147.7 L949.3 1148.5 L951.3 1149.3 L953.3 1150.1 L955.3 1150.8 L957.3 1151.5 L959.3 1152.2 L961.3 1152.9 L963.3 1153.6 L965.3 1154.2 L967.3 1154.9 L969.3 1155.5 L971.3 1156.1 L973.3 1156.8 L975.3 1157.4 L977.3 1158.1 L979.3 1158.8 L981.3 1159.5 L983.3 1160.2 L985.3 1160.9 L987.3 1161.6 L989.3 1162.4 L991.3 1163.2 L993.3 1163.9 L995.3 1164.7 L997.3 1165.5 L999.3 1166.3 L1001.3 1167.1 L1003.3 1167.9 L1005.3 1168.7 L1007.3 1169.5 L1009.3 1170.2 L1011.3 1171.0 L1013.3 1171.7 L1015.3 1172.4 L1017.3 1173.1 L1019.3 1173.8 L1021.3 1174.4 L1023.3 1175.1 L1025.3 1175.7 L1027.3 1176.3 L1029.3 1176.9 L1031.3 1177.5 L1033.3 1178.1 L1035.3 1178.7 L1037.3 1179.3 L1039.3 1179.9 L1041.3 1180.5 L1043.3 1181.1 L1045.3 1181.7 L1047.3 1182.3 L1049.3 1182.8 L1051.3 1183.4 L1053.3 1184.0 L1055.3 1184.6 L1057.3 1185.2 L1059.3 1185.8 L1061.3 1186.4 L1063.3 1187.0 L1065.3 1187.6 L1067.3 1188.2 L1069.3 1188.9 L1071.3 1189.5 L1073.4 1190.1 L1075.4 1190.8 L1077.4 1191.4 L1079.4 1192.1 L1081.4 1192.7 L1083.4 1193.4 L1085.4 1194.0 L1087.4 1194.6 L1089.4 1195.2 L1091.4 1195.9 L1093.4 1196.5 L1095.4 1197.0 L1097.4 1197.6 L1099.4 1198.2 L1101.4 1198.8 L1103.4 1199.3 L1105.4 1199.9 L1107.4 1200.5 L1109.4 1201.0 L1111.4 1201.6 L1113.4 1202.2 L1115.4 1202.7 L1117.4 1203.3 L1119.4 1203.9 L1121.4 1204.5 L1123.4 1205.1 L1125.4 1205.8 L1127.4 1206.4 L1129.4 1207.0 L1131.4 1207.7 L1133.4 1208.3 L1135.4 1208.9 L1137.4 1209.6 L1139.4 1210.2 L1141.4 1210.8 L1143.4 1211.4 L1145.4 1212.0 L1147.4 1212.6 L1149.4 1213.1 L1151.4 1213.7 L1153.4 1214.2 L1155.4 1214.7 L1157.4 1215.2 L1159.4 1215.8 L1161.4 1216.2 L1163.4 1216.7 L1165.4 1217.2 L1167.4 1217.7 L1169.4 1218.2 L1171.4 1218.7 L1173.4 1219.2 L1175.4 1219.7 L1177.4 1220.2 L1179.4 1220.7 L1181.4 1221.2 L1183.4 1221.7 L1185.4 1222.2 L1187.4 1222.8 L1189.4 1223.3 L1191.4 1223.8 L1193.4 1224.3 L1195.4 1224.7 L1197.4 1225.2 L1199.4 1225.7 L1201.4 1226.1 L1203.4 1226.5 L1205.4 1226.9 L1207.4 1227.3 L1209.4 1227.7 L1211.4 1228.1 L1213.4 1228.4 L1215.4 1228.8 L1217.4 1229.1 L1219.4 1229.4 L1221.4 1229.7 L1223.4 1230.0 L1225.4 1230.3 L1227.4 1230.6 L1229.4 1230.9 L1231.4 1231.2 L1233.4 1231.5 L1235.5 1231.8 L1237.5 1232.0 L1239.5 1232.3 L1241.5 1232.6 L1243.5 1232.9 L1245.5 1233.2 L1247.5 1233.4 L1249.5 1233.7 L1251.5 1234.0 L1253.5 1234.3 L1255.5 1234.6 L1257.5 1234.9 L1259.5 1235.2 L1261.5 1235.6 L1263.5 1235.9 L1265.5 1236.2 L1267.5 1236.6 L1269.5 1236.9 L1271.5 1237.2 L1273.5 1237.6 L1275.5 1237.9 L1277.5 1238.3 L1279.5 1238.6 L1281.5 1239.0 L1283.5 1239.3 L1285.5 1239.7 L1287.5 1240.0 L1289.5 1240.4 L1291.5 1240.7 L1293.5 1241.1 L1295.5 1241.4 L1297.5 1241.8 L1299.5 1242.1 L1301.5 1242.5 L1303.5 1242.8 L1305.5 1243.1 L1307.5 1243.5 L1309.5 1243.8 L1311.5 1244.1 L1313.5 1244.4 L1315.5 1244.8 L1317.5 1245.1 L1319.5 1245.4 L1321.5 1245.7 L1323.5 1246.0 L1325.5 1246.3 L1327.5 1246.6 L1329.5 1246.9 L1331.5 1247.2 L1333.5 1247.5 L1335.5 1247.8 L1337.5 1248.1 L1339.5 1248.4 L1341.5 1248.6 L1343.5 1248.9 L1345.5 1249.1 L1347.5 1249.4 L1349.5 1249.6 L1351.5 1249.8 L1353.5 1250.1 L1355.5 1250.3 L1357.5 1250.5 L1359.5 1250.7 L1361.5 1250.9 L1363.5 1251.0 L1365.5 1251.2 L1367.5 1251.4 L1369.5 1251.6 L1371.5 1251.7 L1373.5 1251.9 L1375.5 1252.0 L1377.5 1252.2 L1379.5 1252.3 L1381.5 1252.4 L1383.5 1252.6 L1385.5 1252.7 L1387.5 1252.8 L1389.5 1253.0 L1391.5 1253.1 L1393.5 1253.2 L1395.5 1253.3 L1397.6 1253.5 L1399.6 1253.6 L1401.6 1253.7 L1403.6 1253.8 L1405.6 1253.9 L1407.6 1254.0 L1409.6 1254.2 L1411.6 1254.3 L1413.6 1254.4 L1415.6 1254.5 L1417.6 1254.6 L1419.6 1254.7 L1421.6 1254.8 L1423.6 1254.9 L1425.6 1255.0 L1427.6 1255.1 L1429.6 1255.2 L1431.6 1255.3 L1433.6 1255.4 L1435.6 1255.5 L1437.6 1255.6 L1439.6 1255.7 L1441.6 1255.8 L1443.6 1255.9 L1445.6 1255.9 L1447.6 1256.0 L1449.6 1256.1 L1451.6 1256.2 L1453.6 1256.3 L1455.6 1256.4 L1457.6 1256.5 L1459.6 1256.6 L1461.6 1256.7 L1463.6 1256.8 L1465.6 1256.9 L1467.6 1256.9 L1469.6 1257.0 L1471.6 1257.1 L1473.6 1257.2 L1475.6 1257.3 L1477.6 1257.4 L1479.6 1257.4 L1481.6 1257.5 L1483.6 1257.6 L1485.6 1257.7 L1487.6 1257.7 L1489.6 1257.8 L1491.6 1257.9 L1493.6 1258.0 L1495.6 1258.0 L1497.6 1258.1 L1499.6 1258.2 L1501.6 1258.2 L1503.6 1258.3 L1505.6 1258.4 L1507.6 1258.4 L1509.6 1258.5 L1511.6 1258.6 L1513.6 1258.6 L1515.6 1258.7 L1517.6 1258.7 L1519.6 1258.8 L1521.6 1258.9 L1523.6 1258.9 L1525.6 1259.0 L1527.6 1259.0 L1529.6 1259.1 L1531.6 1259.2 L1533.6 1259.2 L1535.6 1259.3 L1537.6 1259.3 L1539.6 1259.4 L1541.6 1259.5 L1543.6 1259.5 L1545.6 1259.6 L1547.6 1259.6 L1549.6 1259.7 L1551.6 1259.7 L1553.6 1259.8 L1555.6 1259.8 L1557.6 1259.9 L1559.7 1260.0 L1561.7 1260.0 L1563.7 1260.1 L1565.7 1260.1 L1567.7 1260.2 L1569.7 1260.2 L1571.7 1260.3 L1573.7 1260.3 L1575.7 1260.4 L1577.7 1260.4 L1579.7 1260.5 L1581.7 1260.5 L1583.7 1260.6 L1585.7 1260.6 L1587.7 1260.7 L1589.7 1260.7 L1591.7 1260.8 L1593.7 1260.8 L1595.7 1260.9 L1597.7 1260.9 L1599.7 1261.0 L1601.7 1261.0 L1603.7 1261.1 L1605.7 1261.1 L1607.7 1261.2 L1609.7 1261.2 L1611.7 1261.3 L1613.7 1261.3 L1615.7 1261.4 L1617.7 1261.4 L1619.7 1261.5 L1621.7 1261.5 L1623.7 1261.5 L1625.7 1261.6 L1627.7 1261.6 L1629.7 1261.7 L1631.7 1261.7 L1633.7 1261.8 L1635.7 1261.8 L1637.7 1261.9 L1639.7 1261.9 L1641.7 1261.9 L1643.7 1262.0 L1645.7 1262.0 L1647.7 1262.1 L1649.7 1262.1 L1651.7 1262.1 L1653.7 1262.2 L1655.7 1262.2 L1657.7 1262.3 L1659.7 1262.3 L1661.7 1262.3 L1663.7 1262.4 L1665.7 1262.4 L1667.7 1262.4 L1669.7 1262.5 L1671.7 1262.5 L1673.7 1262.5 L1675.7 1262.6 L1677.7 1262.6 L1679.7 1262.7 L1681.7 1262.7 L1683.7 1262.7 L1685.7 1262.8 L1687.7 1262.8 L1689.7 1262.8 L1691.7 1262.9 L1693.7 1262.9 L1695.7 1262.9 L1697.7 1263.0 L1699.7 1263.0 L1701.7 1263.0 L1703.7 1263.1 L1705.7 1263.1 L1707.7 1263.1 L1709.7 1263.2 L1711.7 1263.2 L1713.7 1263.2 L1715.7 1263.3 L1717.7 1263.3 L1719.7 1263.3 L1721.8 1263.4 L1723.8 1263.4 L1725.8 1263.4 L1727.8 1263.5 L1729.8 1263.5 L1731.8 1263.5 L1733.8 1263.6 L1735.8 1263.6 L1737.8 1263.6 L1739.8 1263.7 L1741.8 1263.7 L1743.8 1263.7 L1745.8 1263.8 L1747.8 1263.8 L1749.8 1263.8 L1751.8 1263.9 L1753.8 1263.9 L1755.8 1263.9 L1757.8 1264.0 L1759.8 1264.0 L1761.8 1264.0 L1763.8 1264.1 L1765.8 1264.1 L1767.8 1264.1 L1769.8 1264.2 L1771.8 1264.2 L1773.8 1264.2 L1775.8 1264.3 L1777.8 1264.3 L1779.8 1264.3 L1781.8 1264.3 L1783.8 1264.4 L1785.8 1264.4 L1787.8 1264.4 L1789.8 1264.5 L1791.8 1264.5 L1793.8 1264.5 L1795.8 1264.6 L1797.8 1264.6 L1799.8 1264.6 L1801.8 1264.7 L1803.8 1264.7 L1805.8 1264.7 L1807.8 1264.8 L1809.8 1264.8 L1811.8 1264.8 L1813.8 1264.8 L1815.8 1264.9 L1817.8 1264.9 L1819.8 1264.9 L1821.8 1265.0 L1823.8 1265.0 L1825.8 1265.0 L1827.8 1265.1 L1829.8 1265.1 L1831.8 1265.1 L1833.8 1265.1 L1835.8 1265.2 L1837.8 1265.2 L1839.8 1265.2 L1841.8 1265.3 L1843.8 1265.3 L1845.8 1265.3 L1847.8 1265.3 L1849.8 1265.4 L1851.8 1265.4 L1853.8 1265.4 L1855.8 1265.4 L1857.8 1265.5 L1859.8 1265.5 L1861.8 1265.5 L1863.8 1265.6 L1865.8 1265.6 L1867.8 1265.6 L1869.8 1265.6 L1871.8 1265.7 L1873.8 1265.7 L1875.8 1265.7 L1877.8 1265.7 L1879.8 1265.8 L1881.8 1265.8 L1883.8 1265.8 L1885.9 1265.8 L1887.9 1265.9 L1889.9 1265.9 L1891.9 1265.9 L1893.9 1265.9 L1895.9 1265.9 L1897.9 1266.0 L1899.9 1266.0 L1901.9 1266.0 L1903.9 1266.0 L1905.9 1266.1 L1907.9 1266.1 L1909.9 1266.1 L1911.9 1266.1 L1913.9 1266.1 L1915.9 1266.2 L1917.9 1266.2 L1919.9 1266.2 L1921.9 1266.2 L1923.9 1266.2 L1925.9 1266.3 L1927.9 1266.3 L1929.9 1266.3 L1931.9 1266.3 L1933.9 1266.3 L1935.9 1266.4 L1937.9 1266.4 L1939.9 1266.4 L1941.9 1266.4 L1943.9 1266.4 L1945.9 1266.4 L1947.9 1266.5 L1949.9 1266.5 L1951.9 1266.5 L1953.9 1266.5 L1955.9 1266.5 L1957.9 1266.6 L1959.9 1266.6 L1961.9 1266.6 L1963.9 1266.6 L1965.9 1266.6 L1967.9 1266.6 L1969.9 1266.7 L1971.9 1266.7 L1973.9 1266.7 L1975.9 1266.7 L1977.9 1266.7 L1979.9 1266.7 L1981.9 1266.8 L1983.9 1266.8 L1985.9 1266.8 L1987.9 1266.8 L1989.9 1266.8 L1991.9 1266.8 L1993.9 1266.8 L1995.9 1266.9 L1997.9 1266.9 L1999.9 1266.9 L2001.9 1266.9 L2003.9 1266.9 L2005.9 1266.9 L2007.9 1267.0 L2009.9 1267.0 L2011.9 1267.0 L2013.9 1267.0 L2015.9 1267.0 L2017.9 1267.0 L2019.9 1267.0 L2021.9 1267.1 L2023.9 1267.1 L2025.9 1267.1 L2027.9 1267.1 L2029.9 1267.1 L2031.9 1267.1 L2033.9 1267.1 L2035.9 1267.2 L2037.9 1267.2 L2039.9 1267.2 L2041.9 1267.2 L2043.9 1267.2 L2045.9 1267.2 L2048.0 1267.2 L2050.0 1267.3 L2052.0 1267.3 L2054.0 1267.3 L2056.0 1267.3 L2058.0 1267.3 L2060.0 1267.3 L2062.0 1267.3 L2064.0 1267.4 L2066.0 1267.4 L2068.0 1267.4 L2070.0 1267.4 L2072.0 1267.4 L2074.0 1267.4 L2076.0 1267.4 L2078.0 1267.4 L2080.0 1267.5 L2082.0 1267.5 L2084.0 1267.5 L2086.0 1267.5 L2088.0 1267.5 L2090.0 1267.5 L2092.0 1267.5 L2094.0 1267.6 L2096.0 1267.6 L2098.0 1267.6 L2100.0 1267.6 L2102.0 1267.6 L2104.0 1267.6 L2106.0 1267.6 L2108.0 1267.7 L2110.0 1267.7 L2112.0 1267.7 L2114.0 1267.7 L2116.0 1267.7 L2118.0 1267.7 L2120.0 1267.7 L2122.0 1267.8 L2124.0 1267.8 L2126.0 1267.8 L2128.0 1267.8" fill="none" stroke="#b8b8e8" stroke-width="4" stroke-linejoin="round" opacity="0.5"/><path d="M90.7 1206.3 L92.7 1207.7 L94.7 1209.1 L96.7 1210.5 L98.7 1211.9 L100.7 1213.2 L102.7 1214.4 L104.7 1215.6 L106.7 1216.7 L108.7 1217.8 L110.7 1218.8 L112.8 1219.8 L114.8 1220.8 L116.8 1221.7 L118.8 1222.6 L120.8 1223.6 L122.8 1224.5 L124.8 1225.6 L126.8 1226.6 L128.8 1227.7 L130.8 1228.8 L132.8 1229.9 L134.8 1231.0 L136.8 1232.2 L138.8 1233.3 L140.8 1234.4 L142.8 1235.5 L144.8 1236.6 L146.8 1237.7 L148.8 1238.8 L150.8 1239.9 L152.9 1241.0 L154.9 1242.1 L156.9 1243.1 L158.9 1244.1 L160.9 1245.1 L162.9 1246.1 L164.9 1247.0 L166.9 1247.8 L168.9 1248.6 L170.9 1249.3 L172.9 1250.0 L174.9 1250.7 L176.9 1251.4 L178.9 1252.0 L180.9 1252.6 L182.9 1253.2 L184.9 1253.9 L186.9 1254.5 L188.9 1255.2 L190.9 1255.8 L193.0 1256.5 L195.0 1257.2 L197.0 1257.8 L199.0 1258.5 L201.0 1259.1 L203.0 1259.7 L205.0 1260.2 L207.0 1260.7 L209.0 1261.2 L211.0 1261.7 L213.0 1262.1 L215.0 1262.5 L217.0 1262.9 L219.0 1263.2 L221.0 1263.5 L223.0 1263.8 L225.0 1264.1 L227.0 1264.3 L229.0 1264.4 L231.0 1264.5 L233.0 1264.4 L235.1 1264.3 L237.1 1264.1 L239.1 1263.8 L241.1 1263.5 L243.1 1263.3 L245.1 1262.9 L247.1 1262.6 L249.1 1262.3 L251.1 1261.9 L253.1 1261.4 L254.1 1261.2 L258.0 1256.0 L260.0 1254.0 L262.0 1252.8 L264.0 1252.1 L266.0 1251.9 L268.0 1251.8 L270.0 1251.9 L272.0 1252.0 L274.0 1252.5 L276.0 1253.2 L278.0 1254.4 L280.0 1255.7 L282.0 1256.9 L284.0 1257.9 L286.0 1258.7 L288.0 1259.4 L290.0 1260.1 L292.0 1260.6 L294.0 1261.1 L296.0 1261.5 L298.0 1261.8 L300.0 1262.0 L302.0 1262.2 L304.0 1262.4 L306.0 1262.6 L308.0 1262.8 L310.0 1263.0 L312.0 1263.2 L314.0 1263.5 L316.0 1263.7 L318.0 1263.9 L320.0 1264.2 L322.0 1264.3 L324.0 1264.5 L326.0 1264.6 L328.0 1264.7 L330.0 1264.8 L332.0 1264.8 L334.0 1264.9 L336.0 1264.9 L338.0 1265.0 L340.0 1265.0 L342.0 1265.0 L344.0 1265.0 L346.0 1265.0 L348.0 1265.0 L350.0 1265.0 L352.0 1265.0 L354.0 1264.9 L356.0 1264.9 L358.0 1264.8 L360.0 1264.8 L362.0 1264.7 L364.0 1264.6 L366.0 1264.5 L368.0 1264.5 L370.0 1264.4 L372.0 1264.3 L374.0 1264.3 L376.0 1264.2 L378.0 1264.1 L380.0 1264.1 L382.0 1264.1 L384.0 1264.0 L386.0 1264.1 L388.0 1264.1 L390.0 1264.2 L392.0 1264.3 L394.0 1264.4 L396.0 1264.5 L400.9 1264.6 L402.9 1261.8 L404.9 1259.0 L406.9 1256.4 L408.9 1254.0 L410.9 1251.7 L412.9 1249.4 L414.9 1247.0 L416.9 1244.4 L418.9 1241.4 L420.9 1238.1 L422.9 1234.2 L424.9 1229.8 L426.9 1225.0 L428.9 1220.3 L430.9 1215.5 L432.9 1210.7 L435.0 1205.7 L437.0 1200.5 L439.0 1195.0 L441.0 1189.5 L443.0 1183.9 L445.0 1178.0 L447.0 1171.5 L449.0 1164.2 L451.0 1156.5 L453.0 1148.8 L455.0 1141.7 L457.0 1135.1 L459.0 1128.5 L461.0 1121.6 L463.0 1114.1 L465.0 1106.0 L467.0 1097.6 L469.0 1089.1 L471.0 1080.5 L473.0 1072.0 L475.0 1063.4 L477.0 1054.8 L479.0 1046.1 L481.0 1037.2 L483.0 1028.5 L485.0 1020.1 L487.0 1012.1 L489.0 1004.6 L491.0 997.3 L493.0 990.2 L495.0 983.4 L497.1 976.8 L499.1 970.7 L501.1 965.0 L503.1 959.5 L505.1 954.3 L507.1 949.3 L509.1 944.4 L511.1 939.7 L513.1 935.2 L515.1 930.9 L517.1 926.8 L519.1 923.0 L521.1 919.4 L523.1 916.1 L525.1 913.1 L527.1 910.5 L529.1 908.1 L531.1 906.1 L533.1 904.4 L535.1 902.9 L537.1 901.6 L539.1 900.5 L541.1 899.5 L543.1 898.5 L545.1 897.6 L547.1 896.6 L549.1 895.5 L551.1 894.5 L553.1 893.5 L555.1 892.7 L557.1 892.0 L559.1 891.5 L561.2 891.0 L563.2 890.5 L565.2 890.1 L567.2 889.6 L569.2 889.1 L571.2 888.7 L573.2 888.2 L575.2 887.7 L577.2 887.2 L579.2 886.7 L581.2 886.2 L583.2 885.8 L585.2 885.2 L587.2 884.7 L589.2 884.2 L591.2 883.6 L593.2 883.1 L598.2 885.2 L602.5 882.5 L604.6 881.9 L606.7 881.3 L608.8 880.6 L610.9 879.8 L613.0 878.7 L615.1 877.2 L617.2 875.4 L618.2 874.5 L630.7 872.5 L636.9 874.5 L643.2 870.5 L655.7 869.1 L660.7 860.0 L665.1 865.0 L667.1 868.7 L669.1 872.4 L671.1 875.7 L673.1 878.6 L675.1 881.3 L677.1 884.2 L679.1 887.2 L681.1 890.3 L683.1 893.4 L685.1 896.5 L687.1 899.6 L689.1 902.7 L691.1 905.8 L693.1 908.9 L695.1 911.9 L697.1 914.8 L699.1 917.8 L701.1 920.8 L703.1 923.8 L705.1 926.8 L707.1 929.9 L709.1 933.0 L711.1 936.2 L713.1 939.4 L715.1 942.6 L717.1 945.8 L719.1 949.0 L721.1 952.2 L723.1 955.4 L725.1 958.5 L727.1 961.6 L729.1 964.7 L731.1 967.7 L733.1 970.7 L735.1 973.7 L737.1 976.6 L739.1 979.6 L741.1 982.5 L743.1 985.4 L745.1 988.2 L747.2 991.1 L749.2 993.9 L751.2 996.6 L753.2 999.4 L755.2 1002.1 L757.2 1004.7 L759.2 1007.3 L761.2 1009.8 L763.2 1012.4 L765.2 1014.9 L767.2 1017.4 L769.2 1019.9 L771.2 1022.4 L773.2 1024.9 L775.2 1027.4 L777.2 1029.9 L779.2 1032.4 L781.2 1034.8 L783.2 1037.3 L785.2 1039.8 L787.2 1042.2 L789.2 1044.5 L791.2 1046.9 L793.2 1049.1 L795.2 1051.3 L797.2 1053.5 L799.2 1055.6 L801.2 1057.6 L803.2 1059.6 L805.2 1061.6 L807.2 1063.5 L809.2 1065.4 L811.2 1067.2 L813.2 1069.0 L815.2 1070.8 L817.2 1072.5 L819.2 1074.3 L821.2 1076.0 L823.2 1077.6 L825.2 1079.2 L827.2 1080.8 L829.2 1082.4 L831.2 1083.9 L833.2 1085.4 L835.2 1086.9 L837.2 1088.3 L839.2 1089.8 L841.2 1091.1 L843.2 1092.5 L845.2 1093.8 L847.2 1095.1 L849.2 1096.3 L851.2 1097.6 L853.2 1098.9 L855.2 1100.1 L857.2 1101.4 L859.2 1102.6 L861.2 1103.9 L863.2 1105.2 L865.2 1106.5 L867.2 1107.8 L869.2 1109.1 L871.2 1110.4 L873.2 1111.7 L875.2 1113.0 L877.2 1114.2 L879.2 1115.5 L881.2 1116.8 L883.2 1118.0 L885.2 1119.2 L887.2 1120.3 L889.2 1121.5 L891.2 1122.6 L893.2 1123.7 L895.2 1124.7 L897.2 1125.7 L899.2 1126.7 L901.2 1127.6 L903.2 1128.5 L905.2 1129.4 L907.2 1130.3 L909.3 1131.1 L911.3 1132.0 L913.3 1132.8 L915.3 1133.7 L917.3 1134.5 L919.3 1135.4 L921.3 1136.2 L923.3 1137.1 L925.3 1138.0 L927.3 1138.9 L929.3 1139.8 L931.3 1140.7 L933.3 1141.6 L935.3 1142.5 L937.3 1143.4 L939.3 1144.3 L941.3 1145.2 L943.3 1146.0 L945.3 1146.9 L947.3 1147.7 L949.3 1148.5 L951.3 1149.3 L953.3 1150.1 L955.3 1150.8 L957.3 1151.5 L959.3 1152.2 L961.3 1152.9 L963.3 1153.6 L965.3 1154.2 L967.3 1154.9 L969.3 1155.5 L971.3 1156.1 L973.3 1156.8 L975.3 1157.4 L977.3 1158.1 L979.3 1158.8 L981.3 1159.5 L983.3 1160.2 L985.3 1160.9 L987.3 1161.6 L989.3 1162.4 L991.3 1163.2 L993.3 1163.9 L995.3 1164.7 L997.3 1165.5 L999.3 1166.3 L1001.3 1167.1 L1003.3 1167.9 L1005.3 1168.7 L1007.3 1169.5 L1009.3 1170.2 L1011.3 1171.0 L1013.3 1171.7 L1015.3 1172.4 L1017.3 1173.1 L1019.3 1173.8 L1021.3 1174.4 L1023.3 1175.1 L1025.3 1175.7 L1027.3 1176.3 L1029.3 1176.9 L1031.3 1177.5 L1033.3 1178.1 L1035.3 1178.7 L1037.3 1179.3 L1039.3 1179.9 L1041.3 1180.5 L1043.3 1181.1 L1045.3 1181.7 L1047.3 1182.3 L1049.3 1182.8 L1051.3 1183.4 L1053.3 1184.0 L1055.3 1184.6 L1057.3 1185.2 L1059.3 1185.8 L1061.3 1186.4 L1063.3 1187.0 L1065.3 1187.6 L1067.3 1188.2 L1069.3 1188.9 L1071.3 1189.5 L1073.4 1190.1 L1075.4 1190.8 L1077.4 1191.4 L1079.4 1192.1 L1081.4 1192.7 L1083.4 1193.4 L1085.4 1194.0 L1087.4 1194.6 L1089.4 1195.2 L1091.4 1195.9 L1093.4 1196.5 L1095.4 1197.0 L1097.4 1197.6 L1099.4 1198.2 L1101.4 1198.8 L1103.4 1199.3 L1105.4 1199.9 L1107.4 1200.5 L1109.4 1201.0 L1111.4 1201.6 L1113.4 1202.2 L1115.4 1202.7 L1117.4 1203.3 L1119.4 1203.9 L1121.4 1204.5 L1123.4 1205.1 L1125.4 1205.8 L1127.4 1206.4 L1129.4 1207.0 L1131.4 1207.7 L1133.4 1208.3 L1135.4 1208.9 L1137.4 1209.6 L1139.4 1210.2 L1141.4 1210.8 L1143.4 1211.4 L1145.4 1212.0 L1147.4 1212.6 L1149.4 1213.1 L1151.4 1213.7 L1153.4 1214.2 L1155.4 1214.7 L1157.4 1215.2 L1159.4 1215.8 L1161.4 1216.2 L1163.4 1216.7 L1165.4 1217.2 L1167.4 1217.7 L1169.4 1218.2 L1171.4 1218.7 L1173.4 1219.2 L1175.4 1219.7 L1177.4 1220.2 L1179.4 1220.7 L1181.4 1221.2 L1183.4 1221.7 L1185.4 1222.2 L1187.4 1222.8 L1189.4 1223.3 L1191.4 1223.8 L1193.4 1224.3 L1195.4 1224.7 L1197.4 1225.2 L1199.4 1225.7 L1201.4 1226.1 L1203.4 1226.5 L1205.4 1226.9 L1207.4 1227.3 L1209.4 1227.7 L1211.4 1228.1 L1213.4 1228.4 L1215.4 1228.8 L1217.4 1229.1 L1219.4 1229.4 L1221.4 1229.7 L1223.4 1230.0 L1225.4 1230.3 L1227.4 1230.6 L1229.4 1230.9 L1231.4 1231.2 L1233.4 1231.5 L1235.5 1231.8 L1237.5 1232.0 L1239.5 1232.3 L1241.5 1232.6 L1243.5 1232.9 L1245.5 1233.2 L1247.5 1233.4 L1249.5 1233.7 L1251.5 1234.0 L1253.5 1234.3 L1255.5 1234.6 L1257.5 1234.9 L1259.5 1235.2 L1261.5 1235.6 L1263.5 1235.9 L1265.5 1236.2 L1267.5 1236.6 L1269.5 1236.9 L1271.5 1237.2 L1273.5 1237.6 L1275.5 1237.9 L1277.5 1238.3 L1279.5 1238.6 L1281.5 1239.0 L1283.5 1239.3 L1285.5 1239.7 L1287.5 1240.0 L1289.5 1240.4 L1291.5 1240.7 L1293.5 1241.1 L1295.5 1241.4 L1297.5 1241.8 L1299.5 1242.1 L1301.5 1242.5 L1303.5 1242.8 L1305.5 1243.1 L1307.5 1243.5 L1309.5 1243.8 L1311.5 1244.1 L1313.5 1244.4 L1315.5 1244.8 L1317.5 1245.1 L1319.5 1245.4 L1321.5 1245.7 L1323.5 1246.0 L1325.5 1246.3 L1327.5 1246.6 L1329.5 1246.9 L1331.5 1247.2 L1333.5 1247.5 L1335.5 1247.8 L1337.5 1248.1 L1339.5 1248.4 L1341.5 1248.6 L1343.5 1248.9 L1345.5 1249.1 L1347.5 1249.4 L1349.5 1249.6 L1351.5 1249.8 L1353.5 1250.1 L1355.5 1250.3 L1357.5 1250.5 L1359.5 1250.7 L1361.5 1250.9 L1363.5 1251.0 L1365.5 1251.2 L1367.5 1251.4 L1369.5 1251.6 L1371.5 1251.7 L1373.5 1251.9 L1375.5 1252.0 L1377.5 1252.2 L1379.5 1252.3 L1381.5 1252.4 L1383.5 1252.6 L1385.5 1252.7 L1387.5 1252.8 L1389.5 1253.0 L1391.5 1253.1 L1393.5 1253.2 L1395.5 1253.3 L1397.6 1253.5 L1399.6 1253.6 L1401.6 1253.7 L1403.6 1253.8 L1405.6 1253.9 L1407.6 1254.0 L1409.6 1254.2 L1411.6 1254.3 L1413.6 1254.4 L1415.6 1254.5 L1417.6 1254.6 L1419.6 1254.7 L1421.6 1254.8 L1423.6 1254.9 L1425.6 1255.0 L1427.6 1255.1 L1429.6 1255.2 L1431.6 1255.3 L1433.6 1255.4 L1435.6 1255.5 L1437.6 1255.6 L1439.6 1255.7 L1441.6 1255.8 L1443.6 1255.9 L1445.6 1255.9 L1447.6 1256.0 L1449.6 1256.1 L1451.6 1256.2 L1453.6 1256.3 L1455.6 1256.4 L1457.6 1256.5 L1459.6 1256.6 L1461.6 1256.7 L1463.6 1256.8 L1465.6 1256.9 L1467.6 1256.9 L1469.6 1257.0 L1471.6 1257.1 L1473.6 1257.2 L1475.6 1257.3 L1477.6 1257.4 L1479.6 1257.4 L1481.6 1257.5 L1483.6 1257.6 L1485.6 1257.7 L1487.6 1257.7 L1489.6 1257.8 L1491.6 1257.9 L1493.6 1258.0 L1495.6 1258.0 L1497.6 1258.1 L1499.6 1258.2 L1501.6 1258.2 L1503.6 1258.3 L1505.6 1258.4 L1507.6 1258.4 L1509.6 1258.5 L1511.6 1258.6 L1513.6 1258.6 L1515.6 1258.7 L1517.6 1258.7 L1519.6 1258.8 L1521.6 1258.9 L1523.6 1258.9 L1525.6 1259.0 L1527.6 1259.0 L1529.6 1259.1 L1531.6 1259.2 L1533.6 1259.2 L1535.6 1259.3 L1537.6 1259.3 L1539.6 1259.4 L1541.6 1259.5 L1543.6 1259.5 L1545.6 1259.6 L1547.6 1259.6 L1549.6 1259.7 L1551.6 1259.7 L1553.6 1259.8 L1555.6 1259.8 L1557.6 1259.9 L1559.7 1260.0 L1561.7 1260.0 L1563.7 1260.1 L1565.7 1260.1 L1567.7 1260.2 L1569.7 1260.2 L1571.7 1260.3 L1573.7 1260.3 L1575.7 1260.4 L1577.7 1260.4 L1579.7 1260.5 L1581.7 1260.5 L1583.7 1260.6 L1585.7 1260.6 L1587.7 1260.7 L1589.7 1260.7 L1591.7 1260.8 L1593.7 1260.8 L1595.7 1260.9 L1597.7 1260.9 L1599.7 1261.0 L1601.7 1261.0 L1603.7 1261.1 L1605.7 1261.1 L1607.7 1261.2 L1609.7 1261.2 L1611.7 1261.3 L1613.7 1261.3 L1615.7 1261.4 L1617.7 1261.4 L1619.7 1261.5 L1621.7 1261.5 L1623.7 1261.5 L1625.7 1261.6 L1627.7 1261.6 L1629.7 1261.7 L1631.7 1261.7 L1633.7 1261.8 L1635.7 1261.8 L1637.7 1261.9 L1639.7 1261.9 L1641.7 1261.9 L1643.7 1262.0 L1645.7 1262.0 L1647.7 1262.1 L1649.7 1262.1 L1651.7 1262.1 L1653.7 1262.2 L1655.7 1262.2 L1657.7 1262.3 L1659.7 1262.3 L1661.7 1262.3 L1663.7 1262.4 L1665.7 1262.4 L1667.7 1262.4 L1669.7 1262.5 L1671.7 1262.5 L1673.7 1262.5 L1675.7 1262.6 L1677.7 1262.6 L1679.7 1262.7 L1681.7 1262.7 L1683.7 1262.7 L1685.7 1262.8 L1687.7 1262.8 L1689.7 1262.8 L1691.7 1262.9 L1693.7 1262.9 L1695.7 1262.9 L1697.7 1263.0 L1699.7 1263.0 L1701.7 1263.0 L1703.7 1263.1 L1705.7 1263.1 L1707.7 1263.1 L1709.7 1263.2 L1711.7 1263.2 L1713.7 1263.2 L1715.7 1263.3 L1717.7 1263.3 L1719.7 1263.3 L1721.8 1263.4 L1723.8 1263.4 L1725.8 1263.4 L1727.8 1263.5 L1729.8 1263.5 L1731.8 1263.5 L1733.8 1263.6 L1735.8 1263.6 L1737.8 1263.6 L1739.8 1263.7 L1741.8 1263.7 L1743.8 1263.7 L1745.8 1263.8 L1747.8 1263.8 L1749.8 1263.8 L1751.8 1263.9 L1753.8 1263.9 L1755.8 1263.9 L1757.8 1264.0 L1759.8 1264.0 L1761.8 1264.0 L1763.8 1264.1 L1765.8 1264.1 L1767.8 1264.1 L1769.8 1264.2 L1771.8 1264.2 L1773.8 1264.2 L1775.8 1264.3 L1777.8 1264.3 L1779.8 1264.3 L1781.8 1264.3 L1783.8 1264.4 L1785.8 1264.4 L1787.8 1264.4 L1789.8 1264.5 L1791.8 1264.5 L1793.8 1264.5 L1795.8 1264.6 L1797.8 1264.6 L1799.8 1264.6 L1801.8 1264.7 L1803.8 1264.7 L1805.8 1264.7 L1807.8 1264.8 L1809.8 1264.8 L1811.8 1264.8 L1813.8 1264.8 L1815.8 1264.9 L1817.8 1264.9 L1819.8 1264.9 L1821.8 1265.0 L1823.8 1265.0 L1825.8 1265.0 L1827.8 1265.1 L1829.8 1265.1 L1831.8 1265.1 L1833.8 1265.1 L1835.8 1265.2 L1837.8 1265.2 L1839.8 1265.2 L1841.8 1265.3 L1843.8 1265.3 L1845.8 1265.3 L1847.8 1265.3 L1849.8 1265.4 L1851.8 1265.4 L1853.8 1265.4 L1855.8 1265.4 L1857.8 1265.5 L1859.8 1265.5 L1861.8 1265.5 L1863.8 1265.6 L1865.8 1265.6 L1867.8 1265.6 L1869.8 1265.6 L1871.8 1265.7 L1873.8 1265.7 L1875.8 1265.7 L1877.8 1265.7 L1879.8 1265.8 L1881.8 1265.8 L1883.8 1265.8 L1885.9 1265.8 L1887.9 1265.9 L1889.9 1265.9 L1891.9 1265.9 L1893.9 1265.9 L1895.9 1265.9 L1897.9 1266.0 L1899.9 1266.0 L1901.9 1266.0 L1903.9 1266.0 L1905.9 1266.1 L1907.9 1266.1 L1909.9 1266.1 L1911.9 1266.1 L1913.9 1266.1 L1915.9 1266.2 L1917.9 1266.2 L1919.9 1266.2 L1921.9 1266.2 L1923.9 1266.2 L1925.9 1266.3 L1927.9 1266.3 L1929.9 1266.3 L1931.9 1266.3 L1933.9 1266.3 L1935.9 1266.4 L1937.9 1266.4 L1939.9 1266.4 L1941.9 1266.4 L1943.9 1266.4 L1945.9 1266.4 L1947.9 1266.5 L1949.9 1266.5 L1951.9 1266.5 L1953.9 1266.5 L1955.9 1266.5 L1957.9 1266.6 L1959.9 1266.6 L1961.9 1266.6 L1963.9 1266.6 L1965.9 1266.6 L1967.9 1266.6 L1969.9 1266.7 L1971.9 1266.7 L1973.9 1266.7 L1975.9 1266.7 L1977.9 1266.7 L1979.9 1266.7 L1981.9 1266.8 L1983.9 1266.8 L1985.9 1266.8 L1987.9 1266.8 L1989.9 1266.8 L1991.9 1266.8 L1993.9 1266.8 L1995.9 1266.9 L1997.9 1266.9 L1999.9 1266.9 L2001.9 1266.9 L2003.9 1266.9 L2005.9 1266.9 L2007.9 1267.0 L2009.9 1267.0 L2011.9 1267.0 L2013.9 1267.0 L2015.9 1267.0 L2017.9 1267.0 L2019.9 1267.0 L2021.9 1267.1 L2023.9 1267.1 L2025.9 1267.1 L2027.9 1267.1 L2029.9 1267.1 L2031.9 1267.1 L2033.9 1267.1 L2035.9 1267.2 L2037.9 1267.2 L2039.9 1267.2 L2041.9 1267.2 L2043.9 1267.2 L2045.9 1267.2 L2048.0 1267.2 L2050.0 1267.3 L2052.0 1267.3 L2054.0 1267.3 L2056.0 1267.3 L2058.0 1267.3 L2060.0 1267.3 L2062.0 1267.3 L2064.0 1267.4 L2066.0 1267.4 L2068.0 1267.4 L2070.0 1267.4 L2072.0 1267.4 L2074.0 1267.4 L2076.0 1267.4 L2078.0 1267.4 L2080.0 1267.5 L2082.0 1267.5 L2084.0 1267.5 L2086.0 1267.5 L2088.0 1267.5 L2090.0 1267.5 L2092.0 1267.5 L2094.0 1267.6 L2096.0 1267.6 L2098.0 1267.6 L2100.0 1267.6 L2102.0 1267.6 L2104.0 1267.6 L2106.0 1267.6 L2108.0 1267.7 L2110.0 1267.7 L2112.0 1267.7 L2114.0 1267.7 L2116.0 1267.7 L2118.0 1267.7 L2120.0 1267.7 L2122.0 1267.8 L2124.0 1267.8 L2126.0 1267.8 L2128.0 1267.8" fill="none" stroke="#100c4a" stroke-width="2.4" stroke-linejoin="round"/><rect x="63" y="79" width="3" height="1299.5" fill="#a0a0a0"/><rect x="66" y="75" width="3" height="1303.6" fill="#111"/><rect x="66" y="75" width="2066" height="3.2" fill="#000"/><rect x="66" y="1375.3" width="2066" height="3.3" fill="#000"/><rect x="66" y="1380.2" width="2066" height="1.6" fill="#ececec"/><rect x="2129" y="78.8" width="3" height="1299.8" fill="#4a4a4a"/><rect x="2132" y="78.8" width="3" height="1299.8" fill="#666"/><rect x="66" y="724" width="2066" height="3" fill="#a0a0a0"/><rect x="66" y="727" width="2066" height="3" fill="#1c1c1c"/><rect x="237.6" y="78" width="3" height="10" fill="#000"/><rect x="237.6" y="717" width="3" height="19" fill="#000"/><rect x="237.6" y="1369" width="3" height="7" fill="#000"/><rect x="409.7" y="78" width="3" height="17" fill="#000"/><rect x="409.7" y="711" width="3" height="35" fill="#000"/><rect x="409.7" y="1359" width="3" height="17" fill="#000"/><rect x="581.8" y="78" width="3" height="10" fill="#000"/><rect x="581.8" y="717" width="3" height="19" fill="#000"/><rect x="581.8" y="1369" width="3" height="7" fill="#000"/><rect x="753.8" y="78" width="3" height="17" fill="#000"/><rect x="753.8" y="711" width="3" height="35" fill="#000"/><rect x="753.8" y="1359" width="3" height="17" fill="#000"/><rect x="925.9" y="78" width="3" height="10" fill="#000"/><rect x="925.9" y="717" width="3" height="19" fill="#000"/><rect x="925.9" y="1369" width="3" height="7" fill="#000"/><rect x="1098.0" y="78" width="3" height="17" fill="#000"/><rect x="1098.0" y="711" width="3" height="35" fill="#000"/><rect x="1098.0" y="1359" width="3" height="17" fill="#000"/><rect x="1270.1" y="78" width="3" height="10" fill="#000"/><rect x="1270.1" y="717" width="3" height="19" fill="#000"/><rect x="1270.1" y="1369" width="3" height="7" fill="#000"/><rect x="1442.2" y="78" width="3" height="17" fill="#000"/><rect x="1442.2" y="711" width="3" height="35" fill="#000"/><rect x="1442.2" y="1359" width="3" height="17" fill="#000"/><rect x="1614.2" y="78" width="3" height="10" fill="#000"/><rect x="1614.2" y="717" width="3" height="19" fill="#000"/><rect x="1614.2" y="1369" width="3" height="7" fill="#000"/><rect x="1786.3" y="78" width="3" height="17" fill="#000"/><rect x="1786.3" y="711" width="3" height="35" fill="#000"/><rect x="1786.3" y="1359" width="3" height="17" fill="#000"/><rect x="1958.4" y="78" width="3" height="10" fill="#000"/><rect x="1958.4" y="717" width="3" height="19" fill="#000"/><rect x="1958.4" y="1369" width="3" height="7" fill="#000"/><text  transform="translate(66.1 1453.7) scale(1.000 1.040)" x="0" y="0" font-family="Liberation Sans, Arial, sans-serif" font-weight="bold" font-size="72.0" text-anchor="middle" fill="#000">0</text><text  transform="translate(410.0 1453.7) scale(1.000 1.040)" x="0" y="0" font-family="Liberation Sans, Arial, sans-serif" font-weight="bold" font-size="72.0" text-anchor="middle" fill="#000">200</text><text  transform="translate(754.1 1453.7) scale(1.000 1.040)" x="0" y="0" font-family="Liberation Sans, Arial, sans-serif" font-weight="bold" font-size="72.0" text-anchor="middle" fill="#000">400</text><text  transform="translate(1099.2 1453.7) scale(1.000 1.040)" x="0" y="0" font-family="Liberation Sans, Arial, sans-serif" font-weight="bold" font-size="72.0" text-anchor="middle" fill="#000">600</text><text  transform="translate(1443.5 1453.7) scale(1.000 1.040)" x="0" y="0" font-family="Liberation Sans, Arial, sans-serif" font-weight="bold" font-size="72.0" text-anchor="middle" fill="#000">800</text><g clip-path="url(#cf0)"><text id="t1_0" transform="translate(1788.3 1453.7) scale(0.974 1.040)" x="0" y="0" font-family="Liberation Sans, Arial, sans-serif" font-weight="bold" font-size="72.0" text-anchor="middle" fill="#000">1000</text></g><g clip-path="url(#cf1)"><text id="t1_1" transform="translate(2132.7 1453.7) scale(0.974 1.040)" x="0" y="0" font-family="Liberation Sans, Arial, sans-serif" font-weight="bold" font-size="72.0" text-anchor="middle" fill="#000">1200</text></g><text  transform="translate(1102.0 1542.5) scale(1.000 1.040)" x="0" y="0" font-family="Liberation Sans, Arial, sans-serif" font-weight="bold" font-size="72.0" text-anchor="middle" fill="#000">Magnetic field, mT</text><text  transform="translate(1976.4 195.0) scale(1.000 1.000)" x="0" y="0" font-family="Liberation Sans, Arial, sans-serif" font-weight="bold" font-size="97.0" text-anchor="start" fill="#000">(a)</text><text  transform="translate(1970.5 851.0) scale(1.000 1.000)" x="0" y="0" font-family="Liberation Sans, Arial, sans-serif" font-weight="bold" font-size="96.0" text-anchor="start" fill="#000">(b)</text><rect x="1297" y="344.3" width="168" height="2.4" fill="#000"/><rect x="1297" y="432" width="168" height="12" fill="#fff0f0"/><rect x="1297" y="435.5" width="168" height="3.6" fill="#9c4242"/><rect x="1297" y="439.1" width="168" height="2.8" fill="#f2a4a4"/><text  transform="translate(1486.0 371.5) scale(1.000 1.050)" x="0" y="0" font-family="Liberation Sans, Arial, sans-serif" font-weight="bold" font-size="72.0" text-anchor="start" fill="#000">x</text><g clip-path="url(#cf2)"><text id="t1_2" transform="translate(1524.0 371.5) scale(1.000 1.050)" x="0" y="0" font-family="Liberation Sans, Arial, sans-serif" font-weight="bold" font-size="72.0" text-anchor="start" fill="#000">1</text></g><text  transform="translate(1583.0 371.5) scale(1.000 1.000)" x="0" y="0" font-family="Liberation Serif, Times New Roman, serif" font-weight="normal" font-size="72.0" text-anchor="start" fill="#000">&#964;</text><text  transform="translate(1635.0 369.0) scale(1.000 1.000)" x="0" y="0" font-family="Liberation Sans, Arial, sans-serif" font-weight="bold" font-size="72.0" text-anchor="start" fill="#000">=</text><g clip-path="url(#cf3)"><text id="t1_3" transform="translate(1695.0 371.5) scale(1.000 1.050)" x="0" y="0" font-family="Liberation Sans, Arial, sans-serif" font-weight="bold" font-size="72.0" text-anchor="start" fill="#000">0.18</text></g><text  transform="translate(1853.0 371.5) scale(1.120 1.000)" x="0" y="0" font-family="Liberation Serif, Times New Roman, serif" font-weight="normal" font-size="68.0" text-anchor="start" fill="#000">&#956;</text><text  transform="translate(1893.0 371.5) scale(1.000 1.050)" x="0" y="0" font-family="Liberation Sans, Arial, sans-serif" font-weight="bold" font-size="72.0" text-anchor="start" fill="#000">s</text><text  transform="translate(1486.0 464.0) scale(1.000 1.050)" x="0" y="0" font-family="Liberation Sans, Arial, sans-serif" font-weight="bold" font-size="72.0" text-anchor="start" fill="#000">x</text><text  transform="translate(1524.0 464.0) scale(1.000 1.050)" x="0" y="0" font-family="Liberation Sans, Arial, sans-serif" font-weight="bold" font-size="72.0" text-anchor="start" fill="#000">4</text><text  transform="translate(1583.0 464.0) scale(1.000 1.000)" x="0" y="0" font-family="Liberation Serif, Times New Roman, serif" font-weight="normal" font-size="72.0" text-anchor="start" fill="#000">&#964;</text><text  transform="translate(1635.0 461.5) scale(1.000 1.000)" x="0" y="0" font-family="Liberation Sans, Arial, sans-serif" font-weight="bold" font-size="72.0" text-anchor="start" fill="#000">=</text><text  transform="translate(1695.0 464.0) scale(1.000 1.050)" x="0" y="0" font-family="Liberation Sans, Arial, sans-serif" font-weight="bold" font-size="72.0" text-anchor="start" fill="#000">0.54</text><text  transform="translate(1853.0 464.0) scale(1.120 1.000)" x="0" y="0" font-family="Liberation Serif, Times New Roman, serif" font-weight="normal" font-size="68.0" text-anchor="start" fill="#000">&#956;</text><text  transform="translate(1893.0 464.0) scale(1.000 1.050)" x="0" y="0" font-family="Liberation Sans, Arial, sans-serif" font-weight="bold" font-size="72.0" text-anchor="start" fill="#000">s</text><rect x="1404.5" y="928.5" width="167.5" height="6" fill="#f0f0fc"/><rect x="1404.5" y="930" width="167.5" height="3" fill="#0e0e40"/><rect x="1404.5" y="1016" width="167.5" height="12" fill="#ffeeee"/><rect x="1404.5" y="1019" width="167.5" height="8" fill="#ffd8d8"/><rect x="1404.5" y="1022" width="167.5" height="3" fill="#6a3030"/><g clip-path="url(#cf4)"><text id="t1_4" transform="translate(1591.0 956.3) scale(1.000 1.050)" x="0" y="0" font-family="Liberation Sans, Arial, sans-serif" font-weight="bold" font-size="72.0" text-anchor="start" fill="#000">1</text></g><text  transform="translate(1650.0 956.3) scale(1.000 1.030)" x="0" y="0" font-family="Liberation Sans, Arial, sans-serif" font-weight="bold" font-size="72.0" text-anchor="start" fill="#000">center</text><text  transform="translate(1590.0 1047.4) scale(1.000 1.050)" x="0" y="0" font-family="Liberation Sans, Arial, sans-serif" font-weight="bold" font-size="72.0" text-anchor="start" fill="#000">2</text><text  transform="translate(1650.0 1047.4) scale(1.000 1.030)" x="0" y="0" font-family="Liberation Sans, Arial, sans-serif" font-weight="bold" font-size="72.0" text-anchor="start" fill="#000">center</text><text  transform="translate(296.0 808.6) scale(1.000 1.060)" x="0" y="0" font-family="Liberation Sans, Arial, sans-serif" font-weight="bold" font-size="52.0" text-anchor="start" fill="#000">B</text><text  transform="translate(329.0 823.6) scale(1.050 1.000)" x="0" y="0" font-family="Liberation Sans, Arial, sans-serif" font-weight="normal" font-size="34.0" text-anchor="start" fill="#000">0</text><g clip-path="url(#cf5)"><text id="t1_5" transform="translate(349.0 808.6) scale(1.000 1.060)" x="0" y="0" font-family="Liberation Sans, Arial, sans-serif" font-weight="bold" font-size="52.0" text-anchor="start" fill="#000">=118.2</text></g><text  transform="translate(519.0 808.6) scale(1.000 1.060)" x="0" y="0" font-family="Liberation Sans, Arial, sans-serif" font-weight="bold" font-size="52.0" text-anchor="start" fill="#000">mT</text><text  transform="translate(689.0 811.6) scale(1.000 1.060)" x="0" y="0" font-family="Liberation Sans, Arial, sans-serif" font-weight="bold" font-size="52.0" text-anchor="start" fill="#000">B</text><text  transform="translate(722.0 826.6) scale(1.050 1.000)" x="0" y="0" font-family="Liberation Sans, Arial, sans-serif" font-weight="normal" font-size="34.0" text-anchor="start" fill="#000">0</text><text  transform="translate(742.0 811.6) scale(1.000 1.060)" x="0" y="0" font-family="Liberation Sans, Arial, sans-serif" font-weight="bold" font-size="52.0" text-anchor="start" fill="#000">=344.3</text><text  transform="translate(913.0 811.6) scale(1.000 1.060)" x="0" y="0" font-family="Liberation Sans, Arial, sans-serif" font-weight="bold" font-size="52.0" text-anchor="start" fill="#000">mT</text><defs><clipPath id="cf0" clipPathUnits="userSpaceOnUse"><rect x="0" y="0" width="2239" height="1444.86"/><rect x="0" y="1456.20" width="2239" height="123.80"/><rect x="0.00" y="1444.36" width="1713.46" height="12.34"/><rect x="1726.51" y="1444.36" width="9.89" height="12.34"/><rect x="1748.53" y="1444.36" width="490.47" height="12.34"/></clipPath><clipPath id="cf1" clipPathUnits="userSpaceOnUse"><rect x="0" y="0" width="2239" height="1444.86"/><rect x="0" y="1456.20" width="2239" height="123.80"/><rect x="0.00" y="1444.36" width="2057.86" height="12.34"/><rect x="2070.91" y="1444.36" width="9.89" height="12.34"/><rect x="2092.93" y="1444.36" width="146.07" height="12.34"/></clipPath><clipPath id="cf2" clipPathUnits="userSpaceOnUse"><rect x="0" y="0" width="2239" height="362.58"/><rect x="0" y="374.00" width="2239" height="1206.00"/><rect x="0.00" y="362.08" width="1527.24" height="12.42"/><rect x="1540.63" y="362.08" width="10.15" height="12.42"/><rect x="1563.24" y="362.08" width="675.76" height="12.42"/></clipPath><clipPath id="cf3" clipPathUnits="userSpaceOnUse"><rect x="0" y="0" width="2239" height="362.58"/><rect x="0" y="374.00" width="2239" height="1206.00"/><rect x="0.00" y="362.08" width="1758.27" height="12.42"/><rect x="1771.66" y="362.08" width="10.15" height="12.42"/><rect x="1794.27" y="362.08" width="444.73" height="12.42"/></clipPath><clipPath id="cf4" clipPathUnits="userSpaceOnUse"><rect x="0" y="0" width="2239" height="947.38"/><rect x="0" y="958.80" width="2239" height="621.20"/><rect x="0.00" y="946.88" width="1594.24" height="12.42"/><rect x="1607.63" y="946.88" width="10.15" height="12.42"/><rect x="1630.24" y="946.88" width="608.76" height="12.42"/></clipPath><clipPath id="cf5" clipPathUnits="userSpaceOnUse"><rect x="0" y="0" width="2239" height="802.10"/><rect x="0" y="811.10" width="2239" height="768.90"/><rect x="0.00" y="801.60" width="381.70" height="10.00"/><rect x="391.37" y="801.60" width="7.33" height="10.00"/><rect x="407.70" y="801.60" width="0.05" height="10.00"/><rect x="417.42" y="801.60" width="7.33" height="10.00"/><rect x="433.75" y="801.60" width="1805.25" height="10.00"/></clipPath></defs></svg></body></html>
